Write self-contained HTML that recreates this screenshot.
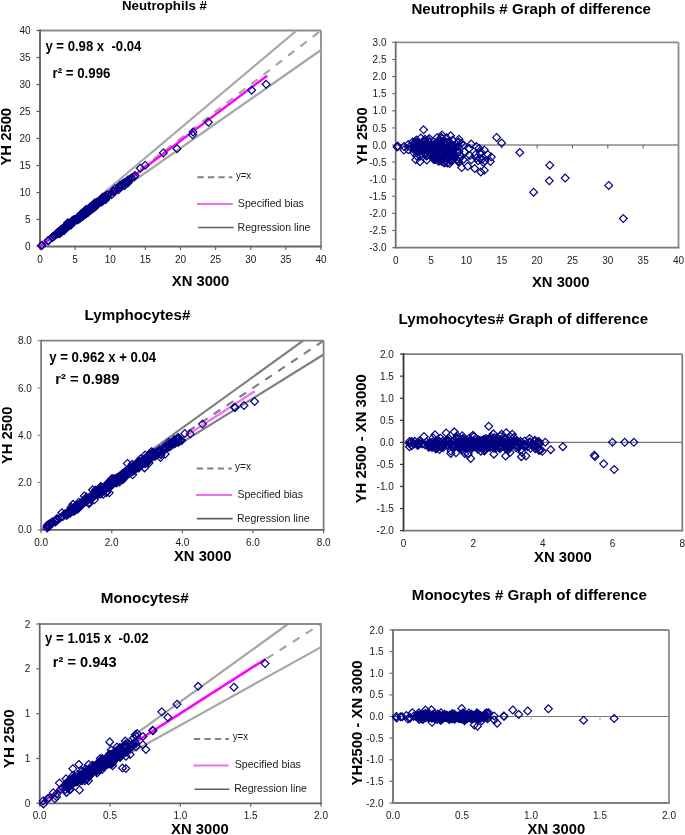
<!DOCTYPE html><html><head><meta charset="utf-8"><style>html,body{margin:0;padding:0;background:#fff;}svg{display:block;will-change:transform;}</style></head><body><svg width="685" height="835" viewBox="0 0 685 835" font-family="Liberation Sans, sans-serif"><rect width="685" height="835" fill="#fff"/><line x1="40.00" y1="30.50" x2="321.00" y2="30.50" stroke="#8c8c8c" stroke-width="1.8"/><line x1="321.00" y1="30.50" x2="321.00" y2="246.50" stroke="#8c8c8c" stroke-width="1.8"/><line x1="40.00" y1="29.60" x2="40.00" y2="247.40" stroke="#595959" stroke-width="1.8"/><line x1="39.10" y1="246.50" x2="321.90" y2="246.50" stroke="#666" stroke-width="1.8"/><line x1="36.50" y1="246.50" x2="40.00" y2="246.50" stroke="#595959" stroke-width="1.2"/><text x="30.50" y="250.10" font-size="10" font-weight="normal" text-anchor="end" fill="#1a1a1a" xml:space="preserve">0</text><line x1="36.50" y1="219.50" x2="40.00" y2="219.50" stroke="#595959" stroke-width="1.2"/><text x="30.50" y="223.10" font-size="10" font-weight="normal" text-anchor="end" fill="#1a1a1a" xml:space="preserve">5</text><line x1="36.50" y1="192.50" x2="40.00" y2="192.50" stroke="#595959" stroke-width="1.2"/><text x="30.50" y="196.10" font-size="10" font-weight="normal" text-anchor="end" fill="#1a1a1a" xml:space="preserve">10</text><line x1="36.50" y1="165.50" x2="40.00" y2="165.50" stroke="#595959" stroke-width="1.2"/><text x="30.50" y="169.10" font-size="10" font-weight="normal" text-anchor="end" fill="#1a1a1a" xml:space="preserve">15</text><line x1="36.50" y1="138.50" x2="40.00" y2="138.50" stroke="#595959" stroke-width="1.2"/><text x="30.50" y="142.10" font-size="10" font-weight="normal" text-anchor="end" fill="#1a1a1a" xml:space="preserve">20</text><line x1="36.50" y1="111.50" x2="40.00" y2="111.50" stroke="#595959" stroke-width="1.2"/><text x="30.50" y="115.10" font-size="10" font-weight="normal" text-anchor="end" fill="#1a1a1a" xml:space="preserve">25</text><line x1="36.50" y1="84.50" x2="40.00" y2="84.50" stroke="#595959" stroke-width="1.2"/><text x="30.50" y="88.10" font-size="10" font-weight="normal" text-anchor="end" fill="#1a1a1a" xml:space="preserve">30</text><line x1="36.50" y1="57.50" x2="40.00" y2="57.50" stroke="#595959" stroke-width="1.2"/><text x="30.50" y="61.10" font-size="10" font-weight="normal" text-anchor="end" fill="#1a1a1a" xml:space="preserve">35</text><line x1="36.50" y1="30.50" x2="40.00" y2="30.50" stroke="#595959" stroke-width="1.2"/><text x="30.50" y="34.10" font-size="10" font-weight="normal" text-anchor="end" fill="#1a1a1a" xml:space="preserve">40</text><line x1="40.00" y1="246.50" x2="40.00" y2="250.00" stroke="#666" stroke-width="1.2"/><text x="40.00" y="263.30" font-size="10" font-weight="normal" text-anchor="middle" fill="#1a1a1a" xml:space="preserve">0</text><line x1="75.12" y1="246.50" x2="75.12" y2="250.00" stroke="#666" stroke-width="1.2"/><text x="75.12" y="263.30" font-size="10" font-weight="normal" text-anchor="middle" fill="#1a1a1a" xml:space="preserve">5</text><line x1="110.25" y1="246.50" x2="110.25" y2="250.00" stroke="#666" stroke-width="1.2"/><text x="110.25" y="263.30" font-size="10" font-weight="normal" text-anchor="middle" fill="#1a1a1a" xml:space="preserve">10</text><line x1="145.38" y1="246.50" x2="145.38" y2="250.00" stroke="#666" stroke-width="1.2"/><text x="145.38" y="263.30" font-size="10" font-weight="normal" text-anchor="middle" fill="#1a1a1a" xml:space="preserve">15</text><line x1="180.50" y1="246.50" x2="180.50" y2="250.00" stroke="#666" stroke-width="1.2"/><text x="180.50" y="263.30" font-size="10" font-weight="normal" text-anchor="middle" fill="#1a1a1a" xml:space="preserve">20</text><line x1="215.62" y1="246.50" x2="215.62" y2="250.00" stroke="#666" stroke-width="1.2"/><text x="215.62" y="263.30" font-size="10" font-weight="normal" text-anchor="middle" fill="#1a1a1a" xml:space="preserve">25</text><line x1="250.75" y1="246.50" x2="250.75" y2="250.00" stroke="#666" stroke-width="1.2"/><text x="250.75" y="263.30" font-size="10" font-weight="normal" text-anchor="middle" fill="#1a1a1a" xml:space="preserve">30</text><line x1="285.88" y1="246.50" x2="285.88" y2="250.00" stroke="#666" stroke-width="1.2"/><text x="285.88" y="263.30" font-size="10" font-weight="normal" text-anchor="middle" fill="#1a1a1a" xml:space="preserve">35</text><line x1="321.00" y1="246.50" x2="321.00" y2="250.00" stroke="#666" stroke-width="1.2"/><text x="321.00" y="263.30" font-size="10" font-weight="normal" text-anchor="middle" fill="#1a1a1a" xml:space="preserve">40</text><text x="531.20" y="13.90" font-size="15" font-weight="bold" text-anchor="middle" fill="#000" textLength="239.60" lengthAdjust="spacingAndGlyphs" xml:space="preserve">Neutrophils # Graph of difference</text><text x="367.30" y="136.00" font-size="15" font-weight="bold" text-anchor="middle" fill="#000" textLength="57.50" lengthAdjust="spacingAndGlyphs" transform="rotate(-90 367.30 136.00)" xml:space="preserve">YH 2500</text><text x="532.00" y="286.50" font-size="15" font-weight="bold" text-anchor="start" fill="#000" textLength="57.50" lengthAdjust="spacingAndGlyphs" xml:space="preserve">XN 3000</text><line x1="395.70" y1="145.00" x2="678.50" y2="145.00" stroke="#a6a6a6" stroke-width="1.8"/><line x1="431.05" y1="145.00" x2="431.05" y2="148.50" stroke="#595959" stroke-width="1"/><line x1="466.40" y1="145.00" x2="466.40" y2="148.50" stroke="#595959" stroke-width="1"/><line x1="501.75" y1="145.00" x2="501.75" y2="148.50" stroke="#595959" stroke-width="1"/><line x1="537.10" y1="145.00" x2="537.10" y2="148.50" stroke="#595959" stroke-width="1"/><line x1="572.45" y1="145.00" x2="572.45" y2="148.50" stroke="#595959" stroke-width="1"/><line x1="607.80" y1="145.00" x2="607.80" y2="148.50" stroke="#595959" stroke-width="1"/><line x1="643.15" y1="145.00" x2="643.15" y2="148.50" stroke="#595959" stroke-width="1"/><line x1="678.50" y1="145.00" x2="678.50" y2="148.50" stroke="#595959" stroke-width="1"/><line x1="395.70" y1="42.40" x2="678.50" y2="42.40" stroke="#8c8c8c" stroke-width="1.8"/><line x1="678.50" y1="42.40" x2="678.50" y2="247.60" stroke="#8c8c8c" stroke-width="1.8"/><line x1="395.70" y1="41.50" x2="395.70" y2="248.50" stroke="#6e6e6e" stroke-width="1.8"/><line x1="394.80" y1="247.60" x2="679.40" y2="247.60" stroke="#7a7a7a" stroke-width="1.8"/><line x1="392.20" y1="247.60" x2="395.70" y2="247.60" stroke="#6e6e6e" stroke-width="1.2"/><text x="386.50" y="251.20" font-size="10" font-weight="normal" text-anchor="end" fill="#1a1a1a" xml:space="preserve">-3.0</text><line x1="392.20" y1="230.50" x2="395.70" y2="230.50" stroke="#6e6e6e" stroke-width="1.2"/><text x="386.50" y="234.10" font-size="10" font-weight="normal" text-anchor="end" fill="#1a1a1a" xml:space="preserve">-2.5</text><line x1="392.20" y1="213.40" x2="395.70" y2="213.40" stroke="#6e6e6e" stroke-width="1.2"/><text x="386.50" y="217.00" font-size="10" font-weight="normal" text-anchor="end" fill="#1a1a1a" xml:space="preserve">-2.0</text><line x1="392.20" y1="196.30" x2="395.70" y2="196.30" stroke="#6e6e6e" stroke-width="1.2"/><text x="386.50" y="199.90" font-size="10" font-weight="normal" text-anchor="end" fill="#1a1a1a" xml:space="preserve">-1.5</text><line x1="392.20" y1="179.20" x2="395.70" y2="179.20" stroke="#6e6e6e" stroke-width="1.2"/><text x="386.50" y="182.80" font-size="10" font-weight="normal" text-anchor="end" fill="#1a1a1a" xml:space="preserve">-1.0</text><line x1="392.20" y1="162.10" x2="395.70" y2="162.10" stroke="#6e6e6e" stroke-width="1.2"/><text x="386.50" y="165.70" font-size="10" font-weight="normal" text-anchor="end" fill="#1a1a1a" xml:space="preserve">-0.5</text><line x1="392.20" y1="145.00" x2="395.70" y2="145.00" stroke="#6e6e6e" stroke-width="1.2"/><text x="386.50" y="148.60" font-size="10" font-weight="normal" text-anchor="end" fill="#1a1a1a" xml:space="preserve">0.0</text><line x1="392.20" y1="127.90" x2="395.70" y2="127.90" stroke="#6e6e6e" stroke-width="1.2"/><text x="386.50" y="131.50" font-size="10" font-weight="normal" text-anchor="end" fill="#1a1a1a" xml:space="preserve">0.5</text><line x1="392.20" y1="110.80" x2="395.70" y2="110.80" stroke="#6e6e6e" stroke-width="1.2"/><text x="386.50" y="114.40" font-size="10" font-weight="normal" text-anchor="end" fill="#1a1a1a" xml:space="preserve">1.0</text><line x1="392.20" y1="93.70" x2="395.70" y2="93.70" stroke="#6e6e6e" stroke-width="1.2"/><text x="386.50" y="97.30" font-size="10" font-weight="normal" text-anchor="end" fill="#1a1a1a" xml:space="preserve">1.5</text><line x1="392.20" y1="76.60" x2="395.70" y2="76.60" stroke="#6e6e6e" stroke-width="1.2"/><text x="386.50" y="80.20" font-size="10" font-weight="normal" text-anchor="end" fill="#1a1a1a" xml:space="preserve">2.0</text><line x1="392.20" y1="59.50" x2="395.70" y2="59.50" stroke="#6e6e6e" stroke-width="1.2"/><text x="386.50" y="63.10" font-size="10" font-weight="normal" text-anchor="end" fill="#1a1a1a" xml:space="preserve">2.5</text><line x1="392.20" y1="42.40" x2="395.70" y2="42.40" stroke="#6e6e6e" stroke-width="1.2"/><text x="386.50" y="46.00" font-size="10" font-weight="normal" text-anchor="end" fill="#1a1a1a" xml:space="preserve">3.0</text><text x="395.70" y="264.20" font-size="10" font-weight="normal" text-anchor="middle" fill="#1a1a1a" xml:space="preserve">0</text><text x="431.05" y="264.20" font-size="10" font-weight="normal" text-anchor="middle" fill="#1a1a1a" xml:space="preserve">5</text><text x="466.40" y="264.20" font-size="10" font-weight="normal" text-anchor="middle" fill="#1a1a1a" xml:space="preserve">10</text><text x="501.75" y="264.20" font-size="10" font-weight="normal" text-anchor="middle" fill="#1a1a1a" xml:space="preserve">15</text><text x="537.10" y="264.20" font-size="10" font-weight="normal" text-anchor="middle" fill="#1a1a1a" xml:space="preserve">20</text><text x="572.45" y="264.20" font-size="10" font-weight="normal" text-anchor="middle" fill="#1a1a1a" xml:space="preserve">25</text><text x="607.80" y="264.20" font-size="10" font-weight="normal" text-anchor="middle" fill="#1a1a1a" xml:space="preserve">30</text><text x="643.15" y="264.20" font-size="10" font-weight="normal" text-anchor="middle" fill="#1a1a1a" xml:space="preserve">35</text><text x="678.50" y="264.20" font-size="10" font-weight="normal" text-anchor="middle" fill="#1a1a1a" xml:space="preserve">40</text><text x="84.60" y="319.90" font-size="15" font-weight="bold" text-anchor="start" fill="#000" textLength="105.80" lengthAdjust="spacingAndGlyphs" xml:space="preserve">Lymphocytes#</text><text x="11.60" y="435.30" font-size="15" font-weight="bold" text-anchor="middle" fill="#000" textLength="57.40" lengthAdjust="spacingAndGlyphs" transform="rotate(-90 11.60 435.30)" xml:space="preserve">YH 2500</text><text x="174.00" y="561.20" font-size="15" font-weight="bold" text-anchor="start" fill="#000" textLength="57.50" lengthAdjust="spacingAndGlyphs" xml:space="preserve">XN 3000</text><text x="49.30" y="362.00" font-size="14" font-weight="bold" text-anchor="start" fill="#000" textLength="106.80" lengthAdjust="spacingAndGlyphs" xml:space="preserve">y = 0.962 x + 0.04</text><text x="55.20" y="383.60" font-size="15" font-weight="bold" text-anchor="start" fill="#000" textLength="64.20" lengthAdjust="spacingAndGlyphs" xml:space="preserve">r² = 0.989</text><line x1="41.10" y1="529.80" x2="303.20" y2="340.70" stroke="#7f7f7f" stroke-width="2.2"/><line x1="41.10" y1="529.80" x2="323.60" y2="354.50" stroke="#7f7f7f" stroke-width="2.2"/><line x1="323.60" y1="340.70" x2="41.10" y2="529.80" stroke="#808080" stroke-width="2.2" stroke-dasharray="6.2 9.3" stroke-dashoffset="14.4" stroke-linecap="round"/><line x1="41.10" y1="529.80" x2="254.74" y2="391.28" stroke="#ff66ff" stroke-width="2.2"/><line x1="196.70" y1="468.50" x2="231.70" y2="468.50" stroke="#808080" stroke-width="2" stroke-dasharray="6.3 4.2"/><text x="235.00" y="470.00" font-size="11" font-weight="normal" text-anchor="start" fill="#1a1a1a" textLength="16.00" lengthAdjust="spacingAndGlyphs" xml:space="preserve">y=x</text><line x1="196.00" y1="495.00" x2="232.00" y2="495.00" stroke="#f26cf0" stroke-width="2"/><text x="237.40" y="498.40" font-size="10.5" font-weight="normal" text-anchor="start" fill="#1a1a1a" textLength="65.60" lengthAdjust="spacingAndGlyphs" xml:space="preserve">Specified bias</text><line x1="196.90" y1="518.60" x2="232.70" y2="518.60" stroke="#5f5f5f" stroke-width="1.6"/><text x="237.00" y="522.00" font-size="10.5" font-weight="normal" text-anchor="start" fill="#1a1a1a" textLength="72.60" lengthAdjust="spacingAndGlyphs" xml:space="preserve">Regression line</text><line x1="41.10" y1="340.70" x2="323.60" y2="340.70" stroke="#808080" stroke-width="1.8"/><line x1="323.60" y1="340.70" x2="323.60" y2="529.80" stroke="#808080" stroke-width="1.8"/><line x1="41.10" y1="339.80" x2="41.10" y2="530.70" stroke="#808080" stroke-width="1.8"/><line x1="40.20" y1="529.80" x2="324.50" y2="529.80" stroke="#666" stroke-width="1.8"/><line x1="37.60" y1="529.80" x2="41.10" y2="529.80" stroke="#808080" stroke-width="1.2"/><text x="31.80" y="533.40" font-size="10" font-weight="normal" text-anchor="end" fill="#1a1a1a" xml:space="preserve">0.0</text><line x1="37.60" y1="482.52" x2="41.10" y2="482.52" stroke="#808080" stroke-width="1.2"/><text x="31.80" y="486.12" font-size="10" font-weight="normal" text-anchor="end" fill="#1a1a1a" xml:space="preserve">2.0</text><line x1="37.60" y1="435.25" x2="41.10" y2="435.25" stroke="#808080" stroke-width="1.2"/><text x="31.80" y="438.85" font-size="10" font-weight="normal" text-anchor="end" fill="#1a1a1a" xml:space="preserve">4.0</text><line x1="37.60" y1="387.97" x2="41.10" y2="387.97" stroke="#808080" stroke-width="1.2"/><text x="31.80" y="391.57" font-size="10" font-weight="normal" text-anchor="end" fill="#1a1a1a" xml:space="preserve">6.0</text><line x1="37.60" y1="340.70" x2="41.10" y2="340.70" stroke="#808080" stroke-width="1.2"/><text x="31.80" y="344.30" font-size="10" font-weight="normal" text-anchor="end" fill="#1a1a1a" xml:space="preserve">8.0</text><line x1="41.10" y1="529.80" x2="41.10" y2="533.30" stroke="#666" stroke-width="1.2"/><text x="41.10" y="545.70" font-size="10" font-weight="normal" text-anchor="middle" fill="#1a1a1a" xml:space="preserve">0.0</text><line x1="111.72" y1="529.80" x2="111.72" y2="533.30" stroke="#666" stroke-width="1.2"/><text x="111.72" y="545.70" font-size="10" font-weight="normal" text-anchor="middle" fill="#1a1a1a" xml:space="preserve">2.0</text><line x1="182.35" y1="529.80" x2="182.35" y2="533.30" stroke="#666" stroke-width="1.2"/><text x="182.35" y="545.70" font-size="10" font-weight="normal" text-anchor="middle" fill="#1a1a1a" xml:space="preserve">4.0</text><line x1="252.97" y1="529.80" x2="252.97" y2="533.30" stroke="#666" stroke-width="1.2"/><text x="252.97" y="545.70" font-size="10" font-weight="normal" text-anchor="middle" fill="#1a1a1a" xml:space="preserve">6.0</text><line x1="323.60" y1="529.80" x2="323.60" y2="533.30" stroke="#666" stroke-width="1.2"/><text x="323.60" y="545.70" font-size="10" font-weight="normal" text-anchor="middle" fill="#1a1a1a" xml:space="preserve">8.0</text><text x="398.60" y="324.30" font-size="15" font-weight="bold" text-anchor="start" fill="#000" textLength="249.50" lengthAdjust="spacingAndGlyphs" xml:space="preserve">Lymohocytes# Graph of difference</text><text x="366.00" y="438.80" font-size="15" font-weight="bold" text-anchor="middle" fill="#000" textLength="129.00" lengthAdjust="spacingAndGlyphs" transform="rotate(-90 366.00 438.80)" xml:space="preserve">YH 2500 - XN 3000</text><text x="534.00" y="561.50" font-size="15" font-weight="bold" text-anchor="start" fill="#000" textLength="57.80" lengthAdjust="spacingAndGlyphs" xml:space="preserve">XN 3000</text><line x1="403.50" y1="442.35" x2="682.30" y2="442.35" stroke="#777" stroke-width="1.1"/><line x1="473.20" y1="442.35" x2="473.20" y2="445.85" stroke="#666" stroke-width="1"/><line x1="542.90" y1="442.35" x2="542.90" y2="445.85" stroke="#666" stroke-width="1"/><line x1="612.60" y1="442.35" x2="612.60" y2="445.85" stroke="#666" stroke-width="1"/><line x1="403.50" y1="354.10" x2="682.30" y2="354.10" stroke="#808080" stroke-width="1.8"/><line x1="682.30" y1="354.10" x2="682.30" y2="530.60" stroke="#808080" stroke-width="1.8"/><line x1="403.50" y1="353.20" x2="403.50" y2="531.50" stroke="#333" stroke-width="1.8"/><line x1="402.60" y1="530.60" x2="683.20" y2="530.60" stroke="#777" stroke-width="1.8"/><line x1="400.00" y1="530.60" x2="403.50" y2="530.60" stroke="#333" stroke-width="1.2"/><text x="393.80" y="534.20" font-size="10" font-weight="normal" text-anchor="end" fill="#1a1a1a" xml:space="preserve">-2.0</text><line x1="400.00" y1="508.54" x2="403.50" y2="508.54" stroke="#333" stroke-width="1.2"/><text x="393.80" y="512.14" font-size="10" font-weight="normal" text-anchor="end" fill="#1a1a1a" xml:space="preserve">-1.5</text><line x1="400.00" y1="486.48" x2="403.50" y2="486.48" stroke="#333" stroke-width="1.2"/><text x="393.80" y="490.08" font-size="10" font-weight="normal" text-anchor="end" fill="#1a1a1a" xml:space="preserve">-1.0</text><line x1="400.00" y1="464.41" x2="403.50" y2="464.41" stroke="#333" stroke-width="1.2"/><text x="393.80" y="468.01" font-size="10" font-weight="normal" text-anchor="end" fill="#1a1a1a" xml:space="preserve">-0.5</text><line x1="400.00" y1="442.35" x2="403.50" y2="442.35" stroke="#333" stroke-width="1.2"/><text x="393.80" y="445.95" font-size="10" font-weight="normal" text-anchor="end" fill="#1a1a1a" xml:space="preserve">0.0</text><line x1="400.00" y1="420.29" x2="403.50" y2="420.29" stroke="#333" stroke-width="1.2"/><text x="393.80" y="423.89" font-size="10" font-weight="normal" text-anchor="end" fill="#1a1a1a" xml:space="preserve">0.5</text><line x1="400.00" y1="398.23" x2="403.50" y2="398.23" stroke="#333" stroke-width="1.2"/><text x="393.80" y="401.83" font-size="10" font-weight="normal" text-anchor="end" fill="#1a1a1a" xml:space="preserve">1.0</text><line x1="400.00" y1="376.16" x2="403.50" y2="376.16" stroke="#333" stroke-width="1.2"/><text x="393.80" y="379.76" font-size="10" font-weight="normal" text-anchor="end" fill="#1a1a1a" xml:space="preserve">1.5</text><line x1="400.00" y1="354.10" x2="403.50" y2="354.10" stroke="#333" stroke-width="1.2"/><text x="393.80" y="357.70" font-size="10" font-weight="normal" text-anchor="end" fill="#1a1a1a" xml:space="preserve">2.0</text><text x="403.50" y="546.60" font-size="10" font-weight="normal" text-anchor="middle" fill="#1a1a1a" xml:space="preserve">0</text><text x="473.20" y="546.60" font-size="10" font-weight="normal" text-anchor="middle" fill="#1a1a1a" xml:space="preserve">2</text><text x="542.90" y="546.60" font-size="10" font-weight="normal" text-anchor="middle" fill="#1a1a1a" xml:space="preserve">4</text><text x="612.60" y="546.60" font-size="10" font-weight="normal" text-anchor="middle" fill="#1a1a1a" xml:space="preserve">6</text><text x="682.30" y="546.60" font-size="10" font-weight="normal" text-anchor="middle" fill="#1a1a1a" xml:space="preserve">8</text><text x="100.80" y="603.00" font-size="15" font-weight="bold" text-anchor="start" fill="#000" textLength="88.00" lengthAdjust="spacingAndGlyphs" xml:space="preserve">Monocytes#</text><text x="14.20" y="738.80" font-size="15" font-weight="bold" text-anchor="middle" fill="#000" textLength="58.70" lengthAdjust="spacingAndGlyphs" transform="rotate(-90 14.20 738.80)" xml:space="preserve">YH 2500</text><text x="171.10" y="833.90" font-size="15" font-weight="bold" text-anchor="start" fill="#000" textLength="57.50" lengthAdjust="spacingAndGlyphs" xml:space="preserve">XN 3000</text><text x="45.10" y="643.20" font-size="14" font-weight="bold" text-anchor="start" fill="#000" textLength="103.50" lengthAdjust="spacingAndGlyphs" xml:space="preserve">y = 1.015 x  -0.02</text><text x="52.80" y="666.50" font-size="15" font-weight="bold" text-anchor="start" fill="#000" textLength="63.80" lengthAdjust="spacingAndGlyphs" xml:space="preserve">r² = 0.943</text><line x1="39.70" y1="803.30" x2="288.00" y2="624.00" stroke="#a6a6a6" stroke-width="2.2"/><line x1="39.70" y1="803.30" x2="321.00" y2="647.10" stroke="#a6a6a6" stroke-width="2.2"/><line x1="321.00" y1="624.00" x2="39.70" y2="803.30" stroke="#a6a6a6" stroke-width="2.2" stroke-dasharray="6.2 9.3" stroke-dashoffset="4.6" stroke-linecap="round"/><line x1="39.70" y1="803.30" x2="264.74" y2="659.50" stroke="#ff00ff" stroke-width="2.5" stroke-linecap="round"/><line x1="193.90" y1="739.00" x2="228.90" y2="739.00" stroke="#808080" stroke-width="2" stroke-dasharray="6.3 4.2"/><text x="232.70" y="740.40" font-size="11" font-weight="normal" text-anchor="start" fill="#1a1a1a" textLength="15.50" lengthAdjust="spacingAndGlyphs" xml:space="preserve">y=x</text><line x1="193.50" y1="765.50" x2="228.60" y2="765.50" stroke="#f26cf0" stroke-width="2"/><text x="234.70" y="768.40" font-size="10.5" font-weight="normal" text-anchor="start" fill="#1a1a1a" textLength="66.20" lengthAdjust="spacingAndGlyphs" xml:space="preserve">Specified bias</text><line x1="194.50" y1="789.20" x2="229.50" y2="789.20" stroke="#5f5f5f" stroke-width="1.6"/><text x="234.20" y="792.00" font-size="10.5" font-weight="normal" text-anchor="start" fill="#1a1a1a" textLength="72.80" lengthAdjust="spacingAndGlyphs" xml:space="preserve">Regression line</text><line x1="39.70" y1="624.00" x2="321.00" y2="624.00" stroke="#8c8c8c" stroke-width="1.8"/><line x1="321.00" y1="624.00" x2="321.00" y2="803.30" stroke="#8c8c8c" stroke-width="1.8"/><line x1="39.70" y1="623.10" x2="39.70" y2="804.20" stroke="#666" stroke-width="1.8"/><line x1="38.80" y1="803.30" x2="321.90" y2="803.30" stroke="#666" stroke-width="1.8"/><line x1="36.20" y1="803.30" x2="39.70" y2="803.30" stroke="#666" stroke-width="1.2"/><text x="30.20" y="806.90" font-size="10" font-weight="normal" text-anchor="end" fill="#1a1a1a" xml:space="preserve">0</text><line x1="36.20" y1="758.47" x2="39.70" y2="758.47" stroke="#666" stroke-width="1.2"/><text x="30.20" y="762.07" font-size="10" font-weight="normal" text-anchor="end" fill="#1a1a1a" xml:space="preserve">1</text><line x1="36.20" y1="713.65" x2="39.70" y2="713.65" stroke="#666" stroke-width="1.2"/><text x="30.20" y="717.25" font-size="10" font-weight="normal" text-anchor="end" fill="#1a1a1a" xml:space="preserve">1</text><line x1="36.20" y1="668.83" x2="39.70" y2="668.83" stroke="#666" stroke-width="1.2"/><text x="30.20" y="672.43" font-size="10" font-weight="normal" text-anchor="end" fill="#1a1a1a" xml:space="preserve">2</text><line x1="36.20" y1="624.00" x2="39.70" y2="624.00" stroke="#666" stroke-width="1.2"/><text x="30.20" y="627.60" font-size="10" font-weight="normal" text-anchor="end" fill="#1a1a1a" xml:space="preserve">2</text><line x1="39.70" y1="803.30" x2="39.70" y2="806.80" stroke="#666" stroke-width="1.2"/><text x="39.70" y="819.30" font-size="10" font-weight="normal" text-anchor="middle" fill="#1a1a1a" xml:space="preserve">0.0</text><line x1="110.03" y1="803.30" x2="110.03" y2="806.80" stroke="#666" stroke-width="1.2"/><text x="110.03" y="819.30" font-size="10" font-weight="normal" text-anchor="middle" fill="#1a1a1a" xml:space="preserve">0.5</text><line x1="180.35" y1="803.30" x2="180.35" y2="806.80" stroke="#666" stroke-width="1.2"/><text x="180.35" y="819.30" font-size="10" font-weight="normal" text-anchor="middle" fill="#1a1a1a" xml:space="preserve">1.0</text><line x1="250.68" y1="803.30" x2="250.68" y2="806.80" stroke="#666" stroke-width="1.2"/><text x="250.68" y="819.30" font-size="10" font-weight="normal" text-anchor="middle" fill="#1a1a1a" xml:space="preserve">1.5</text><line x1="321.00" y1="803.30" x2="321.00" y2="806.80" stroke="#666" stroke-width="1.2"/><text x="321.00" y="819.30" font-size="10" font-weight="normal" text-anchor="middle" fill="#1a1a1a" xml:space="preserve">2.0</text><text x="411.80" y="599.60" font-size="15" font-weight="bold" text-anchor="start" fill="#000" textLength="235.00" lengthAdjust="spacingAndGlyphs" xml:space="preserve">Monocytes # Graph of difference</text><text x="362.20" y="723.00" font-size="15" font-weight="bold" text-anchor="middle" fill="#000" textLength="125.00" lengthAdjust="spacingAndGlyphs" transform="rotate(-90 362.20 723.00)" xml:space="preserve">YH2500 - XN 3000</text><text x="527.60" y="834.20" font-size="15" font-weight="bold" text-anchor="start" fill="#000" textLength="57.50" lengthAdjust="spacingAndGlyphs" xml:space="preserve">XN 3000</text><line x1="393.00" y1="716.50" x2="669.00" y2="716.50" stroke="#777" stroke-width="1.1"/><line x1="462.00" y1="716.50" x2="462.00" y2="720.00" stroke="#aaa" stroke-width="1"/><line x1="531.00" y1="716.50" x2="531.00" y2="720.00" stroke="#aaa" stroke-width="1"/><line x1="600.00" y1="716.50" x2="600.00" y2="720.00" stroke="#aaa" stroke-width="1"/><line x1="393.00" y1="630.00" x2="669.00" y2="630.00" stroke="#8c8c8c" stroke-width="1.8"/><line x1="669.00" y1="630.00" x2="669.00" y2="803.00" stroke="#8c8c8c" stroke-width="1.8"/><line x1="393.00" y1="629.10" x2="393.00" y2="803.90" stroke="#6e6e6e" stroke-width="1.8"/><line x1="392.10" y1="803.00" x2="669.90" y2="803.00" stroke="#808080" stroke-width="1.8"/><line x1="389.50" y1="803.00" x2="393.00" y2="803.00" stroke="#6e6e6e" stroke-width="1.2"/><text x="383.50" y="806.60" font-size="10" font-weight="normal" text-anchor="end" fill="#1a1a1a" xml:space="preserve">-2.0</text><line x1="389.50" y1="781.38" x2="393.00" y2="781.38" stroke="#6e6e6e" stroke-width="1.2"/><text x="383.50" y="784.98" font-size="10" font-weight="normal" text-anchor="end" fill="#1a1a1a" xml:space="preserve">-1.5</text><line x1="389.50" y1="759.75" x2="393.00" y2="759.75" stroke="#6e6e6e" stroke-width="1.2"/><text x="383.50" y="763.35" font-size="10" font-weight="normal" text-anchor="end" fill="#1a1a1a" xml:space="preserve">-1.0</text><line x1="389.50" y1="738.12" x2="393.00" y2="738.12" stroke="#6e6e6e" stroke-width="1.2"/><text x="383.50" y="741.73" font-size="10" font-weight="normal" text-anchor="end" fill="#1a1a1a" xml:space="preserve">-0.5</text><line x1="389.50" y1="716.50" x2="393.00" y2="716.50" stroke="#6e6e6e" stroke-width="1.2"/><text x="383.50" y="720.10" font-size="10" font-weight="normal" text-anchor="end" fill="#1a1a1a" xml:space="preserve">0.0</text><line x1="389.50" y1="694.88" x2="393.00" y2="694.88" stroke="#6e6e6e" stroke-width="1.2"/><text x="383.50" y="698.48" font-size="10" font-weight="normal" text-anchor="end" fill="#1a1a1a" xml:space="preserve">0.5</text><line x1="389.50" y1="673.25" x2="393.00" y2="673.25" stroke="#6e6e6e" stroke-width="1.2"/><text x="383.50" y="676.85" font-size="10" font-weight="normal" text-anchor="end" fill="#1a1a1a" xml:space="preserve">1.0</text><line x1="389.50" y1="651.62" x2="393.00" y2="651.62" stroke="#6e6e6e" stroke-width="1.2"/><text x="383.50" y="655.23" font-size="10" font-weight="normal" text-anchor="end" fill="#1a1a1a" xml:space="preserve">1.5</text><line x1="389.50" y1="630.00" x2="393.00" y2="630.00" stroke="#6e6e6e" stroke-width="1.2"/><text x="383.50" y="633.60" font-size="10" font-weight="normal" text-anchor="end" fill="#1a1a1a" xml:space="preserve">2.0</text><text x="393.00" y="819.00" font-size="10" font-weight="normal" text-anchor="middle" fill="#1a1a1a" xml:space="preserve">0.0</text><text x="462.00" y="819.00" font-size="10" font-weight="normal" text-anchor="middle" fill="#1a1a1a" xml:space="preserve">0.5</text><text x="531.00" y="819.00" font-size="10" font-weight="normal" text-anchor="middle" fill="#1a1a1a" xml:space="preserve">1.0</text><text x="600.00" y="819.00" font-size="10" font-weight="normal" text-anchor="middle" fill="#1a1a1a" xml:space="preserve">1.5</text><text x="669.00" y="819.00" font-size="10" font-weight="normal" text-anchor="middle" fill="#1a1a1a" xml:space="preserve">2.0</text><text x="121.90" y="10.20" font-size="13" font-weight="bold" text-anchor="start" fill="#000" textLength="85.00" lengthAdjust="spacingAndGlyphs" xml:space="preserve">Neutrophils #</text><text x="11.30" y="136.70" font-size="15" font-weight="bold" text-anchor="middle" fill="#000" textLength="57.60" lengthAdjust="spacingAndGlyphs" transform="rotate(-90 11.30 136.70)" xml:space="preserve">YH 2500</text><text x="171.80" y="285.90" font-size="15" font-weight="bold" text-anchor="start" fill="#000" textLength="57.50" lengthAdjust="spacingAndGlyphs" xml:space="preserve">XN 3000</text><text x="45.40" y="50.90" font-size="14" font-weight="bold" text-anchor="start" fill="#000" textLength="96.00" lengthAdjust="spacingAndGlyphs" xml:space="preserve">y = 0.98 x  -0.04</text><text x="52.60" y="77.60" font-size="14.5" font-weight="bold" text-anchor="start" fill="#000" textLength="57.80" lengthAdjust="spacingAndGlyphs" xml:space="preserve">r² = 0.996</text><line x1="40.00" y1="246.50" x2="296.60" y2="30.50" stroke="#a6a6a6" stroke-width="2.2"/><line x1="40.00" y1="246.50" x2="321.00" y2="50.00" stroke="#a6a6a6" stroke-width="2.2"/><line x1="321.00" y1="30.50" x2="40.00" y2="246.50" stroke="#a6a6a6" stroke-width="2.2" stroke-dasharray="6.2 9.3" stroke-dashoffset="12.1" stroke-linecap="round"/><line x1="40.00" y1="246.50" x2="266.40" y2="76.20" stroke="#ff00ff" stroke-width="2.5" stroke-linecap="round"/><line x1="197.40" y1="177.20" x2="232.40" y2="177.20" stroke="#808080" stroke-width="2" stroke-dasharray="6.3 4.2"/><text x="235.90" y="178.50" font-size="11" font-weight="normal" text-anchor="start" fill="#1a1a1a" textLength="15.30" lengthAdjust="spacingAndGlyphs" xml:space="preserve">y=x</text><line x1="197.00" y1="203.90" x2="232.70" y2="203.90" stroke="#f26cf0" stroke-width="2"/><text x="237.80" y="207.40" font-size="10.5" font-weight="normal" text-anchor="start" fill="#1a1a1a" textLength="66.10" lengthAdjust="spacingAndGlyphs" xml:space="preserve">Specified bias</text><line x1="198.20" y1="227.50" x2="233.60" y2="227.50" stroke="#5f5f5f" stroke-width="1.6"/><text x="237.50" y="230.60" font-size="10.5" font-weight="normal" text-anchor="start" fill="#1a1a1a" textLength="73.00" lengthAdjust="spacingAndGlyphs" xml:space="preserve">Regression line</text><path d="M41.39 241.86L45.29 245.76L41.39 249.66L37.49 245.76Z" fill="none" stroke="#000080" stroke-width="1.2"/><path d="M41.99 241.23L45.89 245.13L41.99 249.03L38.09 245.13Z" fill="none" stroke="#000080" stroke-width="1.2"/><path d="M48.15 236.56L52.05 240.46L48.15 244.36L44.25 240.46Z" fill="none" stroke="#000080" stroke-width="1.2"/><path d="M48.15 237.14L52.05 241.04L48.15 244.94L44.25 241.04Z" fill="none" stroke="#000080" stroke-width="1.2"/><path d="M52.52 232.91L56.42 236.81L52.52 240.71L48.62 236.81Z" fill="none" stroke="#000080" stroke-width="1.2"/><path d="M52.52 233.72L56.42 237.62L52.52 241.52L48.62 237.62Z" fill="none" stroke="#000080" stroke-width="1.2"/><path d="M56.89 229.14L60.79 233.04L56.89 236.94L52.99 233.04Z" fill="none" stroke="#000080" stroke-width="1.2"/><path d="M67.72 218.89L71.62 222.79L67.72 226.69L63.82 222.79Z" fill="none" stroke="#000080" stroke-width="1.2"/><path d="M64.15 226.68L68.05 230.58L64.15 234.48L60.25 230.58Z" fill="none" stroke="#000080" stroke-width="1.2"/><path d="M71.00 221.12L74.90 225.02L71.00 228.92L67.10 225.02Z" fill="none" stroke="#000080" stroke-width="1.2"/><path d="M86.01 205.67L89.91 209.57L86.01 213.47L82.11 209.57Z" fill="none" stroke="#000080" stroke-width="1.2"/><path d="M94.65 199.14L98.55 203.04L94.65 206.94L90.75 203.04Z" fill="none" stroke="#000080" stroke-width="1.2"/><path d="M102.90 193.34L106.80 197.24L102.90 201.14L99.00 197.24Z" fill="none" stroke="#000080" stroke-width="1.2"/><path d="M105.58 195.76L109.48 199.66L105.58 203.56L101.68 199.66Z" fill="none" stroke="#000080" stroke-width="1.2"/><path d="M111.54 190.97L115.44 194.87L111.54 198.77L107.64 194.87Z" fill="none" stroke="#000080" stroke-width="1.2"/><path d="M118.50 185.97L122.40 189.87L118.50 193.77L114.60 189.87Z" fill="none" stroke="#000080" stroke-width="1.2"/><path d="M124.56 181.86L128.46 185.76L124.56 189.66L120.66 185.76Z" fill="none" stroke="#000080" stroke-width="1.2"/><path d="M128.04 178.92L131.94 182.82L128.04 186.72L124.14 182.82Z" fill="none" stroke="#000080" stroke-width="1.2"/><path d="M127.14 178.36L131.04 182.26L127.14 186.16L123.24 182.26Z" fill="none" stroke="#000080" stroke-width="1.2"/><path d="M134.10 172.87L138.00 176.77L134.10 180.67L130.20 176.77Z" fill="none" stroke="#000080" stroke-width="1.2"/><path d="M134.99 171.49L138.89 175.39L134.99 179.29L131.09 175.39Z" fill="none" stroke="#000080" stroke-width="1.2"/><path d="M131.51 173.75L135.41 177.65L131.51 181.55L127.61 177.65Z" fill="none" stroke="#000080" stroke-width="1.2"/><path d="M128.04 175.73L131.94 179.63L128.04 183.53L124.14 179.63Z" fill="none" stroke="#000080" stroke-width="1.2"/><path d="M122.77 179.51L126.67 183.41L122.77 187.31L118.87 183.41Z" fill="none" stroke="#000080" stroke-width="1.2"/><path d="M120.19 181.21L124.09 185.11L120.19 189.01L116.29 185.11Z" fill="none" stroke="#000080" stroke-width="1.2"/><path d="M115.02 184.78L118.92 188.68L115.02 192.58L111.12 188.68Z" fill="none" stroke="#000080" stroke-width="1.2"/><path d="M107.17 190.95L111.07 194.85L107.17 198.75L103.27 194.85Z" fill="none" stroke="#000080" stroke-width="1.2"/><path d="M113.73 187.57L117.63 191.47L113.73 195.37L109.83 191.47Z" fill="none" stroke="#000080" stroke-width="1.2"/><path d="M115.02 187.27L118.92 191.17L115.02 195.07L111.12 191.17Z" fill="none" stroke="#000080" stroke-width="1.2"/><path d="M120.19 183.01L124.09 186.91L120.19 190.81L116.29 186.91Z" fill="none" stroke="#000080" stroke-width="1.2"/><path d="M108.06 191.37L111.96 195.27L108.06 199.17L104.16 195.27Z" fill="none" stroke="#000080" stroke-width="1.2"/><path d="M105.38 194.13L109.28 198.03L105.38 201.93L101.48 198.03Z" fill="none" stroke="#000080" stroke-width="1.2"/><path d="M119.29 183.15L123.19 187.05L119.29 190.95L115.39 187.05Z" fill="none" stroke="#000080" stroke-width="1.2"/><path d="M124.56 178.69L128.46 182.59L124.56 186.49L120.66 182.59Z" fill="none" stroke="#000080" stroke-width="1.2"/><path d="M140.26 164.33L144.16 168.23L140.26 172.13L136.36 168.23Z" fill="none" stroke="#000080" stroke-width="1.2"/><path d="M145.23 161.38L149.13 165.28L145.23 169.18L141.33 165.28Z" fill="none" stroke="#000080" stroke-width="1.2"/><path d="M163.31 149.00L167.21 152.90L163.31 156.80L159.41 152.90Z" fill="none" stroke="#000080" stroke-width="1.2"/><path d="M193.12 128.09L197.02 131.99L193.12 135.89L189.22 131.99Z" fill="none" stroke="#000080" stroke-width="1.2"/><path d="M192.62 130.93L196.52 134.83L192.62 138.73L188.72 134.83Z" fill="none" stroke="#000080" stroke-width="1.2"/><path d="M208.42 118.36L212.32 122.26L208.42 126.16L204.52 122.26Z" fill="none" stroke="#000080" stroke-width="1.2"/><path d="M177.02 144.73L180.92 148.63L177.02 152.53L173.12 148.63Z" fill="none" stroke="#000080" stroke-width="1.2"/><path d="M251.64 86.29L255.54 90.19L251.64 94.09L247.74 90.19Z" fill="none" stroke="#000080" stroke-width="1.2"/><path d="M266.15 80.38L270.05 84.28L266.15 88.18L262.25 84.28Z" fill="none" stroke="#000080" stroke-width="1.2"/><path d="M54.11 231.98L58.01 235.88L54.11 239.78L50.21 235.88Z" fill="none" stroke="#000080" stroke-width="1.2"/><path d="M55.60 231.05L59.50 234.95L55.60 238.85L51.70 234.95Z" fill="none" stroke="#000080" stroke-width="1.2"/><path d="M58.08 228.93L61.98 232.83L58.08 236.73L54.18 232.83Z" fill="none" stroke="#000080" stroke-width="1.2"/><path d="M59.08 228.15L62.98 232.05L59.08 235.95L55.18 232.05Z" fill="none" stroke="#000080" stroke-width="1.2"/><path d="M68.24 221.14L72.14 225.04L68.24 228.94L64.34 225.04Z" fill="none" stroke="#000080" stroke-width="1.2"/><path d="M67.67 221.92L71.57 225.82L67.67 229.72L63.77 225.82Z" fill="none" stroke="#000080" stroke-width="1.2"/><path d="M58.33 228.67L62.23 232.57L58.33 236.47L54.43 232.57Z" fill="none" stroke="#000080" stroke-width="1.2"/><path d="M59.39 228.22L63.29 232.12L59.39 236.02L55.49 232.12Z" fill="none" stroke="#000080" stroke-width="1.2"/><path d="M66.02 223.18L69.92 227.08L66.02 230.98L62.12 227.08Z" fill="none" stroke="#000080" stroke-width="1.2"/><path d="M62.02 225.76L65.92 229.66L62.02 233.56L58.12 229.66Z" fill="none" stroke="#000080" stroke-width="1.2"/><path d="M70.06 220.79L73.96 224.69L70.06 228.59L66.16 224.69Z" fill="none" stroke="#000080" stroke-width="1.2"/><path d="M65.47 223.13L69.37 227.03L65.47 230.93L61.57 227.03Z" fill="none" stroke="#000080" stroke-width="1.2"/><path d="M76.99 215.92L80.89 219.82L76.99 223.72L73.09 219.82Z" fill="none" stroke="#000080" stroke-width="1.2"/><path d="M63.34 225.47L67.24 229.37L63.34 233.27L59.44 229.37Z" fill="none" stroke="#000080" stroke-width="1.2"/><path d="M60.45 227.74L64.35 231.64L60.45 235.54L56.55 231.64Z" fill="none" stroke="#000080" stroke-width="1.2"/><path d="M73.81 217.44L77.71 221.34L73.81 225.24L69.91 221.34Z" fill="none" stroke="#000080" stroke-width="1.2"/><path d="M61.18 225.85L65.08 229.75L61.18 233.65L57.28 229.75Z" fill="none" stroke="#000080" stroke-width="1.2"/><path d="M64.99 223.31L68.89 227.21L64.99 231.11L61.09 227.21Z" fill="none" stroke="#000080" stroke-width="1.2"/><path d="M68.47 221.35L72.37 225.25L68.47 229.15L64.57 225.25Z" fill="none" stroke="#000080" stroke-width="1.2"/><path d="M61.68 226.44L65.58 230.34L61.68 234.24L57.78 230.34Z" fill="none" stroke="#000080" stroke-width="1.2"/><path d="M71.11 218.54L75.01 222.44L71.11 226.34L67.21 222.44Z" fill="none" stroke="#000080" stroke-width="1.2"/><path d="M69.22 220.82L73.12 224.72L69.22 228.62L65.32 224.72Z" fill="none" stroke="#000080" stroke-width="1.2"/><path d="M66.59 222.18L70.49 226.08L66.59 229.98L62.69 226.08Z" fill="none" stroke="#000080" stroke-width="1.2"/><path d="M71.48 220.02L75.38 223.92L71.48 227.82L67.58 223.92Z" fill="none" stroke="#000080" stroke-width="1.2"/><path d="M62.44 224.99L66.34 228.89L62.44 232.79L58.54 228.89Z" fill="none" stroke="#000080" stroke-width="1.2"/><path d="M74.98 215.73L78.88 219.63L74.98 223.53L71.08 219.63Z" fill="none" stroke="#000080" stroke-width="1.2"/><path d="M72.08 217.88L75.98 221.78L72.08 225.68L68.18 221.78Z" fill="none" stroke="#000080" stroke-width="1.2"/><path d="M59.93 229.62L63.83 233.52L59.93 237.42L56.03 233.52Z" fill="none" stroke="#000080" stroke-width="1.2"/><path d="M65.90 223.12L69.80 227.02L65.90 230.92L62.00 227.02Z" fill="none" stroke="#000080" stroke-width="1.2"/><path d="M67.30 221.61L71.20 225.51L67.30 229.41L63.40 225.51Z" fill="none" stroke="#000080" stroke-width="1.2"/><path d="M58.37 228.30L62.27 232.20L58.37 236.10L54.47 232.20Z" fill="none" stroke="#000080" stroke-width="1.2"/><path d="M68.97 219.69L72.87 223.59L68.97 227.49L65.07 223.59Z" fill="none" stroke="#000080" stroke-width="1.2"/><path d="M74.99 215.69L78.89 219.59L74.99 223.49L71.09 219.59Z" fill="none" stroke="#000080" stroke-width="1.2"/><path d="M69.40 221.42L73.30 225.32L69.40 229.22L65.50 225.32Z" fill="none" stroke="#000080" stroke-width="1.2"/><path d="M69.11 219.32L73.01 223.22L69.11 227.12L65.21 223.22Z" fill="none" stroke="#000080" stroke-width="1.2"/><path d="M76.36 215.43L80.26 219.33L76.36 223.23L72.46 219.33Z" fill="none" stroke="#000080" stroke-width="1.2"/><path d="M67.01 222.12L70.91 226.02L67.01 229.92L63.11 226.02Z" fill="none" stroke="#000080" stroke-width="1.2"/><path d="M71.53 218.56L75.43 222.46L71.53 226.36L67.63 222.46Z" fill="none" stroke="#000080" stroke-width="1.2"/><path d="M70.45 220.92L74.35 224.82L70.45 228.72L66.55 224.82Z" fill="none" stroke="#000080" stroke-width="1.2"/><path d="M63.24 225.09L67.14 228.99L63.24 232.89L59.34 228.99Z" fill="none" stroke="#000080" stroke-width="1.2"/><path d="M65.25 223.52L69.15 227.42L65.25 231.32L61.35 227.42Z" fill="none" stroke="#000080" stroke-width="1.2"/><path d="M66.76 222.31L70.66 226.21L66.76 230.11L62.86 226.21Z" fill="none" stroke="#000080" stroke-width="1.2"/><path d="M60.93 227.11L64.83 231.01L60.93 234.91L57.03 231.01Z" fill="none" stroke="#000080" stroke-width="1.2"/><path d="M72.85 217.92L76.75 221.82L72.85 225.72L68.95 221.82Z" fill="none" stroke="#000080" stroke-width="1.2"/><path d="M60.16 227.53L64.06 231.43L60.16 235.33L56.26 231.43Z" fill="none" stroke="#000080" stroke-width="1.2"/><path d="M74.90 216.89L78.80 220.79L74.90 224.69L71.00 220.79Z" fill="none" stroke="#000080" stroke-width="1.2"/><path d="M59.19 227.41L63.09 231.31L59.19 235.21L55.29 231.31Z" fill="none" stroke="#000080" stroke-width="1.2"/><path d="M75.14 216.28L79.04 220.18L75.14 224.08L71.24 220.18Z" fill="none" stroke="#000080" stroke-width="1.2"/><path d="M73.87 217.35L77.77 221.25L73.87 225.15L69.97 221.25Z" fill="none" stroke="#000080" stroke-width="1.2"/><path d="M65.84 222.71L69.74 226.61L65.84 230.51L61.94 226.61Z" fill="none" stroke="#000080" stroke-width="1.2"/><path d="M64.72 225.35L68.62 229.25L64.72 233.15L60.82 229.25Z" fill="none" stroke="#000080" stroke-width="1.2"/><path d="M60.59 226.00L64.49 229.90L60.59 233.80L56.69 229.90Z" fill="none" stroke="#000080" stroke-width="1.2"/><path d="M61.09 226.86L64.99 230.76L61.09 234.66L57.19 230.76Z" fill="none" stroke="#000080" stroke-width="1.2"/><path d="M67.22 222.60L71.12 226.50L67.22 230.40L63.32 226.50Z" fill="none" stroke="#000080" stroke-width="1.2"/><path d="M69.29 220.49L73.19 224.39L69.29 228.29L65.39 224.39Z" fill="none" stroke="#000080" stroke-width="1.2"/><path d="M65.91 223.16L69.81 227.06L65.91 230.96L62.01 227.06Z" fill="none" stroke="#000080" stroke-width="1.2"/><path d="M64.93 222.35L68.83 226.25L64.93 230.15L61.03 226.25Z" fill="none" stroke="#000080" stroke-width="1.2"/><path d="M71.31 218.23L75.21 222.13L71.31 226.03L67.41 222.13Z" fill="none" stroke="#000080" stroke-width="1.2"/><path d="M67.83 220.83L71.73 224.73L67.83 228.63L63.93 224.73Z" fill="none" stroke="#000080" stroke-width="1.2"/><path d="M58.66 227.95L62.56 231.85L58.66 235.75L54.76 231.85Z" fill="none" stroke="#000080" stroke-width="1.2"/><path d="M75.46 216.02L79.36 219.92L75.46 223.82L71.56 219.92Z" fill="none" stroke="#000080" stroke-width="1.2"/><path d="M73.44 215.88L77.34 219.78L73.44 223.68L69.54 219.78Z" fill="none" stroke="#000080" stroke-width="1.2"/><path d="M65.38 223.23L69.28 227.13L65.38 231.03L61.48 227.13Z" fill="none" stroke="#000080" stroke-width="1.2"/><path d="M70.19 220.00L74.09 223.90L70.19 227.80L66.29 223.90Z" fill="none" stroke="#000080" stroke-width="1.2"/><path d="M58.82 228.98L62.72 232.88L58.82 236.78L54.92 232.88Z" fill="none" stroke="#000080" stroke-width="1.2"/><path d="M60.81 227.21L64.71 231.11L60.81 235.01L56.91 231.11Z" fill="none" stroke="#000080" stroke-width="1.2"/><path d="M64.35 224.31L68.25 228.21L64.35 232.11L60.45 228.21Z" fill="none" stroke="#000080" stroke-width="1.2"/><path d="M60.59 227.19L64.49 231.09L60.59 234.99L56.69 231.09Z" fill="none" stroke="#000080" stroke-width="1.2"/><path d="M59.60 227.84L63.50 231.74L59.60 235.64L55.70 231.74Z" fill="none" stroke="#000080" stroke-width="1.2"/><path d="M74.96 216.26L78.86 220.16L74.96 224.06L71.06 220.16Z" fill="none" stroke="#000080" stroke-width="1.2"/><path d="M69.79 220.43L73.69 224.33L69.79 228.23L65.89 224.33Z" fill="none" stroke="#000080" stroke-width="1.2"/><path d="M64.49 224.62L68.39 228.52L64.49 232.42L60.59 228.52Z" fill="none" stroke="#000080" stroke-width="1.2"/><path d="M64.82 224.92L68.72 228.82L64.82 232.72L60.92 228.82Z" fill="none" stroke="#000080" stroke-width="1.2"/><path d="M77.32 215.28L81.22 219.18L77.32 223.08L73.42 219.18Z" fill="none" stroke="#000080" stroke-width="1.2"/><path d="M66.85 222.07L70.75 225.97L66.85 229.87L62.95 225.97Z" fill="none" stroke="#000080" stroke-width="1.2"/><path d="M59.62 227.96L63.52 231.86L59.62 235.76L55.72 231.86Z" fill="none" stroke="#000080" stroke-width="1.2"/><path d="M64.40 224.13L68.30 228.03L64.40 231.93L60.50 228.03Z" fill="none" stroke="#000080" stroke-width="1.2"/><path d="M60.80 228.35L64.70 232.25L60.80 236.15L56.90 232.25Z" fill="none" stroke="#000080" stroke-width="1.2"/><path d="M58.05 229.97L61.95 233.87L58.05 237.77L54.15 233.87Z" fill="none" stroke="#000080" stroke-width="1.2"/><path d="M60.50 226.99L64.40 230.89L60.50 234.79L56.60 230.89Z" fill="none" stroke="#000080" stroke-width="1.2"/><path d="M68.38 222.05L72.28 225.95L68.38 229.85L64.48 225.95Z" fill="none" stroke="#000080" stroke-width="1.2"/><path d="M77.03 214.69L80.93 218.59L77.03 222.49L73.13 218.59Z" fill="none" stroke="#000080" stroke-width="1.2"/><path d="M74.74 216.12L78.64 220.02L74.74 223.92L70.84 220.02Z" fill="none" stroke="#000080" stroke-width="1.2"/><path d="M64.87 223.37L68.77 227.27L64.87 231.17L60.97 227.27Z" fill="none" stroke="#000080" stroke-width="1.2"/><path d="M60.91 227.06L64.81 230.96L60.91 234.86L57.01 230.96Z" fill="none" stroke="#000080" stroke-width="1.2"/><path d="M73.07 216.72L76.97 220.62L73.07 224.52L69.17 220.62Z" fill="none" stroke="#000080" stroke-width="1.2"/><path d="M64.14 224.67L68.04 228.57L64.14 232.47L60.24 228.57Z" fill="none" stroke="#000080" stroke-width="1.2"/><path d="M77.16 215.73L81.06 219.63L77.16 223.53L73.26 219.63Z" fill="none" stroke="#000080" stroke-width="1.2"/><path d="M74.53 216.92L78.43 220.82L74.53 224.72L70.63 220.82Z" fill="none" stroke="#000080" stroke-width="1.2"/><path d="M72.29 216.96L76.19 220.86L72.29 224.76L68.39 220.86Z" fill="none" stroke="#000080" stroke-width="1.2"/><path d="M62.09 225.37L65.99 229.27L62.09 233.17L58.19 229.27Z" fill="none" stroke="#000080" stroke-width="1.2"/><path d="M58.16 228.98L62.06 232.88L58.16 236.78L54.26 232.88Z" fill="none" stroke="#000080" stroke-width="1.2"/><path d="M58.14 228.96L62.04 232.86L58.14 236.76L54.24 232.86Z" fill="none" stroke="#000080" stroke-width="1.2"/><path d="M71.35 219.45L75.25 223.35L71.35 227.25L67.45 223.35Z" fill="none" stroke="#000080" stroke-width="1.2"/><path d="M96.47 198.42L100.37 202.32L96.47 206.22L92.57 202.32Z" fill="none" stroke="#000080" stroke-width="1.2"/><path d="M97.10 200.79L101.00 204.69L97.10 208.59L93.20 204.69Z" fill="none" stroke="#000080" stroke-width="1.2"/><path d="M96.44 200.11L100.34 204.01L96.44 207.91L92.54 204.01Z" fill="none" stroke="#000080" stroke-width="1.2"/><path d="M81.97 211.83L85.87 215.73L81.97 219.63L78.07 215.73Z" fill="none" stroke="#000080" stroke-width="1.2"/><path d="M81.37 212.15L85.27 216.05L81.37 219.95L77.47 216.05Z" fill="none" stroke="#000080" stroke-width="1.2"/><path d="M95.35 202.63L99.25 206.53L95.35 210.43L91.45 206.53Z" fill="none" stroke="#000080" stroke-width="1.2"/><path d="M94.16 200.88L98.06 204.78L94.16 208.68L90.26 204.78Z" fill="none" stroke="#000080" stroke-width="1.2"/><path d="M93.35 203.03L97.25 206.93L93.35 210.83L89.45 206.93Z" fill="none" stroke="#000080" stroke-width="1.2"/><path d="M79.14 212.33L83.04 216.23L79.14 220.13L75.24 216.23Z" fill="none" stroke="#000080" stroke-width="1.2"/><path d="M93.01 201.35L96.91 205.25L93.01 209.15L89.11 205.25Z" fill="none" stroke="#000080" stroke-width="1.2"/><path d="M92.37 203.00L96.27 206.90L92.37 210.80L88.47 206.90Z" fill="none" stroke="#000080" stroke-width="1.2"/><path d="M93.14 203.09L97.04 206.99L93.14 210.89L89.24 206.99Z" fill="none" stroke="#000080" stroke-width="1.2"/><path d="M84.07 210.56L87.97 214.46L84.07 218.36L80.17 214.46Z" fill="none" stroke="#000080" stroke-width="1.2"/><path d="M85.33 206.59L89.23 210.49L85.33 214.39L81.43 210.49Z" fill="none" stroke="#000080" stroke-width="1.2"/><path d="M85.44 210.19L89.34 214.09L85.44 217.99L81.54 214.09Z" fill="none" stroke="#000080" stroke-width="1.2"/><path d="M80.84 211.67L84.74 215.57L80.84 219.47L76.94 215.57Z" fill="none" stroke="#000080" stroke-width="1.2"/><path d="M79.98 214.00L83.88 217.90L79.98 221.80L76.08 217.90Z" fill="none" stroke="#000080" stroke-width="1.2"/><path d="M93.49 204.42L97.39 208.32L93.49 212.22L89.59 208.32Z" fill="none" stroke="#000080" stroke-width="1.2"/><path d="M80.36 213.75L84.26 217.65L80.36 221.55L76.46 217.65Z" fill="none" stroke="#000080" stroke-width="1.2"/><path d="M90.52 202.61L94.42 206.51L90.52 210.41L86.62 206.51Z" fill="none" stroke="#000080" stroke-width="1.2"/><path d="M84.42 209.02L88.32 212.92L84.42 216.82L80.52 212.92Z" fill="none" stroke="#000080" stroke-width="1.2"/><path d="M77.74 214.33L81.64 218.23L77.74 222.13L73.84 218.23Z" fill="none" stroke="#000080" stroke-width="1.2"/><path d="M96.75 199.64L100.65 203.54L96.75 207.44L92.85 203.54Z" fill="none" stroke="#000080" stroke-width="1.2"/><path d="M96.01 199.93L99.91 203.83L96.01 207.73L92.11 203.83Z" fill="none" stroke="#000080" stroke-width="1.2"/><path d="M86.08 209.50L89.98 213.40L86.08 217.30L82.18 213.40Z" fill="none" stroke="#000080" stroke-width="1.2"/><path d="M81.65 210.29L85.55 214.19L81.65 218.09L77.75 214.19Z" fill="none" stroke="#000080" stroke-width="1.2"/><path d="M82.46 210.77L86.36 214.67L82.46 218.57L78.56 214.67Z" fill="none" stroke="#000080" stroke-width="1.2"/><path d="M89.11 206.69L93.01 210.59L89.11 214.49L85.21 210.59Z" fill="none" stroke="#000080" stroke-width="1.2"/><path d="M82.61 210.41L86.51 214.31L82.61 218.21L78.71 214.31Z" fill="none" stroke="#000080" stroke-width="1.2"/><path d="M95.54 201.46L99.44 205.36L95.54 209.26L91.64 205.36Z" fill="none" stroke="#000080" stroke-width="1.2"/><path d="M84.49 208.24L88.39 212.14L84.49 216.04L80.59 212.14Z" fill="none" stroke="#000080" stroke-width="1.2"/><path d="M95.43 201.63L99.33 205.53L95.43 209.43L91.53 205.53Z" fill="none" stroke="#000080" stroke-width="1.2"/><path d="M85.82 209.44L89.72 213.34L85.82 217.24L81.92 213.34Z" fill="none" stroke="#000080" stroke-width="1.2"/><path d="M88.03 206.26L91.93 210.16L88.03 214.06L84.13 210.16Z" fill="none" stroke="#000080" stroke-width="1.2"/><path d="M87.86 207.95L91.76 211.85L87.86 215.75L83.96 211.85Z" fill="none" stroke="#000080" stroke-width="1.2"/><path d="M81.10 212.10L85.00 216.00L81.10 219.90L77.20 216.00Z" fill="none" stroke="#000080" stroke-width="1.2"/><path d="M77.54 214.81L81.44 218.71L77.54 222.61L73.64 218.71Z" fill="none" stroke="#000080" stroke-width="1.2"/><path d="M86.87 207.13L90.77 211.03L86.87 214.93L82.97 211.03Z" fill="none" stroke="#000080" stroke-width="1.2"/><path d="M91.87 203.17L95.77 207.07L91.87 210.97L87.97 207.07Z" fill="none" stroke="#000080" stroke-width="1.2"/><path d="M87.76 206.72L91.66 210.62L87.76 214.52L83.86 210.62Z" fill="none" stroke="#000080" stroke-width="1.2"/><path d="M88.50 206.56L92.40 210.46L88.50 214.36L84.60 210.46Z" fill="none" stroke="#000080" stroke-width="1.2"/><path d="M88.59 205.96L92.49 209.86L88.59 213.76L84.69 209.86Z" fill="none" stroke="#000080" stroke-width="1.2"/><path d="M82.40 210.74L86.30 214.64L82.40 218.54L78.50 214.64Z" fill="none" stroke="#000080" stroke-width="1.2"/><path d="M87.55 208.78L91.45 212.68L87.55 216.58L83.65 212.68Z" fill="none" stroke="#000080" stroke-width="1.2"/><path d="M88.62 206.51L92.52 210.41L88.62 214.31L84.72 210.41Z" fill="none" stroke="#000080" stroke-width="1.2"/><path d="M86.27 206.04L90.17 209.94L86.27 213.84L82.37 209.94Z" fill="none" stroke="#000080" stroke-width="1.2"/><path d="M89.63 204.49L93.53 208.39L89.63 212.29L85.73 208.39Z" fill="none" stroke="#000080" stroke-width="1.2"/><path d="M91.23 204.40L95.13 208.30L91.23 212.20L87.33 208.30Z" fill="none" stroke="#000080" stroke-width="1.2"/><path d="M86.45 206.94L90.35 210.84L86.45 214.74L82.55 210.84Z" fill="none" stroke="#000080" stroke-width="1.2"/><path d="M96.17 200.53L100.07 204.43L96.17 208.33L92.27 204.43Z" fill="none" stroke="#000080" stroke-width="1.2"/><path d="M91.36 205.95L95.26 209.85L91.36 213.75L87.46 209.85Z" fill="none" stroke="#000080" stroke-width="1.2"/><path d="M82.62 209.26L86.52 213.16L82.62 217.06L78.72 213.16Z" fill="none" stroke="#000080" stroke-width="1.2"/><path d="M88.58 208.11L92.48 212.01L88.58 215.91L84.68 212.01Z" fill="none" stroke="#000080" stroke-width="1.2"/><path d="M80.19 212.03L84.09 215.93L80.19 219.83L76.29 215.93Z" fill="none" stroke="#000080" stroke-width="1.2"/><path d="M79.88 212.55L83.78 216.45L79.88 220.35L75.98 216.45Z" fill="none" stroke="#000080" stroke-width="1.2"/><path d="M82.24 211.26L86.14 215.16L82.24 219.06L78.34 215.16Z" fill="none" stroke="#000080" stroke-width="1.2"/><path d="M78.91 212.80L82.81 216.70L78.91 220.60L75.01 216.70Z" fill="none" stroke="#000080" stroke-width="1.2"/><path d="M95.29 199.96L99.19 203.86L95.29 207.76L91.39 203.86Z" fill="none" stroke="#000080" stroke-width="1.2"/><path d="M80.53 212.11L84.43 216.01L80.53 219.91L76.63 216.01Z" fill="none" stroke="#000080" stroke-width="1.2"/><path d="M80.30 211.21L84.20 215.11L80.30 219.01L76.40 215.11Z" fill="none" stroke="#000080" stroke-width="1.2"/><path d="M95.00 202.27L98.90 206.17L95.00 210.07L91.10 206.17Z" fill="none" stroke="#000080" stroke-width="1.2"/><path d="M96.39 200.46L100.29 204.36L96.39 208.26L92.49 204.36Z" fill="none" stroke="#000080" stroke-width="1.2"/><path d="M85.37 206.55L89.27 210.45L85.37 214.35L81.47 210.45Z" fill="none" stroke="#000080" stroke-width="1.2"/><path d="M94.00 202.60L97.90 206.50L94.00 210.40L90.10 206.50Z" fill="none" stroke="#000080" stroke-width="1.2"/><path d="M80.67 211.26L84.57 215.16L80.67 219.06L76.77 215.16Z" fill="none" stroke="#000080" stroke-width="1.2"/><path d="M84.20 210.15L88.10 214.05L84.20 217.95L80.30 214.05Z" fill="none" stroke="#000080" stroke-width="1.2"/><path d="M81.35 211.16L85.25 215.06L81.35 218.96L77.45 215.06Z" fill="none" stroke="#000080" stroke-width="1.2"/><path d="M77.85 215.78L81.75 219.68L77.85 223.58L73.95 219.68Z" fill="none" stroke="#000080" stroke-width="1.2"/><path d="M88.47 206.32L92.37 210.22L88.47 214.12L84.57 210.22Z" fill="none" stroke="#000080" stroke-width="1.2"/><path d="M84.05 209.85L87.95 213.75L84.05 217.65L80.15 213.75Z" fill="none" stroke="#000080" stroke-width="1.2"/><path d="M89.86 205.11L93.76 209.01L89.86 212.91L85.96 209.01Z" fill="none" stroke="#000080" stroke-width="1.2"/><path d="M97.04 200.08L100.94 203.98L97.04 207.88L93.14 203.98Z" fill="none" stroke="#000080" stroke-width="1.2"/><path d="M93.13 203.46L97.03 207.36L93.13 211.26L89.23 207.36Z" fill="none" stroke="#000080" stroke-width="1.2"/><path d="M82.74 210.68L86.64 214.58L82.74 218.48L78.84 214.58Z" fill="none" stroke="#000080" stroke-width="1.2"/><path d="M78.25 214.24L82.15 218.14L78.25 222.04L74.35 218.14Z" fill="none" stroke="#000080" stroke-width="1.2"/><path d="M80.03 212.03L83.93 215.93L80.03 219.83L76.13 215.93Z" fill="none" stroke="#000080" stroke-width="1.2"/><path d="M85.85 209.93L89.75 213.83L85.85 217.73L81.95 213.83Z" fill="none" stroke="#000080" stroke-width="1.2"/><path d="M82.60 209.94L86.50 213.84L82.60 217.74L78.70 213.84Z" fill="none" stroke="#000080" stroke-width="1.2"/><path d="M80.43 213.55L84.33 217.45L80.43 221.35L76.53 217.45Z" fill="none" stroke="#000080" stroke-width="1.2"/><path d="M91.38 203.72L95.28 207.62L91.38 211.52L87.48 207.62Z" fill="none" stroke="#000080" stroke-width="1.2"/><path d="M79.24 214.72L83.14 218.62L79.24 222.52L75.34 218.62Z" fill="none" stroke="#000080" stroke-width="1.2"/><path d="M85.91 208.91L89.81 212.81L85.91 216.71L82.01 212.81Z" fill="none" stroke="#000080" stroke-width="1.2"/><path d="M78.90 214.86L82.80 218.76L78.90 222.66L75.00 218.76Z" fill="none" stroke="#000080" stroke-width="1.2"/><path d="M93.39 202.32L97.29 206.22L93.39 210.12L89.49 206.22Z" fill="none" stroke="#000080" stroke-width="1.2"/><path d="M79.12 213.67L83.02 217.57L79.12 221.47L75.22 217.57Z" fill="none" stroke="#000080" stroke-width="1.2"/><path d="M94.61 201.64L98.51 205.54L94.61 209.44L90.71 205.54Z" fill="none" stroke="#000080" stroke-width="1.2"/><path d="M86.48 207.33L90.38 211.23L86.48 215.13L82.58 211.23Z" fill="none" stroke="#000080" stroke-width="1.2"/><path d="M95.88 201.99L99.78 205.89L95.88 209.79L91.98 205.89Z" fill="none" stroke="#000080" stroke-width="1.2"/><path d="M82.78 211.52L86.68 215.42L82.78 219.32L78.88 215.42Z" fill="none" stroke="#000080" stroke-width="1.2"/><path d="M82.20 212.00L86.10 215.90L82.20 219.80L78.30 215.90Z" fill="none" stroke="#000080" stroke-width="1.2"/><path d="M79.64 213.23L83.54 217.13L79.64 221.03L75.74 217.13Z" fill="none" stroke="#000080" stroke-width="1.2"/><path d="M81.47 211.96L85.37 215.86L81.47 219.76L77.57 215.86Z" fill="none" stroke="#000080" stroke-width="1.2"/><path d="M83.66 209.53L87.56 213.43L83.66 217.33L79.76 213.43Z" fill="none" stroke="#000080" stroke-width="1.2"/><path d="M83.22 211.90L87.12 215.80L83.22 219.70L79.32 215.80Z" fill="none" stroke="#000080" stroke-width="1.2"/><path d="M87.40 207.67L91.30 211.57L87.40 215.47L83.50 211.57Z" fill="none" stroke="#000080" stroke-width="1.2"/><path d="M77.82 215.21L81.72 219.11L77.82 223.01L73.92 219.11Z" fill="none" stroke="#000080" stroke-width="1.2"/><path d="M82.44 212.51L86.34 216.41L82.44 220.31L78.54 216.41Z" fill="none" stroke="#000080" stroke-width="1.2"/><path d="M88.41 206.68L92.31 210.58L88.41 214.48L84.51 210.58Z" fill="none" stroke="#000080" stroke-width="1.2"/><path d="M81.23 209.74L85.13 213.64L81.23 217.54L77.33 213.64Z" fill="none" stroke="#000080" stroke-width="1.2"/><path d="M79.57 213.47L83.47 217.37L79.57 221.27L75.67 217.37Z" fill="none" stroke="#000080" stroke-width="1.2"/><path d="M93.73 201.56L97.63 205.46L93.73 209.36L89.83 205.46Z" fill="none" stroke="#000080" stroke-width="1.2"/><path d="M94.05 202.79L97.95 206.69L94.05 210.59L90.15 206.69Z" fill="none" stroke="#000080" stroke-width="1.2"/><path d="M85.27 207.43L89.17 211.33L85.27 215.23L81.37 211.33Z" fill="none" stroke="#000080" stroke-width="1.2"/><path d="M96.98 200.09L100.88 203.99L96.98 207.89L93.08 203.99Z" fill="none" stroke="#000080" stroke-width="1.2"/><path d="M84.27 210.35L88.17 214.25L84.27 218.15L80.37 214.25Z" fill="none" stroke="#000080" stroke-width="1.2"/><path d="M90.10 203.99L94.00 207.89L90.10 211.79L86.20 207.89Z" fill="none" stroke="#000080" stroke-width="1.2"/><path d="M85.50 208.52L89.40 212.42L85.50 216.32L81.60 212.42Z" fill="none" stroke="#000080" stroke-width="1.2"/><path d="M80.04 213.03L83.94 216.93L80.04 220.83L76.14 216.93Z" fill="none" stroke="#000080" stroke-width="1.2"/><path d="M78.87 213.60L82.77 217.50L78.87 221.40L74.97 217.50Z" fill="none" stroke="#000080" stroke-width="1.2"/><path d="M80.70 211.55L84.60 215.45L80.70 219.35L76.80 215.45Z" fill="none" stroke="#000080" stroke-width="1.2"/><path d="M79.14 214.48L83.04 218.38L79.14 222.28L75.24 218.38Z" fill="none" stroke="#000080" stroke-width="1.2"/><path d="M90.79 203.15L94.69 207.05L90.79 210.95L86.89 207.05Z" fill="none" stroke="#000080" stroke-width="1.2"/><path d="M83.06 210.55L86.96 214.45L83.06 218.35L79.16 214.45Z" fill="none" stroke="#000080" stroke-width="1.2"/><path d="M86.59 208.68L90.49 212.58L86.59 216.48L82.69 212.58Z" fill="none" stroke="#000080" stroke-width="1.2"/><path d="M80.59 211.66L84.49 215.56L80.59 219.46L76.69 215.56Z" fill="none" stroke="#000080" stroke-width="1.2"/><path d="M96.57 200.70L100.47 204.60L96.57 208.50L92.67 204.60Z" fill="none" stroke="#000080" stroke-width="1.2"/><path d="M96.79 199.61L100.69 203.51L96.79 207.41L92.89 203.51Z" fill="none" stroke="#000080" stroke-width="1.2"/><path d="M96.65 200.19L100.55 204.09L96.65 207.99L92.75 204.09Z" fill="none" stroke="#000080" stroke-width="1.2"/><path d="M83.61 210.08L87.51 213.98L83.61 217.88L79.71 213.98Z" fill="none" stroke="#000080" stroke-width="1.2"/><path d="M85.04 209.07L88.94 212.97L85.04 216.87L81.14 212.97Z" fill="none" stroke="#000080" stroke-width="1.2"/><path d="M86.89 207.03L90.79 210.93L86.89 214.83L82.99 210.93Z" fill="none" stroke="#000080" stroke-width="1.2"/><path d="M87.49 207.21L91.39 211.11L87.49 215.01L83.59 211.11Z" fill="none" stroke="#000080" stroke-width="1.2"/><path d="M77.56 214.58L81.46 218.48L77.56 222.38L73.66 218.48Z" fill="none" stroke="#000080" stroke-width="1.2"/><path d="M85.40 209.18L89.30 213.08L85.40 216.98L81.50 213.08Z" fill="none" stroke="#000080" stroke-width="1.2"/><path d="M78.29 214.87L82.19 218.77L78.29 222.67L74.39 218.77Z" fill="none" stroke="#000080" stroke-width="1.2"/><path d="M97.36 199.99L101.26 203.89L97.36 207.79L93.46 203.89Z" fill="none" stroke="#000080" stroke-width="1.2"/><path d="M101.92 194.68L105.82 198.58L101.92 202.48L98.02 198.58Z" fill="none" stroke="#000080" stroke-width="1.2"/><path d="M102.85 195.34L106.75 199.24L102.85 203.14L98.95 199.24Z" fill="none" stroke="#000080" stroke-width="1.2"/><path d="M103.60 195.81L107.50 199.71L103.60 203.61L99.70 199.71Z" fill="none" stroke="#000080" stroke-width="1.2"/><path d="M98.56 198.24L102.46 202.14L98.56 206.04L94.66 202.14Z" fill="none" stroke="#000080" stroke-width="1.2"/><path d="M107.07 193.37L110.97 197.27L107.07 201.17L103.17 197.27Z" fill="none" stroke="#000080" stroke-width="1.2"/><path d="M102.66 197.12L106.56 201.02L102.66 204.92L98.76 201.02Z" fill="none" stroke="#000080" stroke-width="1.2"/><path d="M94.92 202.85L98.82 206.75L94.92 210.65L91.02 206.75Z" fill="none" stroke="#000080" stroke-width="1.2"/><path d="M102.46 194.09L106.36 197.99L102.46 201.89L98.56 197.99Z" fill="none" stroke="#000080" stroke-width="1.2"/><path d="M103.83 195.11L107.73 199.01L103.83 202.91L99.93 199.01Z" fill="none" stroke="#000080" stroke-width="1.2"/><path d="M101.12 196.46L105.02 200.36L101.12 204.26L97.22 200.36Z" fill="none" stroke="#000080" stroke-width="1.2"/><path d="M100.87 198.11L104.77 202.01L100.87 205.91L96.97 202.01Z" fill="none" stroke="#000080" stroke-width="1.2"/><path d="M105.03 192.38L108.93 196.28L105.03 200.18L101.13 196.28Z" fill="none" stroke="#000080" stroke-width="1.2"/><path d="M101.90 197.60L105.80 201.50L101.90 205.40L98.00 201.50Z" fill="none" stroke="#000080" stroke-width="1.2"/><path d="M124.04 179.37L127.94 183.27L124.04 187.17L120.14 183.27Z" fill="none" stroke="#000080" stroke-width="1.2"/><path d="M102.33 194.93L106.23 198.83L102.33 202.73L98.43 198.83Z" fill="none" stroke="#000080" stroke-width="1.2"/><path d="M113.13 186.95L117.03 190.85L113.13 194.75L109.23 190.85Z" fill="none" stroke="#000080" stroke-width="1.2"/><path d="M128.71 176.92L132.61 180.82L128.71 184.72L124.81 180.82Z" fill="none" stroke="#000080" stroke-width="1.2"/><path d="M121.89 182.12L125.79 186.02L121.89 189.92L117.99 186.02Z" fill="none" stroke="#000080" stroke-width="1.2"/><path d="M123.63 180.44L127.53 184.34L123.63 188.24L119.73 184.34Z" fill="none" stroke="#000080" stroke-width="1.2"/><path d="M101.42 197.69L105.32 201.59L101.42 205.49L97.52 201.59Z" fill="none" stroke="#000080" stroke-width="1.2"/><path d="M125.84 178.86L129.74 182.76L125.84 186.66L121.94 182.76Z" fill="none" stroke="#000080" stroke-width="1.2"/><path d="M397.10 143.20L401.00 147.10L397.10 151.00L393.20 147.10Z" fill="none" stroke="#000080" stroke-width="1.2"/><path d="M397.70 142.10L401.60 146.00L397.70 149.90L393.80 146.00Z" fill="none" stroke="#000080" stroke-width="1.2"/><path d="M403.90 142.50L407.80 146.40L403.90 150.30L400.00 146.40Z" fill="none" stroke="#000080" stroke-width="1.2"/><path d="M403.90 146.20L407.80 150.10L403.90 154.00L400.00 150.10Z" fill="none" stroke="#000080" stroke-width="1.2"/><path d="M408.30 140.70L412.20 144.60L408.30 148.50L404.40 144.60Z" fill="none" stroke="#000080" stroke-width="1.2"/><path d="M408.30 145.80L412.20 149.70L408.30 153.60L404.40 149.70Z" fill="none" stroke="#000080" stroke-width="1.2"/><path d="M412.70 138.10L416.60 142.00L412.70 145.90L408.80 142.00Z" fill="none" stroke="#000080" stroke-width="1.2"/><path d="M423.60 125.90L427.50 129.80L423.60 133.70L419.70 129.80Z" fill="none" stroke="#000080" stroke-width="1.2"/><path d="M420.00 157.80L423.90 161.70L420.00 165.60L416.10 161.70Z" fill="none" stroke="#000080" stroke-width="1.2"/><path d="M426.90 156.00L430.80 159.90L426.90 163.80L423.00 159.90Z" fill="none" stroke="#000080" stroke-width="1.2"/><path d="M442.00 131.20L445.90 135.10L442.00 139.00L438.10 135.10Z" fill="none" stroke="#000080" stroke-width="1.2"/><path d="M450.70 131.90L454.60 135.80L450.70 139.70L446.80 135.80Z" fill="none" stroke="#000080" stroke-width="1.2"/><path d="M459.00 135.30L462.90 139.20L459.00 143.10L455.10 139.20Z" fill="none" stroke="#000080" stroke-width="1.2"/><path d="M461.70 163.70L465.60 167.60L461.70 171.50L457.80 167.60Z" fill="none" stroke="#000080" stroke-width="1.2"/><path d="M467.70 162.40L471.60 166.30L467.70 170.20L463.80 166.30Z" fill="none" stroke="#000080" stroke-width="1.2"/><path d="M474.70 164.60L478.60 168.50L474.70 172.40L470.80 168.50Z" fill="none" stroke="#000080" stroke-width="1.2"/><path d="M480.80 168.10L484.70 172.00L480.80 175.90L476.90 172.00Z" fill="none" stroke="#000080" stroke-width="1.2"/><path d="M484.30 166.40L488.20 170.30L484.30 174.20L480.40 170.30Z" fill="none" stroke="#000080" stroke-width="1.2"/><path d="M483.40 158.50L487.30 162.40L483.40 166.30L479.50 162.40Z" fill="none" stroke="#000080" stroke-width="1.2"/><path d="M490.40 157.60L494.30 161.50L490.40 165.40L486.50 161.50Z" fill="none" stroke="#000080" stroke-width="1.2"/><path d="M491.30 153.20L495.20 157.10L491.30 161.00L487.40 157.10Z" fill="none" stroke="#000080" stroke-width="1.2"/><path d="M487.80 150.60L491.70 154.50L487.80 158.40L483.90 154.50Z" fill="none" stroke="#000080" stroke-width="1.2"/><path d="M484.30 146.20L488.20 150.10L484.30 154.00L480.40 150.10Z" fill="none" stroke="#000080" stroke-width="1.2"/><path d="M479.00 144.50L482.90 148.40L479.00 152.30L475.10 148.40Z" fill="none" stroke="#000080" stroke-width="1.2"/><path d="M476.40 142.70L480.30 146.60L476.40 150.50L472.50 146.60Z" fill="none" stroke="#000080" stroke-width="1.2"/><path d="M471.20 140.10L475.10 144.00L471.20 147.90L467.30 144.00Z" fill="none" stroke="#000080" stroke-width="1.2"/><path d="M463.30 141.00L467.20 144.90L463.30 148.80L459.40 144.90Z" fill="none" stroke="#000080" stroke-width="1.2"/><path d="M469.90 151.50L473.80 155.40L469.90 159.30L466.00 155.40Z" fill="none" stroke="#000080" stroke-width="1.2"/><path d="M471.20 155.90L475.10 159.80L471.20 163.70L467.30 159.80Z" fill="none" stroke="#000080" stroke-width="1.2"/><path d="M476.40 154.10L480.30 158.00L476.40 161.90L472.50 158.00Z" fill="none" stroke="#000080" stroke-width="1.2"/><path d="M464.20 148.00L468.10 151.90L464.20 155.80L460.30 151.90Z" fill="none" stroke="#000080" stroke-width="1.2"/><path d="M461.50 152.40L465.40 156.30L461.50 160.20L457.60 156.30Z" fill="none" stroke="#000080" stroke-width="1.2"/><path d="M475.50 150.60L479.40 154.50L475.50 158.40L471.60 154.50Z" fill="none" stroke="#000080" stroke-width="1.2"/><path d="M480.80 148.00L484.70 151.90L480.80 155.80L476.90 151.90Z" fill="none" stroke="#000080" stroke-width="1.2"/><path d="M496.60 133.50L500.50 137.40L496.60 141.30L492.70 137.40Z" fill="none" stroke="#000080" stroke-width="1.2"/><path d="M501.60 139.00L505.50 142.90L501.60 146.80L497.70 142.90Z" fill="none" stroke="#000080" stroke-width="1.2"/><path d="M519.80 148.60L523.70 152.50L519.80 156.40L515.90 152.50Z" fill="none" stroke="#000080" stroke-width="1.2"/><path d="M549.80 161.30L553.70 165.20L549.80 169.10L545.90 165.20Z" fill="none" stroke="#000080" stroke-width="1.2"/><path d="M549.30 176.90L553.20 180.80L549.30 184.70L545.40 180.80Z" fill="none" stroke="#000080" stroke-width="1.2"/><path d="M565.20 174.20L569.10 178.10L565.20 182.00L561.30 178.10Z" fill="none" stroke="#000080" stroke-width="1.2"/><path d="M533.60 188.30L537.50 192.20L533.60 196.10L529.70 192.20Z" fill="none" stroke="#000080" stroke-width="1.2"/><path d="M608.70 181.50L612.60 185.40L608.70 189.30L604.80 185.40Z" fill="none" stroke="#000080" stroke-width="1.2"/><path d="M623.30 214.70L627.20 218.60L623.30 222.50L619.40 218.60Z" fill="none" stroke="#000080" stroke-width="1.2"/><path d="M409.90 142.54L413.80 146.44L409.90 150.34L406.00 146.44Z" fill="none" stroke="#000080" stroke-width="1.2"/><path d="M411.40 143.92L415.30 147.82L411.40 151.72L407.50 147.82Z" fill="none" stroke="#000080" stroke-width="1.2"/><path d="M413.90 142.59L417.80 146.49L413.90 150.39L410.00 146.49Z" fill="none" stroke="#000080" stroke-width="1.2"/><path d="M414.90 142.43L418.80 146.33L414.90 150.23L411.00 146.33Z" fill="none" stroke="#000080" stroke-width="1.2"/><path d="M424.12 142.67L428.02 146.57L424.12 150.47L420.22 146.57Z" fill="none" stroke="#000080" stroke-width="1.2"/><path d="M423.55 144.86L427.45 148.76L423.55 152.66L419.65 148.76Z" fill="none" stroke="#000080" stroke-width="1.2"/><path d="M414.15 142.13L418.05 146.03L414.15 149.93L410.25 146.03Z" fill="none" stroke="#000080" stroke-width="1.2"/><path d="M415.21 144.39L419.11 148.29L415.21 152.19L411.31 148.29Z" fill="none" stroke="#000080" stroke-width="1.2"/><path d="M421.89 144.77L425.79 148.67L421.89 152.57L417.99 148.67Z" fill="none" stroke="#000080" stroke-width="1.2"/><path d="M417.86 141.65L421.76 145.55L417.86 149.45L413.96 145.55Z" fill="none" stroke="#000080" stroke-width="1.2"/><path d="M425.95 149.29L429.85 153.19L425.95 157.09L422.05 153.19Z" fill="none" stroke="#000080" stroke-width="1.2"/><path d="M421.33 141.79L425.23 145.69L421.33 149.59L417.43 145.69Z" fill="none" stroke="#000080" stroke-width="1.2"/><path d="M432.93 152.22L436.83 156.12L432.93 160.02L429.03 156.12Z" fill="none" stroke="#000080" stroke-width="1.2"/><path d="M419.19 146.27L423.09 150.17L419.19 154.07L415.29 150.17Z" fill="none" stroke="#000080" stroke-width="1.2"/><path d="M416.29 146.55L420.19 150.45L416.29 154.35L412.39 150.45Z" fill="none" stroke="#000080" stroke-width="1.2"/><path d="M429.72 146.31L433.62 150.21L429.72 154.11L425.82 150.21Z" fill="none" stroke="#000080" stroke-width="1.2"/><path d="M417.01 138.10L420.91 142.00L417.01 145.90L413.11 142.00Z" fill="none" stroke="#000080" stroke-width="1.2"/><path d="M420.85 140.55L424.75 144.45L420.85 148.35L416.95 144.45Z" fill="none" stroke="#000080" stroke-width="1.2"/><path d="M424.35 145.16L428.25 149.06L424.35 152.96L420.45 149.06Z" fill="none" stroke="#000080" stroke-width="1.2"/><path d="M417.52 144.31L421.42 148.21L417.52 152.11L413.62 148.21Z" fill="none" stroke="#000080" stroke-width="1.2"/><path d="M427.01 140.19L430.91 144.09L427.01 147.99L423.11 144.09Z" fill="none" stroke="#000080" stroke-width="1.2"/><path d="M425.11 145.42L429.01 149.32L425.11 153.22L421.21 149.32Z" fill="none" stroke="#000080" stroke-width="1.2"/><path d="M422.46 141.24L426.36 145.14L422.46 149.04L418.56 145.14Z" fill="none" stroke="#000080" stroke-width="1.2"/><path d="M427.38 151.32L431.28 155.22L427.38 159.12L423.48 155.22Z" fill="none" stroke="#000080" stroke-width="1.2"/><path d="M418.28 138.80L422.18 142.70L418.28 146.60L414.38 142.70Z" fill="none" stroke="#000080" stroke-width="1.2"/><path d="M430.90 141.22L434.80 145.12L430.90 149.02L427.00 145.12Z" fill="none" stroke="#000080" stroke-width="1.2"/><path d="M427.99 140.72L431.89 144.62L427.99 148.52L424.09 144.62Z" fill="none" stroke="#000080" stroke-width="1.2"/><path d="M415.76 155.94L419.66 159.84L415.76 163.74L411.86 159.84Z" fill="none" stroke="#000080" stroke-width="1.2"/><path d="M421.76 143.82L425.66 147.72L421.76 151.62L417.86 147.72Z" fill="none" stroke="#000080" stroke-width="1.2"/><path d="M423.18 141.12L427.08 145.02L423.18 148.92L419.28 145.02Z" fill="none" stroke="#000080" stroke-width="1.2"/><path d="M414.18 139.94L418.08 143.84L414.18 147.74L410.28 143.84Z" fill="none" stroke="#000080" stroke-width="1.2"/><path d="M424.86 137.03L428.76 140.93L424.86 144.83L420.96 140.93Z" fill="none" stroke="#000080" stroke-width="1.2"/><path d="M430.91 140.99L434.81 144.89L430.91 148.79L427.01 144.89Z" fill="none" stroke="#000080" stroke-width="1.2"/><path d="M425.29 150.09L429.19 153.99L425.29 157.89L421.39 153.99Z" fill="none" stroke="#000080" stroke-width="1.2"/><path d="M425.00 135.41L428.90 139.31L425.00 143.21L421.10 139.31Z" fill="none" stroke="#000080" stroke-width="1.2"/><path d="M432.29 146.04L436.19 149.94L432.29 153.84L428.39 149.94Z" fill="none" stroke="#000080" stroke-width="1.2"/><path d="M422.88 142.88L426.78 146.78L422.88 150.68L418.98 146.78Z" fill="none" stroke="#000080" stroke-width="1.2"/><path d="M427.43 142.33L431.33 146.23L427.43 150.13L423.53 146.23Z" fill="none" stroke="#000080" stroke-width="1.2"/><path d="M426.34 152.05L430.24 155.95L426.34 159.85L422.44 155.95Z" fill="none" stroke="#000080" stroke-width="1.2"/><path d="M419.09 143.34L422.99 147.24L419.09 151.14L415.19 147.24Z" fill="none" stroke="#000080" stroke-width="1.2"/><path d="M421.12 143.23L425.02 147.13L421.12 151.03L417.22 147.13Z" fill="none" stroke="#000080" stroke-width="1.2"/><path d="M422.63 142.86L426.53 146.76L422.63 150.66L418.73 146.76Z" fill="none" stroke="#000080" stroke-width="1.2"/><path d="M416.76 144.86L420.66 148.76L416.76 152.66L412.86 148.76Z" fill="none" stroke="#000080" stroke-width="1.2"/><path d="M428.76 144.75L432.66 148.65L428.76 152.55L424.86 148.65Z" fill="none" stroke="#000080" stroke-width="1.2"/><path d="M415.99 143.77L419.89 147.67L415.99 151.57L412.09 147.67Z" fill="none" stroke="#000080" stroke-width="1.2"/><path d="M430.83 148.18L434.73 152.08L430.83 155.98L426.93 152.08Z" fill="none" stroke="#000080" stroke-width="1.2"/><path d="M415.01 138.30L418.91 142.20L415.01 146.10L411.11 142.20Z" fill="none" stroke="#000080" stroke-width="1.2"/><path d="M431.07 145.48L434.97 149.38L431.07 153.28L427.17 149.38Z" fill="none" stroke="#000080" stroke-width="1.2"/><path d="M429.79 146.09L433.69 149.99L429.79 153.89L425.89 149.99Z" fill="none" stroke="#000080" stroke-width="1.2"/><path d="M421.71 140.96L425.61 144.86L421.71 148.76L417.81 144.86Z" fill="none" stroke="#000080" stroke-width="1.2"/><path d="M420.58 152.15L424.48 156.05L420.58 159.95L416.68 156.05Z" fill="none" stroke="#000080" stroke-width="1.2"/><path d="M416.42 136.17L420.32 140.07L416.42 143.97L412.52 140.07Z" fill="none" stroke="#000080" stroke-width="1.2"/><path d="M416.92 144.07L420.82 147.97L416.92 151.87L413.02 147.97Z" fill="none" stroke="#000080" stroke-width="1.2"/><path d="M423.10 146.96L427.00 150.86L423.10 154.76L419.20 150.86Z" fill="none" stroke="#000080" stroke-width="1.2"/><path d="M425.18 143.67L429.08 147.57L425.18 151.47L421.28 147.57Z" fill="none" stroke="#000080" stroke-width="1.2"/><path d="M421.78 144.11L425.68 148.01L421.78 151.91L417.88 148.01Z" fill="none" stroke="#000080" stroke-width="1.2"/><path d="M420.79 134.20L424.69 138.10L420.79 142.00L416.89 138.10Z" fill="none" stroke="#000080" stroke-width="1.2"/><path d="M427.21 139.19L431.11 143.09L427.21 146.99L423.31 143.09Z" fill="none" stroke="#000080" stroke-width="1.2"/><path d="M423.71 138.70L427.61 142.60L423.71 146.50L419.81 142.60Z" fill="none" stroke="#000080" stroke-width="1.2"/><path d="M414.48 139.15L418.38 143.05L414.48 146.95L410.58 143.05Z" fill="none" stroke="#000080" stroke-width="1.2"/><path d="M431.39 145.42L435.29 149.32L431.39 153.22L427.49 149.32Z" fill="none" stroke="#000080" stroke-width="1.2"/><path d="M429.36 134.69L433.26 138.59L429.36 142.49L425.46 138.59Z" fill="none" stroke="#000080" stroke-width="1.2"/><path d="M421.25 142.01L425.15 145.91L421.25 149.81L417.35 145.91Z" fill="none" stroke="#000080" stroke-width="1.2"/><path d="M426.09 144.95L429.99 148.85L426.09 152.75L422.19 148.85Z" fill="none" stroke="#000080" stroke-width="1.2"/><path d="M414.64 146.51L418.54 150.41L414.64 154.31L410.74 150.41Z" fill="none" stroke="#000080" stroke-width="1.2"/><path d="M416.65 144.96L420.55 148.86L416.65 152.76L412.75 148.86Z" fill="none" stroke="#000080" stroke-width="1.2"/><path d="M420.20 143.79L424.10 147.69L420.20 151.59L416.30 147.69Z" fill="none" stroke="#000080" stroke-width="1.2"/><path d="M416.43 143.73L420.33 147.63L416.43 151.53L412.53 147.63Z" fill="none" stroke="#000080" stroke-width="1.2"/><path d="M415.43 143.03L419.33 146.93L415.43 150.83L411.53 146.93Z" fill="none" stroke="#000080" stroke-width="1.2"/><path d="M430.89 144.47L434.79 148.37L430.89 152.27L426.99 148.37Z" fill="none" stroke="#000080" stroke-width="1.2"/><path d="M425.68 145.74L429.58 149.64L425.68 153.54L421.78 149.64Z" fill="none" stroke="#000080" stroke-width="1.2"/><path d="M420.35 146.46L424.25 150.36L420.35 154.26L416.45 150.36Z" fill="none" stroke="#000080" stroke-width="1.2"/><path d="M420.68 149.97L424.58 153.87L420.68 157.77L416.78 153.87Z" fill="none" stroke="#000080" stroke-width="1.2"/><path d="M433.26 149.80L437.16 153.70L433.26 157.60L429.36 153.70Z" fill="none" stroke="#000080" stroke-width="1.2"/><path d="M422.72 141.80L426.62 145.70L422.72 149.60L418.82 145.70Z" fill="none" stroke="#000080" stroke-width="1.2"/><path d="M415.44 143.89L419.34 147.79L415.44 151.69L411.54 147.79Z" fill="none" stroke="#000080" stroke-width="1.2"/><path d="M420.25 142.92L424.15 146.82L420.25 150.72L416.35 146.82Z" fill="none" stroke="#000080" stroke-width="1.2"/><path d="M416.63 152.12L420.53 156.02L416.63 159.92L412.73 156.02Z" fill="none" stroke="#000080" stroke-width="1.2"/><path d="M413.86 148.96L417.76 152.86L413.86 156.76L409.96 152.86Z" fill="none" stroke="#000080" stroke-width="1.2"/><path d="M416.33 142.03L420.23 145.93L416.33 149.83L412.43 145.93Z" fill="none" stroke="#000080" stroke-width="1.2"/><path d="M424.26 149.14L428.16 153.04L424.26 156.94L420.36 153.04Z" fill="none" stroke="#000080" stroke-width="1.2"/><path d="M432.97 144.63L436.87 148.53L432.97 152.43L429.07 148.53Z" fill="none" stroke="#000080" stroke-width="1.2"/><path d="M430.67 142.54L434.57 146.44L430.67 150.34L426.77 146.44Z" fill="none" stroke="#000080" stroke-width="1.2"/><path d="M420.73 140.40L424.63 144.30L420.73 148.20L416.83 144.30Z" fill="none" stroke="#000080" stroke-width="1.2"/><path d="M416.74 144.46L420.64 148.36L416.74 152.26L412.84 148.36Z" fill="none" stroke="#000080" stroke-width="1.2"/><path d="M428.98 138.20L432.88 142.10L428.98 146.00L425.08 142.10Z" fill="none" stroke="#000080" stroke-width="1.2"/><path d="M419.99 145.09L423.89 148.99L419.99 152.89L416.09 148.99Z" fill="none" stroke="#000080" stroke-width="1.2"/><path d="M433.10 151.80L437.00 155.70L433.10 159.60L429.20 155.70Z" fill="none" stroke="#000080" stroke-width="1.2"/><path d="M430.45 146.57L434.35 150.47L430.45 154.37L426.55 150.47Z" fill="none" stroke="#000080" stroke-width="1.2"/><path d="M428.20 135.90L432.10 139.80L428.20 143.70L424.30 139.80Z" fill="none" stroke="#000080" stroke-width="1.2"/><path d="M417.93 139.51L421.83 143.41L417.93 147.31L414.03 143.41Z" fill="none" stroke="#000080" stroke-width="1.2"/><path d="M413.98 143.23L417.88 147.13L413.98 151.03L410.08 147.13Z" fill="none" stroke="#000080" stroke-width="1.2"/><path d="M413.96 143.06L417.86 146.96L413.96 150.86L410.06 146.96Z" fill="none" stroke="#000080" stroke-width="1.2"/><path d="M427.25 147.13L431.15 151.03L427.25 154.93L423.35 151.03Z" fill="none" stroke="#000080" stroke-width="1.2"/><path d="M452.53 136.23L456.43 140.13L452.53 144.03L448.63 140.13Z" fill="none" stroke="#000080" stroke-width="1.2"/><path d="M453.16 154.26L457.06 158.16L453.16 162.06L449.26 158.16Z" fill="none" stroke="#000080" stroke-width="1.2"/><path d="M452.50 146.77L456.40 150.67L452.50 154.57L448.60 150.67Z" fill="none" stroke="#000080" stroke-width="1.2"/><path d="M437.94 150.56L441.84 154.46L437.94 158.36L434.04 154.46Z" fill="none" stroke="#000080" stroke-width="1.2"/><path d="M437.33 149.66L441.23 153.56L437.33 157.46L433.43 153.56Z" fill="none" stroke="#000080" stroke-width="1.2"/><path d="M451.41 157.45L455.31 161.35L451.41 165.25L447.51 161.35Z" fill="none" stroke="#000080" stroke-width="1.2"/><path d="M450.21 140.56L454.11 144.46L450.21 148.36L446.31 144.46Z" fill="none" stroke="#000080" stroke-width="1.2"/><path d="M449.39 150.22L453.29 154.12L449.39 158.02L445.49 154.12Z" fill="none" stroke="#000080" stroke-width="1.2"/><path d="M435.10 139.94L439.00 143.84L435.10 147.74L431.20 143.84Z" fill="none" stroke="#000080" stroke-width="1.2"/><path d="M449.05 137.91L452.95 141.81L449.05 145.71L445.15 141.81Z" fill="none" stroke="#000080" stroke-width="1.2"/><path d="M448.40 145.22L452.30 149.12L448.40 153.02L444.50 149.12Z" fill="none" stroke="#000080" stroke-width="1.2"/><path d="M449.18 149.59L453.08 153.49L449.18 157.39L445.28 153.49Z" fill="none" stroke="#000080" stroke-width="1.2"/><path d="M440.05 152.73L443.95 156.63L440.05 160.53L436.15 156.63Z" fill="none" stroke="#000080" stroke-width="1.2"/><path d="M441.32 133.70L445.22 137.60L441.32 141.50L437.42 137.60Z" fill="none" stroke="#000080" stroke-width="1.2"/><path d="M441.43 157.01L445.33 160.91L441.43 164.81L437.53 160.91Z" fill="none" stroke="#000080" stroke-width="1.2"/><path d="M436.80 144.05L440.70 147.95L436.80 151.85L432.90 147.95Z" fill="none" stroke="#000080" stroke-width="1.2"/><path d="M435.94 154.65L439.84 158.55L435.94 162.45L432.04 158.55Z" fill="none" stroke="#000080" stroke-width="1.2"/><path d="M449.53 159.70L453.43 163.60L449.53 167.50L445.63 163.60Z" fill="none" stroke="#000080" stroke-width="1.2"/><path d="M436.32 154.91L440.22 158.81L436.32 162.71L432.42 158.81Z" fill="none" stroke="#000080" stroke-width="1.2"/><path d="M446.55 133.76L450.45 137.66L446.55 141.56L442.65 137.66Z" fill="none" stroke="#000080" stroke-width="1.2"/><path d="M440.41 144.72L444.31 148.62L440.41 152.52L436.51 148.62Z" fill="none" stroke="#000080" stroke-width="1.2"/><path d="M433.68 145.79L437.58 149.69L433.68 153.59L429.78 149.69Z" fill="none" stroke="#000080" stroke-width="1.2"/><path d="M452.82 145.29L456.72 149.19L452.82 153.09L448.92 149.19Z" fill="none" stroke="#000080" stroke-width="1.2"/><path d="M452.07 143.57L455.97 147.47L452.07 151.37L448.17 147.47Z" fill="none" stroke="#000080" stroke-width="1.2"/><path d="M442.08 155.77L445.98 159.67L442.08 163.57L438.18 159.67Z" fill="none" stroke="#000080" stroke-width="1.2"/><path d="M437.62 139.24L441.52 143.14L437.62 147.04L433.72 143.14Z" fill="none" stroke="#000080" stroke-width="1.2"/><path d="M438.44 146.27L442.34 150.17L438.44 154.07L434.54 150.17Z" fill="none" stroke="#000080" stroke-width="1.2"/><path d="M445.13 152.75L449.03 156.65L445.13 160.55L441.23 156.65Z" fill="none" stroke="#000080" stroke-width="1.2"/><path d="M438.59 144.70L442.49 148.60L438.59 152.50L434.69 148.60Z" fill="none" stroke="#000080" stroke-width="1.2"/><path d="M451.60 150.98L455.50 154.88L451.60 158.78L447.70 154.88Z" fill="none" stroke="#000080" stroke-width="1.2"/><path d="M440.48 140.09L444.38 143.99L440.48 147.89L436.58 143.99Z" fill="none" stroke="#000080" stroke-width="1.2"/><path d="M451.49 151.48L455.39 155.38L451.49 159.28L447.59 155.38Z" fill="none" stroke="#000080" stroke-width="1.2"/><path d="M441.81 154.12L445.71 158.02L441.81 161.92L437.91 158.02Z" fill="none" stroke="#000080" stroke-width="1.2"/><path d="M444.04 144.80L447.94 148.70L444.04 152.60L440.14 148.70Z" fill="none" stroke="#000080" stroke-width="1.2"/><path d="M443.87 154.69L447.77 158.59L443.87 162.49L439.97 158.59Z" fill="none" stroke="#000080" stroke-width="1.2"/><path d="M437.06 148.01L440.96 151.91L437.06 155.81L433.16 151.91Z" fill="none" stroke="#000080" stroke-width="1.2"/><path d="M433.48 147.83L437.38 151.73L433.48 155.63L429.58 151.73Z" fill="none" stroke="#000080" stroke-width="1.2"/><path d="M442.87 144.60L446.77 148.50L442.87 152.40L438.97 148.50Z" fill="none" stroke="#000080" stroke-width="1.2"/><path d="M447.90 143.88L451.80 147.78L447.90 151.68L444.00 147.78Z" fill="none" stroke="#000080" stroke-width="1.2"/><path d="M443.77 146.40L447.67 150.30L443.77 154.20L439.87 150.30Z" fill="none" stroke="#000080" stroke-width="1.2"/><path d="M444.51 148.97L448.41 152.87L444.51 156.77L440.61 152.87Z" fill="none" stroke="#000080" stroke-width="1.2"/><path d="M444.61 145.60L448.51 149.50L444.61 153.40L440.71 149.50Z" fill="none" stroke="#000080" stroke-width="1.2"/><path d="M438.37 145.71L442.27 149.61L438.37 153.51L434.47 149.61Z" fill="none" stroke="#000080" stroke-width="1.2"/><path d="M443.55 158.40L447.45 162.30L443.55 166.20L439.65 162.30Z" fill="none" stroke="#000080" stroke-width="1.2"/><path d="M444.63 149.22L448.53 153.12L444.63 157.02L440.73 153.12Z" fill="none" stroke="#000080" stroke-width="1.2"/><path d="M442.26 134.81L446.16 138.71L442.26 142.61L438.36 138.71Z" fill="none" stroke="#000080" stroke-width="1.2"/><path d="M445.65 141.35L449.55 145.25L445.65 149.15L441.75 145.25Z" fill="none" stroke="#000080" stroke-width="1.2"/><path d="M447.25 148.53L451.15 152.43L447.25 156.33L443.35 152.43Z" fill="none" stroke="#000080" stroke-width="1.2"/><path d="M442.45 141.36L446.35 145.26L442.45 149.16L438.55 145.26Z" fill="none" stroke="#000080" stroke-width="1.2"/><path d="M452.23 148.10L456.13 152.00L452.23 155.90L448.33 152.00Z" fill="none" stroke="#000080" stroke-width="1.2"/><path d="M447.38 159.02L451.28 162.92L447.38 166.82L443.48 162.92Z" fill="none" stroke="#000080" stroke-width="1.2"/><path d="M438.59 137.45L442.49 141.35L438.59 145.25L434.69 141.35Z" fill="none" stroke="#000080" stroke-width="1.2"/><path d="M444.59 159.14L448.49 163.04L444.59 166.94L440.69 163.04Z" fill="none" stroke="#000080" stroke-width="1.2"/><path d="M436.14 143.10L440.04 147.00L436.14 150.90L432.24 147.00Z" fill="none" stroke="#000080" stroke-width="1.2"/><path d="M435.83 144.89L439.73 148.79L435.83 152.69L431.93 148.79Z" fill="none" stroke="#000080" stroke-width="1.2"/><path d="M438.21 148.25L442.11 152.15L438.21 156.05L434.31 152.15Z" fill="none" stroke="#000080" stroke-width="1.2"/><path d="M434.86 141.83L438.76 145.73L434.86 149.63L430.96 145.73Z" fill="none" stroke="#000080" stroke-width="1.2"/><path d="M451.34 140.20L455.24 144.10L451.34 148.00L447.44 144.10Z" fill="none" stroke="#000080" stroke-width="1.2"/><path d="M436.49 145.30L440.39 149.20L436.49 153.10L432.59 149.20Z" fill="none" stroke="#000080" stroke-width="1.2"/><path d="M436.26 138.51L440.16 142.41L436.26 146.31L432.36 142.41Z" fill="none" stroke="#000080" stroke-width="1.2"/><path d="M451.06 153.49L454.96 157.39L451.06 161.29L447.16 157.39Z" fill="none" stroke="#000080" stroke-width="1.2"/><path d="M452.45 148.70L456.35 152.60L452.45 156.50L448.55 152.60Z" fill="none" stroke="#000080" stroke-width="1.2"/><path d="M441.37 133.70L445.27 137.60L441.37 141.50L437.47 137.60Z" fill="none" stroke="#000080" stroke-width="1.2"/><path d="M450.05 150.65L453.95 154.55L450.05 158.45L446.15 154.55Z" fill="none" stroke="#000080" stroke-width="1.2"/><path d="M436.63 140.62L440.53 144.52L436.63 148.42L432.73 144.52Z" fill="none" stroke="#000080" stroke-width="1.2"/><path d="M440.18 150.73L444.08 154.63L440.18 158.53L436.28 154.63Z" fill="none" stroke="#000080" stroke-width="1.2"/><path d="M437.31 143.28L441.21 147.18L437.31 151.08L433.41 147.18Z" fill="none" stroke="#000080" stroke-width="1.2"/><path d="M433.79 155.48L437.69 159.38L433.79 163.28L429.89 159.38Z" fill="none" stroke="#000080" stroke-width="1.2"/><path d="M444.48 147.30L448.38 151.20L444.48 155.10L440.58 151.20Z" fill="none" stroke="#000080" stroke-width="1.2"/><path d="M440.03 148.11L443.93 152.01L440.03 155.91L436.13 152.01Z" fill="none" stroke="#000080" stroke-width="1.2"/><path d="M445.88 146.39L449.78 150.29L445.88 154.19L441.98 150.29Z" fill="none" stroke="#000080" stroke-width="1.2"/><path d="M453.10 149.49L457.00 153.39L453.10 157.29L449.20 153.39Z" fill="none" stroke="#000080" stroke-width="1.2"/><path d="M449.17 151.84L453.07 155.74L449.17 159.64L445.27 155.74Z" fill="none" stroke="#000080" stroke-width="1.2"/><path d="M438.71 147.00L442.61 150.90L438.71 154.80L434.81 150.90Z" fill="none" stroke="#000080" stroke-width="1.2"/><path d="M434.19 147.68L438.09 151.58L434.19 155.48L430.29 151.58Z" fill="none" stroke="#000080" stroke-width="1.2"/><path d="M435.99 142.40L439.89 146.30L435.99 150.20L432.09 146.30Z" fill="none" stroke="#000080" stroke-width="1.2"/><path d="M441.85 157.39L445.75 161.29L441.85 165.19L437.95 161.29Z" fill="none" stroke="#000080" stroke-width="1.2"/><path d="M438.57 141.62L442.47 145.52L438.57 149.42L434.67 145.52Z" fill="none" stroke="#000080" stroke-width="1.2"/><path d="M436.39 153.97L440.29 157.87L436.39 161.77L432.49 157.87Z" fill="none" stroke="#000080" stroke-width="1.2"/><path d="M447.41 145.01L451.31 148.91L447.41 152.81L443.51 148.91Z" fill="none" stroke="#000080" stroke-width="1.2"/><path d="M435.19 155.54L439.09 159.44L435.19 163.34L431.29 159.44Z" fill="none" stroke="#000080" stroke-width="1.2"/><path d="M441.91 151.22L445.81 155.12L441.91 159.02L438.01 155.12Z" fill="none" stroke="#000080" stroke-width="1.2"/><path d="M434.85 154.80L438.75 158.70L434.85 162.60L430.95 158.70Z" fill="none" stroke="#000080" stroke-width="1.2"/><path d="M449.43 145.89L453.33 149.79L449.43 153.69L445.53 149.79Z" fill="none" stroke="#000080" stroke-width="1.2"/><path d="M435.07 148.33L438.97 152.23L435.07 156.13L431.17 152.23Z" fill="none" stroke="#000080" stroke-width="1.2"/><path d="M450.66 147.54L454.56 151.44L450.66 155.34L446.76 151.44Z" fill="none" stroke="#000080" stroke-width="1.2"/><path d="M442.48 144.02L446.38 147.92L442.48 151.82L438.58 147.92Z" fill="none" stroke="#000080" stroke-width="1.2"/><path d="M451.93 155.93L455.83 159.83L451.93 163.73L448.03 159.83Z" fill="none" stroke="#000080" stroke-width="1.2"/><path d="M438.76 152.55L442.66 156.45L438.76 160.35L434.86 156.45Z" fill="none" stroke="#000080" stroke-width="1.2"/><path d="M438.17 152.74L442.07 156.64L438.17 160.54L434.27 156.64Z" fill="none" stroke="#000080" stroke-width="1.2"/><path d="M435.59 148.05L439.49 151.95L435.59 155.85L431.69 151.95Z" fill="none" stroke="#000080" stroke-width="1.2"/><path d="M437.44 148.94L441.34 152.84L437.44 156.74L433.54 152.84Z" fill="none" stroke="#000080" stroke-width="1.2"/><path d="M439.64 144.20L443.54 148.10L439.64 152.00L435.74 148.10Z" fill="none" stroke="#000080" stroke-width="1.2"/><path d="M439.20 157.10L443.10 161.00L439.20 164.90L435.30 161.00Z" fill="none" stroke="#000080" stroke-width="1.2"/><path d="M443.40 150.62L447.30 154.52L443.40 158.42L439.50 154.52Z" fill="none" stroke="#000080" stroke-width="1.2"/><path d="M433.76 151.74L437.66 155.64L433.76 159.54L429.86 155.64Z" fill="none" stroke="#000080" stroke-width="1.2"/><path d="M438.41 157.16L442.31 161.06L438.41 164.96L434.51 161.06Z" fill="none" stroke="#000080" stroke-width="1.2"/><path d="M444.42 149.29L448.32 153.19L444.42 157.09L440.52 153.19Z" fill="none" stroke="#000080" stroke-width="1.2"/><path d="M437.19 133.70L441.09 137.60L437.19 141.50L433.29 137.60Z" fill="none" stroke="#000080" stroke-width="1.2"/><path d="M435.53 149.23L439.43 153.13L435.53 157.03L431.63 153.13Z" fill="none" stroke="#000080" stroke-width="1.2"/><path d="M449.78 142.77L453.68 146.67L449.78 150.57L445.88 146.67Z" fill="none" stroke="#000080" stroke-width="1.2"/><path d="M450.09 152.10L453.99 156.00L450.09 159.90L446.19 156.00Z" fill="none" stroke="#000080" stroke-width="1.2"/><path d="M441.26 138.73L445.16 142.63L441.26 146.53L437.36 142.63Z" fill="none" stroke="#000080" stroke-width="1.2"/><path d="M453.05 149.26L456.95 153.16L453.05 157.06L449.15 153.16Z" fill="none" stroke="#000080" stroke-width="1.2"/><path d="M440.25 152.37L444.15 156.27L440.25 160.17L436.35 156.27Z" fill="none" stroke="#000080" stroke-width="1.2"/><path d="M446.12 140.44L450.02 144.34L446.12 148.24L442.22 144.34Z" fill="none" stroke="#000080" stroke-width="1.2"/><path d="M441.49 146.76L445.39 150.66L441.49 154.56L437.59 150.66Z" fill="none" stroke="#000080" stroke-width="1.2"/><path d="M436.00 148.73L439.90 152.63L436.00 156.53L432.10 152.63Z" fill="none" stroke="#000080" stroke-width="1.2"/><path d="M434.81 146.65L438.71 150.55L434.81 154.45L430.91 150.55Z" fill="none" stroke="#000080" stroke-width="1.2"/><path d="M436.66 142.59L440.56 146.49L436.66 150.39L432.76 146.49Z" fill="none" stroke="#000080" stroke-width="1.2"/><path d="M435.09 153.54L438.99 157.44L435.09 161.34L431.19 157.44Z" fill="none" stroke="#000080" stroke-width="1.2"/><path d="M446.81 138.52L450.71 142.42L446.81 146.32L442.91 142.42Z" fill="none" stroke="#000080" stroke-width="1.2"/><path d="M439.04 147.79L442.94 151.69L439.04 155.59L435.14 151.69Z" fill="none" stroke="#000080" stroke-width="1.2"/><path d="M442.59 153.07L446.49 156.97L442.59 160.87L438.69 156.97Z" fill="none" stroke="#000080" stroke-width="1.2"/><path d="M436.55 142.75L440.45 146.65L436.55 150.55L432.65 146.65Z" fill="none" stroke="#000080" stroke-width="1.2"/><path d="M452.64 151.15L456.54 155.05L452.64 158.95L448.74 155.05Z" fill="none" stroke="#000080" stroke-width="1.2"/><path d="M452.85 145.32L456.75 149.22L452.85 153.12L448.95 149.22Z" fill="none" stroke="#000080" stroke-width="1.2"/><path d="M452.71 148.29L456.61 152.19L452.71 156.09L448.81 152.19Z" fill="none" stroke="#000080" stroke-width="1.2"/><path d="M439.59 147.46L443.49 151.36L439.59 155.26L435.69 151.36Z" fill="none" stroke="#000080" stroke-width="1.2"/><path d="M441.03 148.06L444.93 151.96L441.03 155.86L437.13 151.96Z" fill="none" stroke="#000080" stroke-width="1.2"/><path d="M442.89 144.11L446.79 148.01L442.89 151.91L438.99 148.01Z" fill="none" stroke="#000080" stroke-width="1.2"/><path d="M443.49 148.14L447.39 152.04L443.49 155.94L439.59 152.04Z" fill="none" stroke="#000080" stroke-width="1.2"/><path d="M433.50 146.48L437.40 150.38L433.50 154.28L429.60 150.38Z" fill="none" stroke="#000080" stroke-width="1.2"/><path d="M441.39 150.49L445.29 154.39L441.39 158.29L437.49 154.39Z" fill="none" stroke="#000080" stroke-width="1.2"/><path d="M434.23 151.88L438.13 155.78L434.23 159.68L430.33 155.78Z" fill="none" stroke="#000080" stroke-width="1.2"/><path d="M453.43 150.48L457.33 154.38L453.43 158.28L449.53 154.38Z" fill="none" stroke="#000080" stroke-width="1.2"/><path d="M458.01 139.05L461.91 142.95L458.01 146.85L454.11 142.95Z" fill="none" stroke="#000080" stroke-width="1.2"/><path d="M458.95 147.72L462.85 151.62L458.95 155.52L455.05 151.62Z" fill="none" stroke="#000080" stroke-width="1.2"/><path d="M459.71 154.38L463.61 158.28L459.71 162.18L455.81 158.28Z" fill="none" stroke="#000080" stroke-width="1.2"/><path d="M454.64 145.25L458.54 149.15L454.64 153.05L450.74 149.15Z" fill="none" stroke="#000080" stroke-width="1.2"/><path d="M463.20 155.86L467.10 159.76L463.20 163.66L459.30 159.76Z" fill="none" stroke="#000080" stroke-width="1.2"/><path d="M458.76 158.12L462.66 162.02L458.76 165.92L454.86 162.02Z" fill="none" stroke="#000080" stroke-width="1.2"/><path d="M450.97 156.70L454.87 160.60L450.97 164.50L447.07 160.60Z" fill="none" stroke="#000080" stroke-width="1.2"/><path d="M458.56 137.91L462.46 141.81L458.56 145.71L454.66 141.81Z" fill="none" stroke="#000080" stroke-width="1.2"/><path d="M459.94 151.06L463.84 154.96L459.94 158.86L456.04 154.96Z" fill="none" stroke="#000080" stroke-width="1.2"/><path d="M457.21 146.41L461.11 150.31L457.21 154.21L453.31 150.31Z" fill="none" stroke="#000080" stroke-width="1.2"/><path d="M456.96 155.68L460.86 159.58L456.96 163.48L453.06 159.58Z" fill="none" stroke="#000080" stroke-width="1.2"/><path d="M461.14 139.59L465.04 143.49L461.14 147.39L457.24 143.49Z" fill="none" stroke="#000080" stroke-width="1.2"/><path d="M457.99 157.40L461.89 161.30L457.99 165.20L454.09 161.30Z" fill="none" stroke="#000080" stroke-width="1.2"/><path d="M480.28 149.76L484.18 153.66L480.28 157.56L476.38 153.66Z" fill="none" stroke="#000080" stroke-width="1.2"/><path d="M458.43 142.61L462.33 146.51L458.43 150.41L454.53 146.51Z" fill="none" stroke="#000080" stroke-width="1.2"/><path d="M469.30 144.71L473.20 148.61L469.30 152.51L465.40 148.61Z" fill="none" stroke="#000080" stroke-width="1.2"/><path d="M484.98 157.00L488.88 160.90L484.98 164.80L481.08 160.90Z" fill="none" stroke="#000080" stroke-width="1.2"/><path d="M478.12 156.75L482.02 160.65L478.12 164.55L474.22 160.65Z" fill="none" stroke="#000080" stroke-width="1.2"/><path d="M479.86 154.55L483.76 158.45L479.86 162.35L475.96 158.45Z" fill="none" stroke="#000080" stroke-width="1.2"/><path d="M457.51 155.68L461.41 159.58L457.51 163.48L453.61 159.58Z" fill="none" stroke="#000080" stroke-width="1.2"/><path d="M482.09 155.31L485.99 159.21L482.09 163.11L478.19 159.21Z" fill="none" stroke="#000080" stroke-width="1.2"/><path d="M184.78 429.67L188.68 433.57L184.78 437.47L180.88 433.57Z" fill="none" stroke="#000080" stroke-width="1.2"/><path d="M190.25 429.96L194.15 433.86L190.25 437.76L186.35 433.86Z" fill="none" stroke="#000080" stroke-width="1.2"/><path d="M202.51 420.15L206.41 424.05L202.51 427.95L198.61 424.05Z" fill="none" stroke="#000080" stroke-width="1.2"/><path d="M181.74 436.57L185.64 440.47L181.74 444.37L177.84 440.47Z" fill="none" stroke="#000080" stroke-width="1.2"/><path d="M234.43 403.44L238.33 407.34L234.43 411.24L230.53 407.34Z" fill="none" stroke="#000080" stroke-width="1.2"/><path d="M235.14 403.61L239.04 407.51L235.14 411.41L231.24 407.51Z" fill="none" stroke="#000080" stroke-width="1.2"/><path d="M243.96 401.61L247.86 405.51L243.96 409.41L240.06 405.51Z" fill="none" stroke="#000080" stroke-width="1.2"/><path d="M254.60 397.59L258.50 401.49L254.60 405.39L250.70 401.49Z" fill="none" stroke="#000080" stroke-width="1.2"/><path d="M84.27 491.98L88.17 495.88L84.27 499.78L80.37 495.88Z" fill="none" stroke="#000080" stroke-width="1.2"/><path d="M92.57 485.83L96.47 489.73L92.57 493.63L88.67 489.73Z" fill="none" stroke="#000080" stroke-width="1.2"/><path d="M73.02 500.47L76.92 504.37L73.02 508.27L69.12 504.37Z" fill="none" stroke="#000080" stroke-width="1.2"/><path d="M61.87 508.89L65.77 512.79L61.87 516.69L57.97 512.79Z" fill="none" stroke="#000080" stroke-width="1.2"/><path d="M111.52 475.02L115.42 478.92L111.52 482.82L107.62 478.92Z" fill="none" stroke="#000080" stroke-width="1.2"/><path d="M109.19 488.93L113.09 492.83L109.19 496.73L105.29 492.83Z" fill="none" stroke="#000080" stroke-width="1.2"/><path d="M89.03 499.75L92.93 503.65L89.03 507.55L85.13 503.65Z" fill="none" stroke="#000080" stroke-width="1.2"/><path d="M103.21 490.26L107.11 494.16L103.21 498.06L99.31 494.16Z" fill="none" stroke="#000080" stroke-width="1.2"/><path d="M94.30 495.91L98.20 499.81L94.30 503.71L90.40 499.81Z" fill="none" stroke="#000080" stroke-width="1.2"/><path d="M66.53 511.50L70.43 515.40L66.53 519.30L62.63 515.40Z" fill="none" stroke="#000080" stroke-width="1.2"/><path d="M127.43 459.50L131.33 463.40L127.43 467.30L123.53 463.40Z" fill="none" stroke="#000080" stroke-width="1.2"/><path d="M145.16 451.05L149.06 454.95L145.16 458.85L141.26 454.95Z" fill="none" stroke="#000080" stroke-width="1.2"/><path d="M132.19 460.38L136.09 464.28L132.19 468.18L128.29 464.28Z" fill="none" stroke="#000080" stroke-width="1.2"/><path d="M144.55 463.98L148.45 467.88L144.55 471.78L140.65 467.88Z" fill="none" stroke="#000080" stroke-width="1.2"/><path d="M160.56 453.58L164.46 457.48L160.56 461.38L156.66 457.48Z" fill="none" stroke="#000080" stroke-width="1.2"/><path d="M165.23 450.14L169.13 454.04L165.23 457.94L161.33 454.04Z" fill="none" stroke="#000080" stroke-width="1.2"/><path d="M55.47 517.99L59.37 521.89L55.47 525.79L51.57 521.89Z" fill="none" stroke="#000080" stroke-width="1.2"/><path d="M56.73 515.69L60.63 519.59L56.73 523.49L52.83 519.59Z" fill="none" stroke="#000080" stroke-width="1.2"/><path d="M49.36 519.95L53.26 523.85L49.36 527.75L45.46 523.85Z" fill="none" stroke="#000080" stroke-width="1.2"/><path d="M47.30 521.25L51.20 525.15L47.30 529.05L43.40 525.15Z" fill="none" stroke="#000080" stroke-width="1.2"/><path d="M47.22 522.45L51.12 526.35L47.22 530.25L43.32 526.35Z" fill="none" stroke="#000080" stroke-width="1.2"/><path d="M67.55 508.42L71.45 512.32L67.55 516.22L63.65 512.32Z" fill="none" stroke="#000080" stroke-width="1.2"/><path d="M60.06 514.05L63.96 517.95L60.06 521.85L56.16 517.95Z" fill="none" stroke="#000080" stroke-width="1.2"/><path d="M57.20 516.01L61.10 519.91L57.20 523.81L53.30 519.91Z" fill="none" stroke="#000080" stroke-width="1.2"/><path d="M49.49 522.09L53.39 525.99L49.49 529.89L45.59 525.99Z" fill="none" stroke="#000080" stroke-width="1.2"/><path d="M55.20 517.41L59.10 521.31L55.20 525.21L51.30 521.31Z" fill="none" stroke="#000080" stroke-width="1.2"/><path d="M56.99 514.59L60.89 518.49L56.99 522.39L53.09 518.49Z" fill="none" stroke="#000080" stroke-width="1.2"/><path d="M55.58 516.96L59.48 520.86L55.58 524.76L51.68 520.86Z" fill="none" stroke="#000080" stroke-width="1.2"/><path d="M67.90 510.33L71.80 514.23L67.90 518.13L64.00 514.23Z" fill="none" stroke="#000080" stroke-width="1.2"/><path d="M52.34 517.85L56.24 521.75L52.34 525.65L48.44 521.75Z" fill="none" stroke="#000080" stroke-width="1.2"/><path d="M51.74 519.62L55.64 523.52L51.74 527.42L47.84 523.52Z" fill="none" stroke="#000080" stroke-width="1.2"/><path d="M64.45 510.05L68.35 513.95L64.45 517.85L60.55 513.95Z" fill="none" stroke="#000080" stroke-width="1.2"/><path d="M67.00 509.98L70.90 513.88L67.00 517.78L63.10 513.88Z" fill="none" stroke="#000080" stroke-width="1.2"/><path d="M65.91 510.05L69.81 513.95L65.91 517.85L62.01 513.95Z" fill="none" stroke="#000080" stroke-width="1.2"/><path d="M67.50 510.19L71.40 514.09L67.50 517.99L63.60 514.09Z" fill="none" stroke="#000080" stroke-width="1.2"/><path d="M62.90 512.66L66.80 516.56L62.90 520.46L59.00 516.56Z" fill="none" stroke="#000080" stroke-width="1.2"/><path d="M47.14 524.19L51.04 528.09L47.14 531.99L43.24 528.09Z" fill="none" stroke="#000080" stroke-width="1.2"/><path d="M47.84 521.77L51.74 525.67L47.84 529.57L43.94 525.67Z" fill="none" stroke="#000080" stroke-width="1.2"/><path d="M71.02 506.87L74.92 510.77L71.02 514.67L67.12 510.77Z" fill="none" stroke="#000080" stroke-width="1.2"/><path d="M84.95 496.46L88.85 500.36L84.95 504.26L81.05 500.36Z" fill="none" stroke="#000080" stroke-width="1.2"/><path d="M73.75 506.15L77.65 510.05L73.75 513.95L69.85 510.05Z" fill="none" stroke="#000080" stroke-width="1.2"/><path d="M71.49 507.77L75.39 511.67L71.49 515.57L67.59 511.67Z" fill="none" stroke="#000080" stroke-width="1.2"/><path d="M74.42 506.81L78.32 510.71L74.42 514.61L70.52 510.71Z" fill="none" stroke="#000080" stroke-width="1.2"/><path d="M77.20 501.57L81.10 505.47L77.20 509.37L73.30 505.47Z" fill="none" stroke="#000080" stroke-width="1.2"/><path d="M74.36 505.60L78.26 509.50L74.36 513.40L70.46 509.50Z" fill="none" stroke="#000080" stroke-width="1.2"/><path d="M71.00 503.47L74.90 507.37L71.00 511.27L67.10 507.37Z" fill="none" stroke="#000080" stroke-width="1.2"/><path d="M74.43 504.51L78.33 508.41L74.43 512.31L70.53 508.41Z" fill="none" stroke="#000080" stroke-width="1.2"/><path d="M76.96 501.42L80.86 505.32L76.96 509.22L73.06 505.32Z" fill="none" stroke="#000080" stroke-width="1.2"/><path d="M70.69 506.92L74.59 510.82L70.69 514.72L66.79 510.82Z" fill="none" stroke="#000080" stroke-width="1.2"/><path d="M79.25 503.00L83.15 506.90L79.25 510.80L75.35 506.90Z" fill="none" stroke="#000080" stroke-width="1.2"/><path d="M97.11 486.67L101.01 490.57L97.11 494.47L93.21 490.57Z" fill="none" stroke="#000080" stroke-width="1.2"/><path d="M73.51 503.69L77.41 507.59L73.51 511.49L69.61 507.59Z" fill="none" stroke="#000080" stroke-width="1.2"/><path d="M95.57 490.19L99.47 494.09L95.57 497.99L91.67 494.09Z" fill="none" stroke="#000080" stroke-width="1.2"/><path d="M90.43 495.43L94.33 499.33L90.43 503.23L86.53 499.33Z" fill="none" stroke="#000080" stroke-width="1.2"/><path d="M73.93 507.47L77.83 511.37L73.93 515.27L70.03 511.37Z" fill="none" stroke="#000080" stroke-width="1.2"/><path d="M80.76 498.82L84.66 502.72L80.76 506.62L76.86 502.72Z" fill="none" stroke="#000080" stroke-width="1.2"/><path d="M69.13 508.20L73.03 512.10L69.13 516.00L65.23 512.10Z" fill="none" stroke="#000080" stroke-width="1.2"/><path d="M75.76 505.61L79.66 509.51L75.76 513.41L71.86 509.51Z" fill="none" stroke="#000080" stroke-width="1.2"/><path d="M86.08 497.54L89.98 501.44L86.08 505.34L82.18 501.44Z" fill="none" stroke="#000080" stroke-width="1.2"/><path d="M70.04 509.26L73.94 513.16L70.04 517.06L66.14 513.16Z" fill="none" stroke="#000080" stroke-width="1.2"/><path d="M84.96 495.59L88.86 499.49L84.96 503.39L81.06 499.49Z" fill="none" stroke="#000080" stroke-width="1.2"/><path d="M95.84 489.27L99.74 493.17L95.84 497.07L91.94 493.17Z" fill="none" stroke="#000080" stroke-width="1.2"/><path d="M68.46 507.87L72.36 511.77L68.46 515.67L64.56 511.77Z" fill="none" stroke="#000080" stroke-width="1.2"/><path d="M73.31 505.25L77.21 509.15L73.31 513.05L69.41 509.15Z" fill="none" stroke="#000080" stroke-width="1.2"/><path d="M85.34 495.14L89.24 499.04L85.34 502.94L81.44 499.04Z" fill="none" stroke="#000080" stroke-width="1.2"/><path d="M97.76 490.95L101.66 494.85L97.76 498.75L93.86 494.85Z" fill="none" stroke="#000080" stroke-width="1.2"/><path d="M88.96 494.85L92.86 498.75L88.96 502.65L85.06 498.75Z" fill="none" stroke="#000080" stroke-width="1.2"/><path d="M68.50 508.88L72.40 512.78L68.50 516.68L64.60 512.78Z" fill="none" stroke="#000080" stroke-width="1.2"/><path d="M89.26 498.33L93.16 502.23L89.26 506.13L85.36 502.23Z" fill="none" stroke="#000080" stroke-width="1.2"/><path d="M82.61 499.13L86.51 503.03L82.61 506.93L78.71 503.03Z" fill="none" stroke="#000080" stroke-width="1.2"/><path d="M77.65 505.30L81.55 509.20L77.65 513.10L73.75 509.20Z" fill="none" stroke="#000080" stroke-width="1.2"/><path d="M90.36 495.27L94.26 499.17L90.36 503.07L86.46 499.17Z" fill="none" stroke="#000080" stroke-width="1.2"/><path d="M90.36 494.51L94.26 498.41L90.36 502.31L86.46 498.41Z" fill="none" stroke="#000080" stroke-width="1.2"/><path d="M78.65 498.54L82.55 502.44L78.65 506.34L74.75 502.44Z" fill="none" stroke="#000080" stroke-width="1.2"/><path d="M95.34 486.08L99.24 489.98L95.34 493.88L91.44 489.98Z" fill="none" stroke="#000080" stroke-width="1.2"/><path d="M94.20 492.33L98.10 496.23L94.20 500.13L90.30 496.23Z" fill="none" stroke="#000080" stroke-width="1.2"/><path d="M86.95 494.30L90.85 498.20L86.95 502.10L83.05 498.20Z" fill="none" stroke="#000080" stroke-width="1.2"/><path d="M70.39 506.10L74.29 510.00L70.39 513.90L66.49 510.00Z" fill="none" stroke="#000080" stroke-width="1.2"/><path d="M98.15 488.09L102.05 491.99L98.15 495.89L94.25 491.99Z" fill="none" stroke="#000080" stroke-width="1.2"/><path d="M90.30 492.35L94.20 496.25L90.30 500.15L86.40 496.25Z" fill="none" stroke="#000080" stroke-width="1.2"/><path d="M81.34 501.71L85.24 505.61L81.34 509.51L77.44 505.61Z" fill="none" stroke="#000080" stroke-width="1.2"/><path d="M68.86 509.23L72.76 513.13L68.86 517.03L64.96 513.13Z" fill="none" stroke="#000080" stroke-width="1.2"/><path d="M82.57 498.37L86.47 502.27L82.57 506.17L78.67 502.27Z" fill="none" stroke="#000080" stroke-width="1.2"/><path d="M86.63 493.08L90.53 496.98L86.63 500.88L82.73 496.98Z" fill="none" stroke="#000080" stroke-width="1.2"/><path d="M75.73 502.81L79.63 506.71L75.73 510.61L71.83 506.71Z" fill="none" stroke="#000080" stroke-width="1.2"/><path d="M74.11 506.54L78.01 510.44L74.11 514.34L70.21 510.44Z" fill="none" stroke="#000080" stroke-width="1.2"/><path d="M95.48 487.51L99.38 491.41L95.48 495.31L91.58 491.41Z" fill="none" stroke="#000080" stroke-width="1.2"/><path d="M77.89 503.07L81.79 506.97L77.89 510.87L73.99 506.97Z" fill="none" stroke="#000080" stroke-width="1.2"/><path d="M73.99 505.70L77.89 509.60L73.99 513.50L70.09 509.60Z" fill="none" stroke="#000080" stroke-width="1.2"/><path d="M94.71 487.87L98.61 491.77L94.71 495.67L90.81 491.77Z" fill="none" stroke="#000080" stroke-width="1.2"/><path d="M85.68 497.88L89.58 501.78L85.68 505.68L81.78 501.78Z" fill="none" stroke="#000080" stroke-width="1.2"/><path d="M93.40 492.87L97.30 496.77L93.40 500.67L89.50 496.77Z" fill="none" stroke="#000080" stroke-width="1.2"/><path d="M89.57 493.92L93.47 497.82L89.57 501.72L85.67 497.82Z" fill="none" stroke="#000080" stroke-width="1.2"/><path d="M81.65 500.34L85.55 504.24L81.65 508.14L77.75 504.24Z" fill="none" stroke="#000080" stroke-width="1.2"/><path d="M74.46 503.18L78.36 507.08L74.46 510.98L70.56 507.08Z" fill="none" stroke="#000080" stroke-width="1.2"/><path d="M77.54 501.10L81.44 505.00L77.54 508.90L73.64 505.00Z" fill="none" stroke="#000080" stroke-width="1.2"/><path d="M97.80 489.01L101.70 492.91L97.80 496.81L93.90 492.91Z" fill="none" stroke="#000080" stroke-width="1.2"/><path d="M94.48 491.07L98.38 494.97L94.48 498.87L90.58 494.97Z" fill="none" stroke="#000080" stroke-width="1.2"/><path d="M124.92 469.72L128.82 473.62L124.92 477.52L121.02 473.62Z" fill="none" stroke="#000080" stroke-width="1.2"/><path d="M99.07 489.97L102.97 493.87L99.07 497.77L95.17 493.87Z" fill="none" stroke="#000080" stroke-width="1.2"/><path d="M115.40 477.37L119.30 481.27L115.40 485.17L111.50 481.27Z" fill="none" stroke="#000080" stroke-width="1.2"/><path d="M103.63 483.96L107.53 487.86L103.63 491.76L99.73 487.86Z" fill="none" stroke="#000080" stroke-width="1.2"/><path d="M121.94 471.25L125.84 475.15L121.94 479.05L118.04 475.15Z" fill="none" stroke="#000080" stroke-width="1.2"/><path d="M128.62 465.34L132.52 469.24L128.62 473.14L124.72 469.24Z" fill="none" stroke="#000080" stroke-width="1.2"/><path d="M124.01 470.35L127.91 474.25L124.01 478.15L120.11 474.25Z" fill="none" stroke="#000080" stroke-width="1.2"/><path d="M98.75 488.18L102.65 492.08L98.75 495.98L94.85 492.08Z" fill="none" stroke="#000080" stroke-width="1.2"/><path d="M125.12 470.24L129.02 474.14L125.12 478.04L121.22 474.14Z" fill="none" stroke="#000080" stroke-width="1.2"/><path d="M124.49 472.00L128.39 475.90L124.49 479.80L120.59 475.90Z" fill="none" stroke="#000080" stroke-width="1.2"/><path d="M121.39 471.12L125.29 475.02L121.39 478.92L117.49 475.02Z" fill="none" stroke="#000080" stroke-width="1.2"/><path d="M132.33 466.99L136.23 470.89L132.33 474.79L128.43 470.89Z" fill="none" stroke="#000080" stroke-width="1.2"/><path d="M133.31 465.89L137.21 469.79L133.31 473.69L129.41 469.79Z" fill="none" stroke="#000080" stroke-width="1.2"/><path d="M121.80 474.68L125.70 478.58L121.80 482.48L117.90 478.58Z" fill="none" stroke="#000080" stroke-width="1.2"/><path d="M112.48 480.53L116.38 484.43L112.48 488.33L108.58 484.43Z" fill="none" stroke="#000080" stroke-width="1.2"/><path d="M133.75 463.05L137.65 466.95L133.75 470.85L129.85 466.95Z" fill="none" stroke="#000080" stroke-width="1.2"/><path d="M122.77 471.57L126.67 475.47L122.77 479.37L118.87 475.47Z" fill="none" stroke="#000080" stroke-width="1.2"/><path d="M122.40 469.89L126.30 473.79L122.40 477.69L118.50 473.79Z" fill="none" stroke="#000080" stroke-width="1.2"/><path d="M106.35 488.54L110.25 492.44L106.35 496.34L102.45 492.44Z" fill="none" stroke="#000080" stroke-width="1.2"/><path d="M118.48 474.42L122.38 478.32L118.48 482.22L114.58 478.32Z" fill="none" stroke="#000080" stroke-width="1.2"/><path d="M110.36 481.75L114.26 485.65L110.36 489.55L106.46 485.65Z" fill="none" stroke="#000080" stroke-width="1.2"/><path d="M101.45 485.31L105.35 489.21L101.45 493.11L97.55 489.21Z" fill="none" stroke="#000080" stroke-width="1.2"/><path d="M118.98 474.21L122.88 478.11L118.98 482.01L115.08 478.11Z" fill="none" stroke="#000080" stroke-width="1.2"/><path d="M128.69 468.05L132.59 471.95L128.69 475.85L124.79 471.95Z" fill="none" stroke="#000080" stroke-width="1.2"/><path d="M128.34 467.10L132.24 471.00L128.34 474.90L124.44 471.00Z" fill="none" stroke="#000080" stroke-width="1.2"/><path d="M103.62 486.75L107.52 490.65L103.62 494.55L99.72 490.65Z" fill="none" stroke="#000080" stroke-width="1.2"/><path d="M117.71 476.42L121.61 480.32L117.71 484.22L113.81 480.32Z" fill="none" stroke="#000080" stroke-width="1.2"/><path d="M133.81 462.94L137.71 466.84L133.81 470.74L129.91 466.84Z" fill="none" stroke="#000080" stroke-width="1.2"/><path d="M133.93 464.79L137.83 468.69L133.93 472.59L130.03 468.69Z" fill="none" stroke="#000080" stroke-width="1.2"/><path d="M109.23 482.59L113.13 486.49L109.23 490.39L105.33 486.49Z" fill="none" stroke="#000080" stroke-width="1.2"/><path d="M122.30 473.21L126.20 477.11L122.30 481.01L118.40 477.11Z" fill="none" stroke="#000080" stroke-width="1.2"/><path d="M110.04 479.14L113.94 483.04L110.04 486.94L106.14 483.04Z" fill="none" stroke="#000080" stroke-width="1.2"/><path d="M130.04 468.41L133.94 472.31L130.04 476.21L126.14 472.31Z" fill="none" stroke="#000080" stroke-width="1.2"/><path d="M134.66 466.44L138.56 470.34L134.66 474.24L130.76 470.34Z" fill="none" stroke="#000080" stroke-width="1.2"/><path d="M119.83 472.47L123.73 476.37L119.83 480.27L115.93 476.37Z" fill="none" stroke="#000080" stroke-width="1.2"/><path d="M121.04 472.80L124.94 476.70L121.04 480.60L117.14 476.70Z" fill="none" stroke="#000080" stroke-width="1.2"/><path d="M134.69 462.13L138.59 466.03L134.69 469.93L130.79 466.03Z" fill="none" stroke="#000080" stroke-width="1.2"/><path d="M119.45 475.55L123.35 479.45L119.45 483.35L115.55 479.45Z" fill="none" stroke="#000080" stroke-width="1.2"/><path d="M124.26 469.70L128.16 473.60L124.26 477.50L120.36 473.60Z" fill="none" stroke="#000080" stroke-width="1.2"/><path d="M134.22 463.67L138.12 467.57L134.22 471.47L130.32 467.57Z" fill="none" stroke="#000080" stroke-width="1.2"/><path d="M108.44 482.53L112.34 486.43L108.44 490.33L104.54 486.43Z" fill="none" stroke="#000080" stroke-width="1.2"/><path d="M128.93 469.82L132.83 473.72L128.93 477.62L125.03 473.72Z" fill="none" stroke="#000080" stroke-width="1.2"/><path d="M116.22 477.01L120.12 480.91L116.22 484.81L112.32 480.91Z" fill="none" stroke="#000080" stroke-width="1.2"/><path d="M133.04 466.77L136.94 470.67L133.04 474.57L129.14 470.67Z" fill="none" stroke="#000080" stroke-width="1.2"/><path d="M127.57 469.09L131.47 472.99L127.57 476.89L123.67 472.99Z" fill="none" stroke="#000080" stroke-width="1.2"/><path d="M124.11 471.95L128.01 475.85L124.11 479.75L120.21 475.85Z" fill="none" stroke="#000080" stroke-width="1.2"/><path d="M111.67 481.05L115.57 484.95L111.67 488.85L107.77 484.95Z" fill="none" stroke="#000080" stroke-width="1.2"/><path d="M102.95 486.52L106.85 490.42L102.95 494.32L99.05 490.42Z" fill="none" stroke="#000080" stroke-width="1.2"/><path d="M107.74 480.69L111.64 484.59L107.74 488.49L103.84 484.59Z" fill="none" stroke="#000080" stroke-width="1.2"/><path d="M112.44 478.64L116.34 482.54L112.44 486.44L108.54 482.54Z" fill="none" stroke="#000080" stroke-width="1.2"/><path d="M118.20 475.56L122.10 479.46L118.20 483.36L114.30 479.46Z" fill="none" stroke="#000080" stroke-width="1.2"/><path d="M122.29 474.04L126.19 477.94L122.29 481.84L118.39 477.94Z" fill="none" stroke="#000080" stroke-width="1.2"/><path d="M130.26 467.54L134.16 471.44L130.26 475.34L126.36 471.44Z" fill="none" stroke="#000080" stroke-width="1.2"/><path d="M126.12 469.00L130.02 472.90L126.12 476.80L122.22 472.90Z" fill="none" stroke="#000080" stroke-width="1.2"/><path d="M132.19 464.52L136.09 468.42L132.19 472.32L128.29 468.42Z" fill="none" stroke="#000080" stroke-width="1.2"/><path d="M106.53 488.18L110.43 492.08L106.53 495.98L102.63 492.08Z" fill="none" stroke="#000080" stroke-width="1.2"/><path d="M131.62 466.19L135.52 470.09L131.62 473.99L127.72 470.09Z" fill="none" stroke="#000080" stroke-width="1.2"/><path d="M108.08 483.88L111.98 487.78L108.08 491.68L104.18 487.78Z" fill="none" stroke="#000080" stroke-width="1.2"/><path d="M129.55 467.61L133.45 471.51L129.55 475.41L125.65 471.51Z" fill="none" stroke="#000080" stroke-width="1.2"/><path d="M113.45 477.57L117.35 481.47L113.45 485.37L109.55 481.47Z" fill="none" stroke="#000080" stroke-width="1.2"/><path d="M99.02 486.72L102.92 490.62L99.02 494.52L95.12 490.62Z" fill="none" stroke="#000080" stroke-width="1.2"/><path d="M134.66 461.45L138.56 465.35L134.66 469.25L130.76 465.35Z" fill="none" stroke="#000080" stroke-width="1.2"/><path d="M117.31 473.68L121.21 477.58L117.31 481.48L113.41 477.58Z" fill="none" stroke="#000080" stroke-width="1.2"/><path d="M105.44 483.55L109.34 487.45L105.44 491.35L101.54 487.45Z" fill="none" stroke="#000080" stroke-width="1.2"/><path d="M102.33 484.20L106.23 488.10L102.33 492.00L98.43 488.10Z" fill="none" stroke="#000080" stroke-width="1.2"/><path d="M119.67 473.56L123.57 477.46L119.67 481.36L115.77 477.46Z" fill="none" stroke="#000080" stroke-width="1.2"/><path d="M105.27 485.79L109.17 489.69L105.27 493.59L101.37 489.69Z" fill="none" stroke="#000080" stroke-width="1.2"/><path d="M133.10 461.77L137.00 465.67L133.10 469.57L129.20 465.67Z" fill="none" stroke="#000080" stroke-width="1.2"/><path d="M100.67 482.53L104.57 486.43L100.67 490.33L96.77 486.43Z" fill="none" stroke="#000080" stroke-width="1.2"/><path d="M110.60 480.64L114.50 484.54L110.60 488.44L106.70 484.54Z" fill="none" stroke="#000080" stroke-width="1.2"/><path d="M117.67 475.23L121.57 479.13L117.67 483.03L113.77 479.13Z" fill="none" stroke="#000080" stroke-width="1.2"/><path d="M124.63 470.61L128.53 474.51L124.63 478.41L120.73 474.51Z" fill="none" stroke="#000080" stroke-width="1.2"/><path d="M105.15 483.69L109.05 487.59L105.15 491.49L101.25 487.59Z" fill="none" stroke="#000080" stroke-width="1.2"/><path d="M105.67 482.12L109.57 486.02L105.67 489.92L101.77 486.02Z" fill="none" stroke="#000080" stroke-width="1.2"/><path d="M117.57 477.27L121.47 481.17L117.57 485.07L113.67 481.17Z" fill="none" stroke="#000080" stroke-width="1.2"/><path d="M124.77 467.77L128.67 471.67L124.77 475.57L120.87 471.67Z" fill="none" stroke="#000080" stroke-width="1.2"/><path d="M121.95 471.30L125.85 475.20L121.95 479.10L118.05 475.20Z" fill="none" stroke="#000080" stroke-width="1.2"/><path d="M135.19 462.77L139.09 466.67L135.19 470.57L131.29 466.67Z" fill="none" stroke="#000080" stroke-width="1.2"/><path d="M108.03 481.69L111.93 485.59L108.03 489.49L104.13 485.59Z" fill="none" stroke="#000080" stroke-width="1.2"/><path d="M128.89 465.66L132.79 469.56L128.89 473.46L124.99 469.56Z" fill="none" stroke="#000080" stroke-width="1.2"/><path d="M131.96 464.34L135.86 468.24L131.96 472.14L128.06 468.24Z" fill="none" stroke="#000080" stroke-width="1.2"/><path d="M127.04 467.06L130.94 470.96L127.04 474.86L123.14 470.96Z" fill="none" stroke="#000080" stroke-width="1.2"/><path d="M125.44 469.40L129.34 473.30L125.44 477.20L121.54 473.30Z" fill="none" stroke="#000080" stroke-width="1.2"/><path d="M98.75 489.27L102.65 493.17L98.75 497.07L94.85 493.17Z" fill="none" stroke="#000080" stroke-width="1.2"/><path d="M122.30 472.64L126.20 476.54L122.30 480.44L118.40 476.54Z" fill="none" stroke="#000080" stroke-width="1.2"/><path d="M123.32 474.68L127.22 478.58L123.32 482.48L119.42 478.58Z" fill="none" stroke="#000080" stroke-width="1.2"/><path d="M123.08 470.52L126.98 474.42L123.08 478.32L119.18 474.42Z" fill="none" stroke="#000080" stroke-width="1.2"/><path d="M135.84 462.97L139.74 466.87L135.84 470.77L131.94 466.87Z" fill="none" stroke="#000080" stroke-width="1.2"/><path d="M124.64 471.00L128.54 474.90L124.64 478.80L120.74 474.90Z" fill="none" stroke="#000080" stroke-width="1.2"/><path d="M121.42 472.85L125.32 476.75L121.42 480.65L117.52 476.75Z" fill="none" stroke="#000080" stroke-width="1.2"/><path d="M107.97 482.69L111.87 486.59L107.97 490.49L104.07 486.59Z" fill="none" stroke="#000080" stroke-width="1.2"/><path d="M112.43 479.16L116.33 483.06L112.43 486.96L108.53 483.06Z" fill="none" stroke="#000080" stroke-width="1.2"/><path d="M107.76 479.12L111.66 483.02L107.76 486.92L103.86 483.02Z" fill="none" stroke="#000080" stroke-width="1.2"/><path d="M134.61 463.58L138.51 467.48L134.61 471.38L130.71 467.48Z" fill="none" stroke="#000080" stroke-width="1.2"/><path d="M135.66 463.54L139.56 467.44L135.66 471.34L131.76 467.44Z" fill="none" stroke="#000080" stroke-width="1.2"/><path d="M120.75 472.86L124.65 476.76L120.75 480.66L116.85 476.76Z" fill="none" stroke="#000080" stroke-width="1.2"/><path d="M100.04 488.75L103.94 492.65L100.04 496.55L96.14 492.65Z" fill="none" stroke="#000080" stroke-width="1.2"/><path d="M104.69 485.31L108.59 489.21L104.69 493.11L100.79 489.21Z" fill="none" stroke="#000080" stroke-width="1.2"/><path d="M121.26 474.25L125.16 478.15L121.26 482.05L117.36 478.15Z" fill="none" stroke="#000080" stroke-width="1.2"/><path d="M118.10 474.66L122.00 478.56L118.10 482.46L114.20 478.56Z" fill="none" stroke="#000080" stroke-width="1.2"/><path d="M112.06 478.23L115.96 482.13L112.06 486.03L108.16 482.13Z" fill="none" stroke="#000080" stroke-width="1.2"/><path d="M108.98 479.85L112.88 483.75L108.98 487.65L105.08 483.75Z" fill="none" stroke="#000080" stroke-width="1.2"/><path d="M109.45 480.91L113.35 484.81L109.45 488.71L105.55 484.81Z" fill="none" stroke="#000080" stroke-width="1.2"/><path d="M104.22 484.78L108.12 488.68L104.22 492.58L100.32 488.68Z" fill="none" stroke="#000080" stroke-width="1.2"/><path d="M112.97 478.53L116.87 482.43L112.97 486.33L109.07 482.43Z" fill="none" stroke="#000080" stroke-width="1.2"/><path d="M135.42 462.69L139.32 466.59L135.42 470.49L131.52 466.59Z" fill="none" stroke="#000080" stroke-width="1.2"/><path d="M101.11 483.84L105.01 487.74L101.11 491.64L97.21 487.74Z" fill="none" stroke="#000080" stroke-width="1.2"/><path d="M134.83 464.53L138.73 468.43L134.83 472.33L130.93 468.43Z" fill="none" stroke="#000080" stroke-width="1.2"/><path d="M117.97 474.70L121.87 478.60L117.97 482.50L114.07 478.60Z" fill="none" stroke="#000080" stroke-width="1.2"/><path d="M135.05 462.34L138.95 466.24L135.05 470.14L131.15 466.24Z" fill="none" stroke="#000080" stroke-width="1.2"/><path d="M120.98 472.17L124.88 476.07L120.98 479.97L117.08 476.07Z" fill="none" stroke="#000080" stroke-width="1.2"/><path d="M105.99 482.22L109.89 486.12L105.99 490.02L102.09 486.12Z" fill="none" stroke="#000080" stroke-width="1.2"/><path d="M118.15 473.29L122.05 477.19L118.15 481.09L114.25 477.19Z" fill="none" stroke="#000080" stroke-width="1.2"/><path d="M115.43 477.56L119.33 481.46L115.43 485.36L111.53 481.46Z" fill="none" stroke="#000080" stroke-width="1.2"/><path d="M120.18 473.99L124.08 477.89L120.18 481.79L116.28 477.89Z" fill="none" stroke="#000080" stroke-width="1.2"/><path d="M135.75 460.18L139.65 464.08L135.75 467.98L131.85 464.08Z" fill="none" stroke="#000080" stroke-width="1.2"/><path d="M125.88 471.95L129.78 475.85L125.88 479.75L121.98 475.85Z" fill="none" stroke="#000080" stroke-width="1.2"/><path d="M127.75 470.42L131.65 474.32L127.75 478.22L123.85 474.32Z" fill="none" stroke="#000080" stroke-width="1.2"/><path d="M111.82 478.66L115.72 482.56L111.82 486.46L107.92 482.56Z" fill="none" stroke="#000080" stroke-width="1.2"/><path d="M120.53 471.96L124.43 475.86L120.53 479.76L116.63 475.86Z" fill="none" stroke="#000080" stroke-width="1.2"/><path d="M126.59 469.44L130.49 473.34L126.59 477.24L122.69 473.34Z" fill="none" stroke="#000080" stroke-width="1.2"/><path d="M132.68 470.91L136.58 474.81L132.68 478.71L128.78 474.81Z" fill="none" stroke="#000080" stroke-width="1.2"/><path d="M99.83 487.16L103.73 491.06L99.83 494.96L95.93 491.06Z" fill="none" stroke="#000080" stroke-width="1.2"/><path d="M121.72 474.02L125.62 477.92L121.72 481.82L117.82 477.92Z" fill="none" stroke="#000080" stroke-width="1.2"/><path d="M118.66 476.38L122.56 480.28L118.66 484.18L114.76 480.28Z" fill="none" stroke="#000080" stroke-width="1.2"/><path d="M118.99 475.50L122.89 479.40L118.99 483.30L115.09 479.40Z" fill="none" stroke="#000080" stroke-width="1.2"/><path d="M112.34 479.25L116.24 483.15L112.34 487.05L108.44 483.15Z" fill="none" stroke="#000080" stroke-width="1.2"/><path d="M126.27 470.78L130.17 474.68L126.27 478.58L122.37 474.68Z" fill="none" stroke="#000080" stroke-width="1.2"/><path d="M101.14 487.11L105.04 491.01L101.14 494.91L97.24 491.01Z" fill="none" stroke="#000080" stroke-width="1.2"/><path d="M127.17 467.36L131.07 471.26L127.17 475.16L123.27 471.26Z" fill="none" stroke="#000080" stroke-width="1.2"/><path d="M114.26 478.13L118.16 482.03L114.26 485.93L110.36 482.03Z" fill="none" stroke="#000080" stroke-width="1.2"/><path d="M122.86 469.63L126.76 473.53L122.86 477.43L118.96 473.53Z" fill="none" stroke="#000080" stroke-width="1.2"/><path d="M110.55 480.09L114.45 483.99L110.55 487.89L106.65 483.99Z" fill="none" stroke="#000080" stroke-width="1.2"/><path d="M114.38 474.70L118.28 478.60L114.38 482.50L110.48 478.60Z" fill="none" stroke="#000080" stroke-width="1.2"/><path d="M101.99 486.83L105.89 490.73L101.99 494.63L98.09 490.73Z" fill="none" stroke="#000080" stroke-width="1.2"/><path d="M119.50 474.42L123.40 478.32L119.50 482.22L115.60 478.32Z" fill="none" stroke="#000080" stroke-width="1.2"/><path d="M124.04 471.21L127.94 475.11L124.04 479.01L120.14 475.11Z" fill="none" stroke="#000080" stroke-width="1.2"/><path d="M106.35 482.47L110.25 486.37L106.35 490.27L102.45 486.37Z" fill="none" stroke="#000080" stroke-width="1.2"/><path d="M101.41 485.97L105.31 489.87L101.41 493.77L97.51 489.87Z" fill="none" stroke="#000080" stroke-width="1.2"/><path d="M108.96 479.28L112.86 483.18L108.96 487.08L105.06 483.18Z" fill="none" stroke="#000080" stroke-width="1.2"/><path d="M111.76 478.92L115.66 482.82L111.76 486.72L107.86 482.82Z" fill="none" stroke="#000080" stroke-width="1.2"/><path d="M124.94 471.00L128.84 474.90L124.94 478.80L121.04 474.90Z" fill="none" stroke="#000080" stroke-width="1.2"/><path d="M132.79 467.63L136.69 471.53L132.79 475.43L128.89 471.53Z" fill="none" stroke="#000080" stroke-width="1.2"/><path d="M128.46 467.46L132.36 471.36L128.46 475.26L124.56 471.36Z" fill="none" stroke="#000080" stroke-width="1.2"/><path d="M110.26 482.85L114.16 486.75L110.26 490.65L106.36 486.75Z" fill="none" stroke="#000080" stroke-width="1.2"/><path d="M107.66 481.01L111.56 484.91L107.66 488.81L103.76 484.91Z" fill="none" stroke="#000080" stroke-width="1.2"/><path d="M112.06 478.15L115.96 482.05L112.06 485.95L108.16 482.05Z" fill="none" stroke="#000080" stroke-width="1.2"/><path d="M105.66 484.21L109.56 488.11L105.66 492.01L101.76 488.11Z" fill="none" stroke="#000080" stroke-width="1.2"/><path d="M128.23 469.18L132.13 473.08L128.23 476.98L124.33 473.08Z" fill="none" stroke="#000080" stroke-width="1.2"/><path d="M104.97 482.48L108.87 486.38L104.97 490.28L101.07 486.38Z" fill="none" stroke="#000080" stroke-width="1.2"/><path d="M131.38 467.75L135.28 471.65L131.38 475.55L127.48 471.65Z" fill="none" stroke="#000080" stroke-width="1.2"/><path d="M118.75 474.89L122.65 478.79L118.75 482.69L114.85 478.79Z" fill="none" stroke="#000080" stroke-width="1.2"/><path d="M134.58 464.23L138.48 468.13L134.58 472.03L130.68 468.13Z" fill="none" stroke="#000080" stroke-width="1.2"/><path d="M118.85 474.16L122.75 478.06L118.85 481.96L114.95 478.06Z" fill="none" stroke="#000080" stroke-width="1.2"/><path d="M101.50 485.99L105.40 489.89L101.50 493.79L97.60 489.89Z" fill="none" stroke="#000080" stroke-width="1.2"/><path d="M101.53 483.46L105.43 487.36L101.53 491.26L97.63 487.36Z" fill="none" stroke="#000080" stroke-width="1.2"/><path d="M103.74 484.14L107.64 488.04L103.74 491.94L99.84 488.04Z" fill="none" stroke="#000080" stroke-width="1.2"/><path d="M106.61 482.02L110.51 485.92L106.61 489.82L102.71 485.92Z" fill="none" stroke="#000080" stroke-width="1.2"/><path d="M117.90 474.32L121.80 478.22L117.90 482.12L114.00 478.22Z" fill="none" stroke="#000080" stroke-width="1.2"/><path d="M134.65 464.75L138.55 468.65L134.65 472.55L130.75 468.65Z" fill="none" stroke="#000080" stroke-width="1.2"/><path d="M116.86 475.57L120.76 479.47L116.86 483.37L112.96 479.47Z" fill="none" stroke="#000080" stroke-width="1.2"/><path d="M132.65 463.38L136.55 467.28L132.65 471.18L128.75 467.28Z" fill="none" stroke="#000080" stroke-width="1.2"/><path d="M129.33 469.00L133.23 472.90L129.33 476.80L125.43 472.90Z" fill="none" stroke="#000080" stroke-width="1.2"/><path d="M129.61 463.70L133.51 467.60L129.61 471.50L125.71 467.60Z" fill="none" stroke="#000080" stroke-width="1.2"/><path d="M134.26 462.29L138.16 466.19L134.26 470.09L130.36 466.19Z" fill="none" stroke="#000080" stroke-width="1.2"/><path d="M128.43 467.89L132.33 471.79L128.43 475.69L124.53 471.79Z" fill="none" stroke="#000080" stroke-width="1.2"/><path d="M114.11 477.56L118.01 481.46L114.11 485.36L110.21 481.46Z" fill="none" stroke="#000080" stroke-width="1.2"/><path d="M112.43 474.97L116.33 478.87L112.43 482.77L108.53 478.87Z" fill="none" stroke="#000080" stroke-width="1.2"/><path d="M106.01 482.31L109.91 486.21L106.01 490.11L102.11 486.21Z" fill="none" stroke="#000080" stroke-width="1.2"/><path d="M100.57 490.12L104.47 494.02L100.57 497.92L96.67 494.02Z" fill="none" stroke="#000080" stroke-width="1.2"/><path d="M102.65 485.58L106.55 489.48L102.65 493.38L98.75 489.48Z" fill="none" stroke="#000080" stroke-width="1.2"/><path d="M100.69 485.97L104.59 489.87L100.69 493.77L96.79 489.87Z" fill="none" stroke="#000080" stroke-width="1.2"/><path d="M120.25 474.87L124.15 478.77L120.25 482.67L116.35 478.77Z" fill="none" stroke="#000080" stroke-width="1.2"/><path d="M105.27 483.84L109.17 487.74L105.27 491.64L101.37 487.74Z" fill="none" stroke="#000080" stroke-width="1.2"/><path d="M107.18 481.66L111.08 485.56L107.18 489.46L103.28 485.56Z" fill="none" stroke="#000080" stroke-width="1.2"/><path d="M105.29 483.17L109.19 487.07L105.29 490.97L101.39 487.07Z" fill="none" stroke="#000080" stroke-width="1.2"/><path d="M104.82 483.39L108.72 487.29L104.82 491.19L100.92 487.29Z" fill="none" stroke="#000080" stroke-width="1.2"/><path d="M128.98 469.32L132.88 473.22L128.98 477.12L125.08 473.22Z" fill="none" stroke="#000080" stroke-width="1.2"/><path d="M108.11 483.81L112.01 487.71L108.11 491.61L104.21 487.71Z" fill="none" stroke="#000080" stroke-width="1.2"/><path d="M118.87 473.39L122.77 477.29L118.87 481.19L114.97 477.29Z" fill="none" stroke="#000080" stroke-width="1.2"/><path d="M116.44 479.18L120.34 483.08L116.44 486.98L112.54 483.08Z" fill="none" stroke="#000080" stroke-width="1.2"/><path d="M128.40 469.17L132.30 473.07L128.40 476.97L124.50 473.07Z" fill="none" stroke="#000080" stroke-width="1.2"/><path d="M118.13 474.49L122.03 478.39L118.13 482.29L114.23 478.39Z" fill="none" stroke="#000080" stroke-width="1.2"/><path d="M123.00 475.68L126.90 479.58L123.00 483.48L119.10 479.58Z" fill="none" stroke="#000080" stroke-width="1.2"/><path d="M98.76 486.47L102.66 490.37L98.76 494.27L94.86 490.37Z" fill="none" stroke="#000080" stroke-width="1.2"/><path d="M125.09 472.08L128.99 475.98L125.09 479.88L121.19 475.98Z" fill="none" stroke="#000080" stroke-width="1.2"/><path d="M104.25 483.95L108.15 487.85L104.25 491.75L100.35 487.85Z" fill="none" stroke="#000080" stroke-width="1.2"/><path d="M130.94 467.41L134.84 471.31L130.94 475.21L127.04 471.31Z" fill="none" stroke="#000080" stroke-width="1.2"/><path d="M122.23 472.01L126.13 475.91L122.23 479.81L118.33 475.91Z" fill="none" stroke="#000080" stroke-width="1.2"/><path d="M104.00 486.12L107.90 490.02L104.00 493.92L100.10 490.02Z" fill="none" stroke="#000080" stroke-width="1.2"/><path d="M98.40 489.65L102.30 493.55L98.40 497.45L94.50 493.55Z" fill="none" stroke="#000080" stroke-width="1.2"/><path d="M101.44 484.30L105.34 488.20L101.44 492.10L97.54 488.20Z" fill="none" stroke="#000080" stroke-width="1.2"/><path d="M125.21 468.91L129.11 472.81L125.21 476.71L121.31 472.81Z" fill="none" stroke="#000080" stroke-width="1.2"/><path d="M134.17 464.53L138.07 468.43L134.17 472.33L130.27 468.43Z" fill="none" stroke="#000080" stroke-width="1.2"/><path d="M130.49 467.14L134.39 471.04L130.49 474.94L126.59 471.04Z" fill="none" stroke="#000080" stroke-width="1.2"/><path d="M132.72 464.03L136.62 467.93L132.72 471.83L128.82 467.93Z" fill="none" stroke="#000080" stroke-width="1.2"/><path d="M129.33 466.08L133.23 469.98L129.33 473.88L125.43 469.98Z" fill="none" stroke="#000080" stroke-width="1.2"/><path d="M104.26 483.95L108.16 487.85L104.26 491.75L100.36 487.85Z" fill="none" stroke="#000080" stroke-width="1.2"/><path d="M110.02 481.49L113.92 485.39L110.02 489.29L106.12 485.39Z" fill="none" stroke="#000080" stroke-width="1.2"/><path d="M115.87 477.11L119.77 481.01L115.87 484.91L111.97 481.01Z" fill="none" stroke="#000080" stroke-width="1.2"/><path d="M111.84 480.31L115.74 484.21L111.84 488.11L107.94 484.21Z" fill="none" stroke="#000080" stroke-width="1.2"/><path d="M115.66 478.32L119.56 482.22L115.66 486.12L111.76 482.22Z" fill="none" stroke="#000080" stroke-width="1.2"/><path d="M129.46 468.75L133.36 472.65L129.46 476.55L125.56 472.65Z" fill="none" stroke="#000080" stroke-width="1.2"/><path d="M124.97 470.61L128.87 474.51L124.97 478.41L121.07 474.51Z" fill="none" stroke="#000080" stroke-width="1.2"/><path d="M119.50 478.13L123.40 482.03L119.50 485.93L115.60 482.03Z" fill="none" stroke="#000080" stroke-width="1.2"/><path d="M128.32 468.52L132.22 472.42L128.32 476.32L124.42 472.42Z" fill="none" stroke="#000080" stroke-width="1.2"/><path d="M121.45 471.73L125.35 475.63L121.45 479.53L117.55 475.63Z" fill="none" stroke="#000080" stroke-width="1.2"/><path d="M109.53 481.97L113.43 485.87L109.53 489.77L105.63 485.87Z" fill="none" stroke="#000080" stroke-width="1.2"/><path d="M113.05 478.45L116.95 482.35L113.05 486.25L109.15 482.35Z" fill="none" stroke="#000080" stroke-width="1.2"/><path d="M125.77 470.83L129.67 474.73L125.77 478.63L121.87 474.73Z" fill="none" stroke="#000080" stroke-width="1.2"/><path d="M157.87 448.25L161.77 452.15L157.87 456.05L153.97 452.15Z" fill="none" stroke="#000080" stroke-width="1.2"/><path d="M155.11 448.91L159.01 452.81L155.11 456.71L151.21 452.81Z" fill="none" stroke="#000080" stroke-width="1.2"/><path d="M139.12 459.93L143.02 463.83L139.12 467.73L135.22 463.83Z" fill="none" stroke="#000080" stroke-width="1.2"/><path d="M140.03 458.16L143.93 462.06L140.03 465.96L136.13 462.06Z" fill="none" stroke="#000080" stroke-width="1.2"/><path d="M155.35 451.15L159.25 455.05L155.35 458.95L151.45 455.05Z" fill="none" stroke="#000080" stroke-width="1.2"/><path d="M139.50 461.40L143.40 465.30L139.50 469.20L135.60 465.30Z" fill="none" stroke="#000080" stroke-width="1.2"/><path d="M145.32 458.37L149.22 462.27L145.32 466.17L141.42 462.27Z" fill="none" stroke="#000080" stroke-width="1.2"/><path d="M147.76 454.44L151.66 458.34L147.76 462.24L143.86 458.34Z" fill="none" stroke="#000080" stroke-width="1.2"/><path d="M153.71 450.18L157.61 454.08L153.71 457.98L149.81 454.08Z" fill="none" stroke="#000080" stroke-width="1.2"/><path d="M145.45 457.75L149.35 461.65L145.45 465.55L141.55 461.65Z" fill="none" stroke="#000080" stroke-width="1.2"/><path d="M145.18 459.79L149.08 463.69L145.18 467.59L141.28 463.69Z" fill="none" stroke="#000080" stroke-width="1.2"/><path d="M151.23 452.61L155.13 456.51L151.23 460.41L147.33 456.51Z" fill="none" stroke="#000080" stroke-width="1.2"/><path d="M136.27 461.67L140.17 465.57L136.27 469.47L132.37 465.57Z" fill="none" stroke="#000080" stroke-width="1.2"/><path d="M138.32 463.52L142.22 467.42L138.32 471.32L134.42 467.42Z" fill="none" stroke="#000080" stroke-width="1.2"/><path d="M147.71 456.29L151.61 460.19L147.71 464.09L143.81 460.19Z" fill="none" stroke="#000080" stroke-width="1.2"/><path d="M139.53 458.80L143.43 462.70L139.53 466.60L135.63 462.70Z" fill="none" stroke="#000080" stroke-width="1.2"/><path d="M156.89 448.01L160.79 451.91L156.89 455.81L152.99 451.91Z" fill="none" stroke="#000080" stroke-width="1.2"/><path d="M139.14 462.53L143.04 466.43L139.14 470.33L135.24 466.43Z" fill="none" stroke="#000080" stroke-width="1.2"/><path d="M158.84 447.18L162.74 451.08L158.84 454.98L154.94 451.08Z" fill="none" stroke="#000080" stroke-width="1.2"/><path d="M140.44 455.02L144.34 458.92L140.44 462.82L136.54 458.92Z" fill="none" stroke="#000080" stroke-width="1.2"/><path d="M150.46 454.49L154.36 458.39L150.46 462.29L146.56 458.39Z" fill="none" stroke="#000080" stroke-width="1.2"/><path d="M149.28 454.84L153.18 458.74L149.28 462.64L145.38 458.74Z" fill="none" stroke="#000080" stroke-width="1.2"/><path d="M143.51 455.79L147.41 459.69L143.51 463.59L139.61 459.69Z" fill="none" stroke="#000080" stroke-width="1.2"/><path d="M138.73 464.04L142.63 467.94L138.73 471.84L134.83 467.94Z" fill="none" stroke="#000080" stroke-width="1.2"/><path d="M139.00 457.15L142.90 461.05L139.00 464.95L135.10 461.05Z" fill="none" stroke="#000080" stroke-width="1.2"/><path d="M148.90 453.93L152.80 457.83L148.90 461.73L145.00 457.83Z" fill="none" stroke="#000080" stroke-width="1.2"/><path d="M157.03 450.84L160.93 454.74L157.03 458.64L153.13 454.74Z" fill="none" stroke="#000080" stroke-width="1.2"/><path d="M138.70 459.33L142.60 463.23L138.70 467.13L134.80 463.23Z" fill="none" stroke="#000080" stroke-width="1.2"/><path d="M142.57 458.97L146.47 462.87L142.57 466.77L138.67 462.87Z" fill="none" stroke="#000080" stroke-width="1.2"/><path d="M155.20 452.36L159.10 456.26L155.20 460.16L151.30 456.26Z" fill="none" stroke="#000080" stroke-width="1.2"/><path d="M148.61 455.67L152.51 459.57L148.61 463.47L144.71 459.57Z" fill="none" stroke="#000080" stroke-width="1.2"/><path d="M158.84 448.24L162.74 452.14L158.84 456.04L154.94 452.14Z" fill="none" stroke="#000080" stroke-width="1.2"/><path d="M151.18 451.71L155.08 455.61L151.18 459.51L147.28 455.61Z" fill="none" stroke="#000080" stroke-width="1.2"/><path d="M144.74 454.97L148.64 458.87L144.74 462.77L140.84 458.87Z" fill="none" stroke="#000080" stroke-width="1.2"/><path d="M154.57 451.25L158.47 455.15L154.57 459.05L150.67 455.15Z" fill="none" stroke="#000080" stroke-width="1.2"/><path d="M139.17 462.71L143.07 466.61L139.17 470.51L135.27 466.61Z" fill="none" stroke="#000080" stroke-width="1.2"/><path d="M149.11 453.10L153.01 457.00L149.11 460.90L145.21 457.00Z" fill="none" stroke="#000080" stroke-width="1.2"/><path d="M149.08 454.21L152.98 458.11L149.08 462.01L145.18 458.11Z" fill="none" stroke="#000080" stroke-width="1.2"/><path d="M150.80 452.79L154.70 456.69L150.80 460.59L146.90 456.69Z" fill="none" stroke="#000080" stroke-width="1.2"/><path d="M158.20 447.48L162.10 451.38L158.20 455.28L154.30 451.38Z" fill="none" stroke="#000080" stroke-width="1.2"/><path d="M146.79 454.15L150.69 458.05L146.79 461.95L142.89 458.05Z" fill="none" stroke="#000080" stroke-width="1.2"/><path d="M153.51 449.68L157.41 453.58L153.51 457.48L149.61 453.58Z" fill="none" stroke="#000080" stroke-width="1.2"/><path d="M147.16 458.97L151.06 462.87L147.16 466.77L143.26 462.87Z" fill="none" stroke="#000080" stroke-width="1.2"/><path d="M145.37 454.17L149.27 458.07L145.37 461.97L141.47 458.07Z" fill="none" stroke="#000080" stroke-width="1.2"/><path d="M149.03 450.54L152.93 454.44L149.03 458.34L145.13 454.44Z" fill="none" stroke="#000080" stroke-width="1.2"/><path d="M145.91 455.85L149.81 459.75L145.91 463.65L142.01 459.75Z" fill="none" stroke="#000080" stroke-width="1.2"/><path d="M143.31 457.70L147.21 461.60L143.31 465.50L139.41 461.60Z" fill="none" stroke="#000080" stroke-width="1.2"/><path d="M152.90 448.41L156.80 452.31L152.90 456.21L149.00 452.31Z" fill="none" stroke="#000080" stroke-width="1.2"/><path d="M153.36 450.99L157.26 454.89L153.36 458.79L149.46 454.89Z" fill="none" stroke="#000080" stroke-width="1.2"/><path d="M138.74 460.95L142.64 464.85L138.74 468.75L134.84 464.85Z" fill="none" stroke="#000080" stroke-width="1.2"/><path d="M147.55 457.73L151.45 461.63L147.55 465.53L143.65 461.63Z" fill="none" stroke="#000080" stroke-width="1.2"/><path d="M148.10 455.81L152.00 459.71L148.10 463.61L144.20 459.71Z" fill="none" stroke="#000080" stroke-width="1.2"/><path d="M142.98 458.51L146.88 462.41L142.98 466.31L139.08 462.41Z" fill="none" stroke="#000080" stroke-width="1.2"/><path d="M157.08 450.22L160.98 454.12L157.08 458.02L153.18 454.12Z" fill="none" stroke="#000080" stroke-width="1.2"/><path d="M151.36 447.74L155.26 451.64L151.36 455.54L147.46 451.64Z" fill="none" stroke="#000080" stroke-width="1.2"/><path d="M141.01 461.15L144.91 465.05L141.01 468.95L137.11 465.05Z" fill="none" stroke="#000080" stroke-width="1.2"/><path d="M149.05 459.02L152.95 462.92L149.05 466.82L145.15 462.92Z" fill="none" stroke="#000080" stroke-width="1.2"/><path d="M138.73 462.95L142.63 466.85L138.73 470.75L134.83 466.85Z" fill="none" stroke="#000080" stroke-width="1.2"/><path d="M158.00 448.45L161.90 452.35L158.00 456.25L154.10 452.35Z" fill="none" stroke="#000080" stroke-width="1.2"/><path d="M143.41 459.52L147.31 463.42L143.41 467.32L139.51 463.42Z" fill="none" stroke="#000080" stroke-width="1.2"/><path d="M178.19 433.68L182.09 437.58L178.19 441.48L174.29 437.58Z" fill="none" stroke="#000080" stroke-width="1.2"/><path d="M171.60 440.20L175.50 444.10L171.60 448.00L167.70 444.10Z" fill="none" stroke="#000080" stroke-width="1.2"/><path d="M159.81 445.85L163.71 449.75L159.81 453.65L155.91 449.75Z" fill="none" stroke="#000080" stroke-width="1.2"/><path d="M179.02 437.85L182.92 441.75L179.02 445.65L175.12 441.75Z" fill="none" stroke="#000080" stroke-width="1.2"/><path d="M169.20 439.88L173.10 443.78L169.20 447.68L165.30 443.78Z" fill="none" stroke="#000080" stroke-width="1.2"/><path d="M178.23 438.34L182.13 442.24L178.23 446.14L174.33 442.24Z" fill="none" stroke="#000080" stroke-width="1.2"/><path d="M176.98 434.73L180.88 438.63L176.98 442.53L173.08 438.63Z" fill="none" stroke="#000080" stroke-width="1.2"/><path d="M177.87 435.44L181.77 439.34L177.87 443.24L173.97 439.34Z" fill="none" stroke="#000080" stroke-width="1.2"/><path d="M163.44 445.94L167.34 449.84L163.44 453.74L159.54 449.84Z" fill="none" stroke="#000080" stroke-width="1.2"/><path d="M160.21 450.00L164.11 453.90L160.21 457.80L156.31 453.90Z" fill="none" stroke="#000080" stroke-width="1.2"/><path d="M174.59 439.92L178.49 443.82L174.59 447.72L170.69 443.82Z" fill="none" stroke="#000080" stroke-width="1.2"/><path d="M174.32 435.57L178.22 439.47L174.32 443.37L170.42 439.47Z" fill="none" stroke="#000080" stroke-width="1.2"/><path d="M173.96 436.49L177.86 440.39L173.96 444.29L170.06 440.39Z" fill="none" stroke="#000080" stroke-width="1.2"/><path d="M163.90 444.67L167.80 448.57L163.90 452.47L160.00 448.57Z" fill="none" stroke="#000080" stroke-width="1.2"/><path d="M174.27 438.00L178.17 441.90L174.27 445.80L170.37 441.90Z" fill="none" stroke="#000080" stroke-width="1.2"/><path d="M173.29 439.23L177.19 443.13L173.29 447.03L169.39 443.13Z" fill="none" stroke="#000080" stroke-width="1.2"/><path d="M167.07 443.93L170.97 447.83L167.07 451.73L163.17 447.83Z" fill="none" stroke="#000080" stroke-width="1.2"/><path d="M164.02 442.95L167.92 446.85L164.02 450.75L160.12 446.85Z" fill="none" stroke="#000080" stroke-width="1.2"/><path d="M178.87 434.05L182.77 437.95L178.87 441.85L174.97 437.95Z" fill="none" stroke="#000080" stroke-width="1.2"/><path d="M161.06 450.87L164.96 454.77L161.06 458.67L157.16 454.77Z" fill="none" stroke="#000080" stroke-width="1.2"/><path d="M168.52 440.88L172.42 444.78L168.52 448.68L164.62 444.78Z" fill="none" stroke="#000080" stroke-width="1.2"/><path d="M171.91 439.00L175.81 442.90L171.91 446.80L168.01 442.90Z" fill="none" stroke="#000080" stroke-width="1.2"/><path d="M164.48 445.18L168.38 449.08L164.48 452.98L160.58 449.08Z" fill="none" stroke="#000080" stroke-width="1.2"/><path d="M175.23 437.55L179.13 441.45L175.23 445.35L171.33 441.45Z" fill="none" stroke="#000080" stroke-width="1.2"/><path d="M165.09 444.99L168.99 448.89L165.09 452.79L161.19 448.89Z" fill="none" stroke="#000080" stroke-width="1.2"/><path d="M180.16 436.71L184.06 440.61L180.16 444.51L176.26 440.61Z" fill="none" stroke="#000080" stroke-width="1.2"/><path d="M168.97 438.29L172.87 442.19L168.97 446.09L165.07 442.19Z" fill="none" stroke="#000080" stroke-width="1.2"/><path d="M169.78 442.96L173.68 446.86L169.78 450.76L165.88 446.86Z" fill="none" stroke="#000080" stroke-width="1.2"/><path d="M545.30 438.35L549.20 442.25L545.30 446.15L541.40 442.25Z" fill="none" stroke="#000080" stroke-width="1.2"/><path d="M550.70 445.74L554.60 449.64L550.70 453.54L546.80 449.64Z" fill="none" stroke="#000080" stroke-width="1.2"/><path d="M562.80 442.74L566.70 446.64L562.80 450.54L558.90 446.64Z" fill="none" stroke="#000080" stroke-width="1.2"/><path d="M542.30 447.43L546.20 451.33L542.30 455.23L538.40 451.33Z" fill="none" stroke="#000080" stroke-width="1.2"/><path d="M594.30 451.43L598.20 455.33L594.30 459.23L590.40 455.33Z" fill="none" stroke="#000080" stroke-width="1.2"/><path d="M595.00 452.63L598.90 456.53L595.00 460.43L591.10 456.53Z" fill="none" stroke="#000080" stroke-width="1.2"/><path d="M603.70 459.91L607.60 463.81L603.70 467.71L599.80 463.81Z" fill="none" stroke="#000080" stroke-width="1.2"/><path d="M614.20 465.70L618.10 469.60L614.20 473.50L610.30 469.60Z" fill="none" stroke="#000080" stroke-width="1.2"/><path d="M446.10 429.07L450.00 432.97L446.10 436.87L442.20 432.97Z" fill="none" stroke="#000080" stroke-width="1.2"/><path d="M454.30 427.97L458.20 431.87L454.30 435.77L450.40 431.87Z" fill="none" stroke="#000080" stroke-width="1.2"/><path d="M435.00 430.86L438.90 434.76L435.00 438.66L431.10 434.76Z" fill="none" stroke="#000080" stroke-width="1.2"/><path d="M424.00 432.66L427.90 436.56L424.00 440.46L420.10 436.56Z" fill="none" stroke="#000080" stroke-width="1.2"/><path d="M473.00 431.46L476.90 435.36L473.00 439.26L469.10 435.36Z" fill="none" stroke="#000080" stroke-width="1.2"/><path d="M470.70 454.52L474.60 458.42L470.70 462.32L466.80 458.42Z" fill="none" stroke="#000080" stroke-width="1.2"/><path d="M450.80 449.53L454.70 453.43L450.80 457.33L446.90 453.43Z" fill="none" stroke="#000080" stroke-width="1.2"/><path d="M464.80 449.53L468.70 453.43L464.80 457.33L460.90 453.43Z" fill="none" stroke="#000080" stroke-width="1.2"/><path d="M456.00 448.93L459.90 452.83L456.00 456.73L452.10 452.83Z" fill="none" stroke="#000080" stroke-width="1.2"/><path d="M428.60 443.34L432.50 447.24L428.60 451.14L424.70 447.24Z" fill="none" stroke="#000080" stroke-width="1.2"/><path d="M488.70 422.38L492.60 426.28L488.70 430.18L484.80 426.28Z" fill="none" stroke="#000080" stroke-width="1.2"/><path d="M506.20 428.77L510.10 432.67L506.20 436.57L502.30 432.67Z" fill="none" stroke="#000080" stroke-width="1.2"/><path d="M493.40 429.96L497.30 433.86L493.40 437.76L489.50 433.86Z" fill="none" stroke="#000080" stroke-width="1.2"/><path d="M505.60 452.13L509.50 456.03L505.60 459.93L501.70 456.03Z" fill="none" stroke="#000080" stroke-width="1.2"/><path d="M521.40 452.73L525.30 456.63L521.40 460.53L517.50 456.63Z" fill="none" stroke="#000080" stroke-width="1.2"/><path d="M526.00 452.13L529.90 456.03L526.00 459.93L522.10 456.03Z" fill="none" stroke="#000080" stroke-width="1.2"/><path d="M417.68 441.64L421.58 445.54L417.68 449.44L413.78 445.54Z" fill="none" stroke="#000080" stroke-width="1.2"/><path d="M418.93 438.93L422.83 442.83L418.93 446.73L415.03 442.83Z" fill="none" stroke="#000080" stroke-width="1.2"/><path d="M411.65 437.66L415.55 441.56L411.65 445.46L407.75 441.56Z" fill="none" stroke="#000080" stroke-width="1.2"/><path d="M409.62 437.52L413.52 441.42L409.62 445.32L405.72 441.42Z" fill="none" stroke="#000080" stroke-width="1.2"/><path d="M409.54 439.66L413.44 443.56L409.54 447.46L405.64 443.56Z" fill="none" stroke="#000080" stroke-width="1.2"/><path d="M429.60 438.86L433.50 442.76L429.60 446.66L425.70 442.76Z" fill="none" stroke="#000080" stroke-width="1.2"/><path d="M422.21 440.02L426.11 443.92L422.21 447.82L418.31 443.92Z" fill="none" stroke="#000080" stroke-width="1.2"/><path d="M419.39 440.11L423.29 444.01L419.39 447.91L415.49 444.01Z" fill="none" stroke="#000080" stroke-width="1.2"/><path d="M411.78 441.82L415.68 445.72L411.78 449.62L407.88 445.72Z" fill="none" stroke="#000080" stroke-width="1.2"/><path d="M417.41 440.22L421.31 444.12L417.41 448.02L413.51 444.12Z" fill="none" stroke="#000080" stroke-width="1.2"/><path d="M419.18 437.20L423.08 441.10L419.18 445.00L415.28 441.10Z" fill="none" stroke="#000080" stroke-width="1.2"/><path d="M417.79 439.85L421.69 443.75L417.79 447.65L413.89 443.75Z" fill="none" stroke="#000080" stroke-width="1.2"/><path d="M429.95 442.87L433.85 446.77L429.95 450.67L426.05 446.77Z" fill="none" stroke="#000080" stroke-width="1.2"/><path d="M414.59 437.47L418.49 441.37L414.59 445.27L410.69 441.37Z" fill="none" stroke="#000080" stroke-width="1.2"/><path d="M414.00 440.03L417.90 443.93L414.00 447.83L410.10 443.93Z" fill="none" stroke="#000080" stroke-width="1.2"/><path d="M426.55 438.04L430.45 441.94L426.55 445.84L422.65 441.94Z" fill="none" stroke="#000080" stroke-width="1.2"/><path d="M429.06 441.08L432.96 444.98L429.06 448.88L425.16 444.98Z" fill="none" stroke="#000080" stroke-width="1.2"/><path d="M427.98 439.85L431.88 443.75L427.98 447.65L424.08 443.75Z" fill="none" stroke="#000080" stroke-width="1.2"/><path d="M429.56 442.12L433.46 446.02L429.56 449.92L425.66 446.02Z" fill="none" stroke="#000080" stroke-width="1.2"/><path d="M425.02 440.97L428.92 444.87L425.02 448.77L421.12 444.87Z" fill="none" stroke="#000080" stroke-width="1.2"/><path d="M409.46 442.80L413.36 446.70L409.46 450.60L405.56 446.70Z" fill="none" stroke="#000080" stroke-width="1.2"/><path d="M410.15 439.17L414.05 443.07L410.15 446.97L406.25 443.07Z" fill="none" stroke="#000080" stroke-width="1.2"/><path d="M433.03 440.32L436.93 444.22L433.03 448.12L429.13 444.22Z" fill="none" stroke="#000080" stroke-width="1.2"/><path d="M446.78 438.29L450.68 442.19L446.78 446.09L442.88 442.19Z" fill="none" stroke="#000080" stroke-width="1.2"/><path d="M435.72 442.38L439.62 446.28L435.72 450.18L431.82 446.28Z" fill="none" stroke="#000080" stroke-width="1.2"/><path d="M433.50 442.58L437.40 446.48L433.50 450.38L429.60 446.48Z" fill="none" stroke="#000080" stroke-width="1.2"/><path d="M436.39 444.45L440.29 448.35L436.39 452.25L432.49 448.35Z" fill="none" stroke="#000080" stroke-width="1.2"/><path d="M439.12 438.15L443.02 442.05L439.12 445.95L435.22 442.05Z" fill="none" stroke="#000080" stroke-width="1.2"/><path d="M436.32 442.12L440.22 446.02L436.32 449.92L432.42 446.02Z" fill="none" stroke="#000080" stroke-width="1.2"/><path d="M433.01 433.95L436.91 437.85L433.01 441.75L429.11 437.85Z" fill="none" stroke="#000080" stroke-width="1.2"/><path d="M436.40 440.18L440.30 444.08L436.40 447.98L432.50 444.08Z" fill="none" stroke="#000080" stroke-width="1.2"/><path d="M438.89 437.55L442.79 441.45L438.89 445.35L434.99 441.45Z" fill="none" stroke="#000080" stroke-width="1.2"/><path d="M432.70 440.00L436.60 443.90L432.70 447.80L428.80 443.90Z" fill="none" stroke="#000080" stroke-width="1.2"/><path d="M441.15 443.36L445.05 447.26L441.15 451.16L437.25 447.26Z" fill="none" stroke="#000080" stroke-width="1.2"/><path d="M458.77 435.20L462.67 439.10L458.77 443.00L454.87 439.10Z" fill="none" stroke="#000080" stroke-width="1.2"/><path d="M435.48 437.50L439.38 441.40L435.48 445.30L431.58 441.40Z" fill="none" stroke="#000080" stroke-width="1.2"/><path d="M457.25 439.85L461.15 443.75L457.25 447.65L453.35 443.75Z" fill="none" stroke="#000080" stroke-width="1.2"/><path d="M452.18 443.22L456.08 447.12L452.18 451.02L448.28 447.12Z" fill="none" stroke="#000080" stroke-width="1.2"/><path d="M435.90 445.06L439.80 448.96L435.90 452.86L432.00 448.96Z" fill="none" stroke="#000080" stroke-width="1.2"/><path d="M442.64 437.47L446.54 441.37L442.64 445.27L438.74 441.37Z" fill="none" stroke="#000080" stroke-width="1.2"/><path d="M431.16 440.44L435.06 444.34L431.16 448.24L427.26 444.34Z" fill="none" stroke="#000080" stroke-width="1.2"/><path d="M437.71 443.89L441.61 447.79L437.71 451.69L433.81 447.79Z" fill="none" stroke="#000080" stroke-width="1.2"/><path d="M447.89 441.72L451.79 445.62L447.89 449.52L443.99 445.62Z" fill="none" stroke="#000080" stroke-width="1.2"/><path d="M432.06 443.54L435.96 447.44L432.06 451.34L428.16 447.44Z" fill="none" stroke="#000080" stroke-width="1.2"/><path d="M446.78 436.68L450.68 440.58L446.78 444.48L442.88 440.58Z" fill="none" stroke="#000080" stroke-width="1.2"/><path d="M457.52 438.46L461.42 442.36L457.52 446.26L453.62 442.36Z" fill="none" stroke="#000080" stroke-width="1.2"/><path d="M430.50 438.98L434.40 442.88L430.50 446.78L426.60 442.88Z" fill="none" stroke="#000080" stroke-width="1.2"/><path d="M435.29 440.15L439.19 444.05L435.29 447.95L431.39 444.05Z" fill="none" stroke="#000080" stroke-width="1.2"/><path d="M447.17 436.31L451.07 440.21L447.17 444.11L443.27 440.21Z" fill="none" stroke="#000080" stroke-width="1.2"/><path d="M459.41 444.01L463.31 447.91L459.41 451.81L455.51 447.91Z" fill="none" stroke="#000080" stroke-width="1.2"/><path d="M450.74 440.29L454.64 444.19L450.74 448.09L446.84 444.19Z" fill="none" stroke="#000080" stroke-width="1.2"/><path d="M430.54 440.92L434.44 444.82L430.54 448.72L426.64 444.82Z" fill="none" stroke="#000080" stroke-width="1.2"/><path d="M451.03 447.16L454.93 451.06L451.03 454.96L447.13 451.06Z" fill="none" stroke="#000080" stroke-width="1.2"/><path d="M444.47 440.34L448.37 444.24L444.47 448.14L440.57 444.24Z" fill="none" stroke="#000080" stroke-width="1.2"/><path d="M439.57 445.66L443.47 449.56L439.57 453.46L435.67 449.56Z" fill="none" stroke="#000080" stroke-width="1.2"/><path d="M452.11 442.82L456.01 446.72L452.11 450.62L448.21 446.72Z" fill="none" stroke="#000080" stroke-width="1.2"/><path d="M452.11 441.40L456.01 445.30L452.11 449.20L448.21 445.30Z" fill="none" stroke="#000080" stroke-width="1.2"/><path d="M440.56 434.30L444.46 438.20L440.56 442.10L436.66 438.20Z" fill="none" stroke="#000080" stroke-width="1.2"/><path d="M457.03 431.88L460.93 435.78L457.03 439.68L453.13 435.78Z" fill="none" stroke="#000080" stroke-width="1.2"/><path d="M455.90 442.13L459.80 446.03L455.90 449.93L452.00 446.03Z" fill="none" stroke="#000080" stroke-width="1.2"/><path d="M448.75 436.76L452.65 440.66L448.75 444.56L444.85 440.66Z" fill="none" stroke="#000080" stroke-width="1.2"/><path d="M432.41 438.08L436.31 441.98L432.41 445.88L428.51 441.98Z" fill="none" stroke="#000080" stroke-width="1.2"/><path d="M459.80 439.14L463.70 443.04L459.80 446.94L455.90 443.04Z" fill="none" stroke="#000080" stroke-width="1.2"/><path d="M452.05 437.30L455.95 441.20L452.05 445.10L448.15 441.20Z" fill="none" stroke="#000080" stroke-width="1.2"/><path d="M443.22 443.59L447.12 447.49L443.22 451.39L439.32 447.49Z" fill="none" stroke="#000080" stroke-width="1.2"/><path d="M430.89 442.02L434.79 445.92L430.89 449.82L426.99 445.92Z" fill="none" stroke="#000080" stroke-width="1.2"/><path d="M444.43 438.88L448.33 442.78L444.43 446.68L440.53 442.78Z" fill="none" stroke="#000080" stroke-width="1.2"/><path d="M448.44 434.08L452.34 437.98L448.44 441.88L444.54 437.98Z" fill="none" stroke="#000080" stroke-width="1.2"/><path d="M437.67 438.62L441.57 442.52L437.67 446.42L433.77 442.52Z" fill="none" stroke="#000080" stroke-width="1.2"/><path d="M436.08 443.56L439.98 447.46L436.08 451.36L432.18 447.46Z" fill="none" stroke="#000080" stroke-width="1.2"/><path d="M457.17 434.73L461.07 438.63L457.17 442.53L453.27 438.63Z" fill="none" stroke="#000080" stroke-width="1.2"/><path d="M439.81 441.80L443.71 445.70L439.81 449.60L435.91 445.70Z" fill="none" stroke="#000080" stroke-width="1.2"/><path d="M435.96 441.83L439.86 445.73L435.96 449.63L432.06 445.73Z" fill="none" stroke="#000080" stroke-width="1.2"/><path d="M456.41 434.45L460.31 438.35L456.41 442.25L452.51 438.35Z" fill="none" stroke="#000080" stroke-width="1.2"/><path d="M447.49 441.84L451.39 445.74L447.49 449.64L443.59 445.74Z" fill="none" stroke="#000080" stroke-width="1.2"/><path d="M455.11 442.14L459.01 446.04L455.11 449.94L451.21 446.04Z" fill="none" stroke="#000080" stroke-width="1.2"/><path d="M451.34 439.32L455.24 443.22L451.34 447.12L447.44 443.22Z" fill="none" stroke="#000080" stroke-width="1.2"/><path d="M443.52 441.41L447.42 445.31L443.52 449.21L439.62 445.31Z" fill="none" stroke="#000080" stroke-width="1.2"/><path d="M436.42 437.72L440.32 441.62L436.42 445.52L432.52 441.62Z" fill="none" stroke="#000080" stroke-width="1.2"/><path d="M439.46 437.70L443.36 441.60L439.46 445.50L435.56 441.60Z" fill="none" stroke="#000080" stroke-width="1.2"/><path d="M459.46 440.43L463.36 444.33L459.46 448.23L455.56 444.33Z" fill="none" stroke="#000080" stroke-width="1.2"/><path d="M456.18 440.14L460.08 444.04L456.18 447.94L452.28 444.04Z" fill="none" stroke="#000080" stroke-width="1.2"/><path d="M486.22 438.31L490.12 442.21L486.22 446.11L482.32 442.21Z" fill="none" stroke="#000080" stroke-width="1.2"/><path d="M460.71 443.80L464.61 447.70L460.71 451.60L456.81 447.70Z" fill="none" stroke="#000080" stroke-width="1.2"/><path d="M476.83 440.69L480.73 444.59L476.83 448.49L472.93 444.59Z" fill="none" stroke="#000080" stroke-width="1.2"/><path d="M465.21 438.30L469.11 442.20L465.21 446.10L461.31 442.20Z" fill="none" stroke="#000080" stroke-width="1.2"/><path d="M483.28 437.45L487.18 441.35L483.28 445.25L479.38 441.35Z" fill="none" stroke="#000080" stroke-width="1.2"/><path d="M489.87 434.75L493.77 438.65L489.87 442.55L485.97 438.65Z" fill="none" stroke="#000080" stroke-width="1.2"/><path d="M485.33 438.36L489.23 442.26L485.33 446.16L481.43 442.26Z" fill="none" stroke="#000080" stroke-width="1.2"/><path d="M460.40 440.08L464.30 443.98L460.40 447.88L456.50 443.98Z" fill="none" stroke="#000080" stroke-width="1.2"/><path d="M486.42 439.54L490.32 443.44L486.42 447.34L482.52 443.44Z" fill="none" stroke="#000080" stroke-width="1.2"/><path d="M485.80 442.03L489.70 445.93L485.80 449.83L481.90 445.93Z" fill="none" stroke="#000080" stroke-width="1.2"/><path d="M482.73 436.52L486.63 440.42L482.73 444.32L478.83 440.42Z" fill="none" stroke="#000080" stroke-width="1.2"/><path d="M493.53 442.48L497.43 446.38L493.53 450.28L489.63 446.38Z" fill="none" stroke="#000080" stroke-width="1.2"/><path d="M494.51 441.65L498.41 445.55L494.51 449.45L490.61 445.55Z" fill="none" stroke="#000080" stroke-width="1.2"/><path d="M483.15 443.69L487.05 447.59L483.15 451.49L479.25 447.59Z" fill="none" stroke="#000080" stroke-width="1.2"/><path d="M473.94 442.95L477.84 446.85L473.94 450.75L470.04 446.85Z" fill="none" stroke="#000080" stroke-width="1.2"/><path d="M494.94 436.91L498.84 440.81L494.94 444.71L491.04 440.81Z" fill="none" stroke="#000080" stroke-width="1.2"/><path d="M484.10 439.07L488.00 442.97L484.10 446.87L480.20 442.97Z" fill="none" stroke="#000080" stroke-width="1.2"/><path d="M483.74 435.49L487.64 439.39L483.74 443.29L479.84 439.39Z" fill="none" stroke="#000080" stroke-width="1.2"/><path d="M467.89 450.23L471.79 454.13L467.89 458.03L463.99 454.13Z" fill="none" stroke="#000080" stroke-width="1.2"/><path d="M479.87 439.04L483.77 442.94L479.87 446.84L475.97 442.94Z" fill="none" stroke="#000080" stroke-width="1.2"/><path d="M471.85 442.58L475.75 446.48L471.85 450.38L467.95 446.48Z" fill="none" stroke="#000080" stroke-width="1.2"/><path d="M463.06 438.10L466.96 442.00L463.06 445.90L459.16 442.00Z" fill="none" stroke="#000080" stroke-width="1.2"/><path d="M480.36 439.27L484.26 443.17L480.36 447.07L476.46 443.17Z" fill="none" stroke="#000080" stroke-width="1.2"/><path d="M489.94 439.89L493.84 443.79L489.94 447.69L486.04 443.79Z" fill="none" stroke="#000080" stroke-width="1.2"/><path d="M489.59 437.70L493.49 441.60L489.59 445.50L485.69 441.60Z" fill="none" stroke="#000080" stroke-width="1.2"/><path d="M465.20 443.48L469.10 447.38L465.20 451.28L461.30 447.38Z" fill="none" stroke="#000080" stroke-width="1.2"/><path d="M479.11 441.81L483.01 445.71L479.11 449.61L475.21 445.71Z" fill="none" stroke="#000080" stroke-width="1.2"/><path d="M494.99 436.75L498.89 440.65L494.99 444.55L491.09 440.65Z" fill="none" stroke="#000080" stroke-width="1.2"/><path d="M495.12 440.37L499.02 444.27L495.12 448.17L491.22 444.27Z" fill="none" stroke="#000080" stroke-width="1.2"/><path d="M470.74 442.73L474.64 446.63L470.74 450.53L466.84 446.63Z" fill="none" stroke="#000080" stroke-width="1.2"/><path d="M483.64 441.55L487.54 445.45L483.64 449.35L479.74 445.45Z" fill="none" stroke="#000080" stroke-width="1.2"/><path d="M471.53 437.29L475.43 441.19L471.53 445.09L467.63 441.19Z" fill="none" stroke="#000080" stroke-width="1.2"/><path d="M491.27 442.27L495.17 446.17L491.27 450.07L487.37 446.17Z" fill="none" stroke="#000080" stroke-width="1.2"/><path d="M495.83 444.36L499.73 448.26L495.83 452.16L491.93 448.26Z" fill="none" stroke="#000080" stroke-width="1.2"/><path d="M481.20 437.09L485.10 440.99L481.20 444.89L477.30 440.99Z" fill="none" stroke="#000080" stroke-width="1.2"/><path d="M482.39 439.21L486.29 443.11L482.39 447.01L478.49 443.11Z" fill="none" stroke="#000080" stroke-width="1.2"/><path d="M495.87 436.35L499.77 440.25L495.87 444.15L491.97 440.25Z" fill="none" stroke="#000080" stroke-width="1.2"/><path d="M480.83 442.37L484.73 446.27L480.83 450.17L476.93 446.27Z" fill="none" stroke="#000080" stroke-width="1.2"/><path d="M485.57 437.44L489.47 441.34L485.57 445.24L481.67 441.34Z" fill="none" stroke="#000080" stroke-width="1.2"/><path d="M495.40 438.65L499.30 442.55L495.40 446.45L491.50 442.55Z" fill="none" stroke="#000080" stroke-width="1.2"/><path d="M469.96 441.63L473.86 445.53L469.96 449.43L466.06 445.53Z" fill="none" stroke="#000080" stroke-width="1.2"/><path d="M490.18 443.51L494.08 447.41L490.18 451.31L486.28 447.41Z" fill="none" stroke="#000080" stroke-width="1.2"/><path d="M477.63 441.04L481.53 444.94L477.63 448.84L473.73 444.94Z" fill="none" stroke="#000080" stroke-width="1.2"/><path d="M494.24 442.95L498.14 446.85L494.24 450.75L490.34 446.85Z" fill="none" stroke="#000080" stroke-width="1.2"/><path d="M488.83 440.44L492.73 444.34L488.83 448.24L484.93 444.34Z" fill="none" stroke="#000080" stroke-width="1.2"/><path d="M485.42 441.46L489.32 445.36L485.42 449.26L481.52 445.36Z" fill="none" stroke="#000080" stroke-width="1.2"/><path d="M473.15 442.92L477.05 446.82L473.15 450.72L469.25 446.82Z" fill="none" stroke="#000080" stroke-width="1.2"/><path d="M464.54 442.22L468.44 446.12L464.54 450.02L460.64 446.12Z" fill="none" stroke="#000080" stroke-width="1.2"/><path d="M469.27 437.33L473.17 441.23L469.27 445.13L465.37 441.23Z" fill="none" stroke="#000080" stroke-width="1.2"/><path d="M473.90 439.36L477.80 443.26L473.90 447.16L470.00 443.26Z" fill="none" stroke="#000080" stroke-width="1.2"/><path d="M479.59 440.81L483.49 444.71L479.59 448.61L475.69 444.71Z" fill="none" stroke="#000080" stroke-width="1.2"/><path d="M483.62 443.09L487.52 446.99L483.62 450.89L479.72 446.99Z" fill="none" stroke="#000080" stroke-width="1.2"/><path d="M491.50 440.93L495.40 444.83L491.50 448.73L487.60 444.83Z" fill="none" stroke="#000080" stroke-width="1.2"/><path d="M487.41 438.48L491.31 442.38L487.41 446.28L483.51 442.38Z" fill="none" stroke="#000080" stroke-width="1.2"/><path d="M493.40 437.69L497.30 441.59L493.40 445.49L489.50 441.59Z" fill="none" stroke="#000080" stroke-width="1.2"/><path d="M468.07 449.80L471.97 453.70L468.07 457.60L464.17 453.70Z" fill="none" stroke="#000080" stroke-width="1.2"/><path d="M492.84 440.11L496.74 444.01L492.84 447.91L488.94 444.01Z" fill="none" stroke="#000080" stroke-width="1.2"/><path d="M469.60 443.70L473.50 447.60L469.60 451.50L465.70 447.60Z" fill="none" stroke="#000080" stroke-width="1.2"/><path d="M490.79 440.16L494.69 444.06L490.79 447.96L486.89 444.06Z" fill="none" stroke="#000080" stroke-width="1.2"/><path d="M474.90 438.64L478.80 442.54L474.90 446.44L471.00 442.54Z" fill="none" stroke="#000080" stroke-width="1.2"/><path d="M460.66 437.67L464.56 441.57L460.66 445.47L456.76 441.57Z" fill="none" stroke="#000080" stroke-width="1.2"/><path d="M495.83 435.04L499.73 438.94L495.83 442.84L491.93 438.94Z" fill="none" stroke="#000080" stroke-width="1.2"/><path d="M478.71 436.20L482.61 440.10L478.71 444.00L474.81 440.10Z" fill="none" stroke="#000080" stroke-width="1.2"/><path d="M466.99 439.78L470.89 443.68L466.99 447.58L463.09 443.68Z" fill="none" stroke="#000080" stroke-width="1.2"/><path d="M463.93 437.12L467.83 441.02L463.93 444.92L460.03 441.02Z" fill="none" stroke="#000080" stroke-width="1.2"/><path d="M481.04 438.93L484.94 442.83L481.04 446.73L477.14 442.83Z" fill="none" stroke="#000080" stroke-width="1.2"/><path d="M466.83 443.76L470.73 447.66L466.83 451.56L462.93 447.66Z" fill="none" stroke="#000080" stroke-width="1.2"/><path d="M494.30 433.69L498.20 437.59L494.30 441.49L490.40 437.59Z" fill="none" stroke="#000080" stroke-width="1.2"/><path d="M462.29 431.93L466.19 435.83L462.29 439.73L458.39 435.83Z" fill="none" stroke="#000080" stroke-width="1.2"/><path d="M472.09 440.81L475.99 444.71L472.09 448.61L468.19 444.71Z" fill="none" stroke="#000080" stroke-width="1.2"/><path d="M479.07 439.53L482.97 443.43L479.07 447.33L475.17 443.43Z" fill="none" stroke="#000080" stroke-width="1.2"/><path d="M485.94 439.62L489.84 443.52L485.94 447.42L482.04 443.52Z" fill="none" stroke="#000080" stroke-width="1.2"/><path d="M466.71 439.68L470.61 443.58L466.71 447.48L462.81 443.58Z" fill="none" stroke="#000080" stroke-width="1.2"/><path d="M467.22 437.41L471.12 441.31L467.22 445.21L463.32 441.31Z" fill="none" stroke="#000080" stroke-width="1.2"/><path d="M478.96 443.22L482.86 447.12L478.96 451.02L475.06 447.12Z" fill="none" stroke="#000080" stroke-width="1.2"/><path d="M486.07 434.49L489.97 438.39L486.07 442.29L482.17 438.39Z" fill="none" stroke="#000080" stroke-width="1.2"/><path d="M483.29 437.55L487.19 441.45L483.29 445.35L479.39 441.45Z" fill="none" stroke="#000080" stroke-width="1.2"/><path d="M496.36 438.18L500.26 442.08L496.36 445.98L492.46 442.08Z" fill="none" stroke="#000080" stroke-width="1.2"/><path d="M469.56 439.56L473.46 443.46L469.56 447.36L465.66 443.46Z" fill="none" stroke="#000080" stroke-width="1.2"/><path d="M490.14 435.69L494.04 439.59L490.14 443.49L486.24 439.59Z" fill="none" stroke="#000080" stroke-width="1.2"/><path d="M493.17 437.07L497.07 440.97L493.17 444.87L489.27 440.97Z" fill="none" stroke="#000080" stroke-width="1.2"/><path d="M488.31 436.00L492.21 439.90L488.31 443.80L484.41 439.90Z" fill="none" stroke="#000080" stroke-width="1.2"/><path d="M486.74 438.38L490.64 442.28L486.74 446.18L482.84 442.28Z" fill="none" stroke="#000080" stroke-width="1.2"/><path d="M460.39 442.11L464.29 446.01L460.39 449.91L456.49 446.01Z" fill="none" stroke="#000080" stroke-width="1.2"/><path d="M483.63 440.49L487.53 444.39L483.63 448.29L479.73 444.39Z" fill="none" stroke="#000080" stroke-width="1.2"/><path d="M484.65 445.58L488.55 449.48L484.65 453.38L480.75 449.48Z" fill="none" stroke="#000080" stroke-width="1.2"/><path d="M484.41 437.52L488.31 441.42L484.41 445.32L480.51 441.42Z" fill="none" stroke="#000080" stroke-width="1.2"/><path d="M497.00 439.36L500.90 443.26L497.00 447.16L493.10 443.26Z" fill="none" stroke="#000080" stroke-width="1.2"/><path d="M485.95 440.36L489.85 444.26L485.95 448.16L482.05 444.26Z" fill="none" stroke="#000080" stroke-width="1.2"/><path d="M482.77 439.78L486.67 443.68L482.77 447.58L478.87 443.68Z" fill="none" stroke="#000080" stroke-width="1.2"/><path d="M469.50 441.35L473.40 445.25L469.50 449.15L465.60 445.25Z" fill="none" stroke="#000080" stroke-width="1.2"/><path d="M473.90 440.34L477.80 444.24L473.90 448.14L470.00 444.24Z" fill="none" stroke="#000080" stroke-width="1.2"/><path d="M469.28 434.42L473.18 438.32L469.28 442.22L465.38 438.32Z" fill="none" stroke="#000080" stroke-width="1.2"/><path d="M495.78 438.97L499.68 442.87L495.78 446.77L491.88 442.87Z" fill="none" stroke="#000080" stroke-width="1.2"/><path d="M496.82 440.20L500.72 444.10L496.82 448.00L492.92 444.10Z" fill="none" stroke="#000080" stroke-width="1.2"/><path d="M482.11 438.96L486.01 442.86L482.11 446.76L478.21 442.86Z" fill="none" stroke="#000080" stroke-width="1.2"/><path d="M461.67 442.75L465.57 446.65L461.67 450.55L457.77 446.65Z" fill="none" stroke="#000080" stroke-width="1.2"/><path d="M466.26 442.13L470.16 446.03L466.26 449.93L462.36 446.03Z" fill="none" stroke="#000080" stroke-width="1.2"/><path d="M482.61 442.20L486.51 446.10L482.61 450.00L478.71 446.10Z" fill="none" stroke="#000080" stroke-width="1.2"/><path d="M479.49 439.00L483.39 442.90L479.49 446.80L475.59 442.90Z" fill="none" stroke="#000080" stroke-width="1.2"/><path d="M473.53 438.12L477.43 442.02L473.53 445.92L469.63 442.02Z" fill="none" stroke="#000080" stroke-width="1.2"/><path d="M470.49 437.30L474.39 441.20L470.49 445.10L466.59 441.20Z" fill="none" stroke="#000080" stroke-width="1.2"/><path d="M470.95 439.87L474.85 443.77L470.95 447.67L467.05 443.77Z" fill="none" stroke="#000080" stroke-width="1.2"/><path d="M465.79 440.56L469.69 444.46L465.79 448.36L461.89 444.46Z" fill="none" stroke="#000080" stroke-width="1.2"/><path d="M474.43 439.83L478.33 443.73L474.43 447.63L470.53 443.73Z" fill="none" stroke="#000080" stroke-width="1.2"/><path d="M496.58 438.31L500.48 442.21L496.58 446.11L492.68 442.21Z" fill="none" stroke="#000080" stroke-width="1.2"/><path d="M462.72 434.91L466.62 438.81L462.72 442.71L458.82 438.81Z" fill="none" stroke="#000080" stroke-width="1.2"/><path d="M496.01 441.02L499.91 444.92L496.01 448.82L492.11 444.92Z" fill="none" stroke="#000080" stroke-width="1.2"/><path d="M479.36 438.93L483.26 442.83L479.36 446.73L475.46 442.83Z" fill="none" stroke="#000080" stroke-width="1.2"/><path d="M496.22 437.19L500.12 441.09L496.22 444.99L492.32 441.09Z" fill="none" stroke="#000080" stroke-width="1.2"/><path d="M482.33 437.97L486.23 441.87L482.33 445.77L478.43 441.87Z" fill="none" stroke="#000080" stroke-width="1.2"/><path d="M467.54 437.99L471.44 441.89L467.54 445.79L463.64 441.89Z" fill="none" stroke="#000080" stroke-width="1.2"/><path d="M479.54 436.52L483.44 440.42L479.54 444.32L475.64 440.42Z" fill="none" stroke="#000080" stroke-width="1.2"/><path d="M476.86 441.10L480.76 445.00L476.86 448.90L472.96 445.00Z" fill="none" stroke="#000080" stroke-width="1.2"/><path d="M481.54 440.36L485.44 444.26L481.54 448.16L477.64 444.26Z" fill="none" stroke="#000080" stroke-width="1.2"/><path d="M496.91 434.04L500.81 437.94L496.91 441.84L493.01 437.94Z" fill="none" stroke="#000080" stroke-width="1.2"/><path d="M487.17 443.67L491.07 447.57L487.17 451.47L483.27 447.57Z" fill="none" stroke="#000080" stroke-width="1.2"/><path d="M489.02 443.17L492.92 447.07L489.02 450.97L485.12 447.07Z" fill="none" stroke="#000080" stroke-width="1.2"/><path d="M473.29 438.62L477.19 442.52L473.29 446.42L469.39 442.52Z" fill="none" stroke="#000080" stroke-width="1.2"/><path d="M481.89 437.01L485.79 440.91L481.89 444.81L477.99 440.91Z" fill="none" stroke="#000080" stroke-width="1.2"/><path d="M487.87 439.89L491.77 443.79L487.87 447.69L483.97 443.79Z" fill="none" stroke="#000080" stroke-width="1.2"/><path d="M493.88 450.23L497.78 454.13L493.88 458.03L489.98 454.13Z" fill="none" stroke="#000080" stroke-width="1.2"/><path d="M461.46 439.52L465.36 443.42L461.46 447.32L457.56 443.42Z" fill="none" stroke="#000080" stroke-width="1.2"/><path d="M483.06 442.35L486.96 446.25L483.06 450.15L479.16 446.25Z" fill="none" stroke="#000080" stroke-width="1.2"/><path d="M480.04 442.93L483.94 446.83L480.04 450.73L476.14 446.83Z" fill="none" stroke="#000080" stroke-width="1.2"/><path d="M480.37 441.71L484.27 445.61L480.37 449.51L476.47 445.61Z" fill="none" stroke="#000080" stroke-width="1.2"/><path d="M473.81 440.39L477.71 444.29L473.81 448.19L469.91 444.29Z" fill="none" stroke="#000080" stroke-width="1.2"/><path d="M487.56 441.98L491.46 445.88L487.56 449.78L483.66 445.88Z" fill="none" stroke="#000080" stroke-width="1.2"/><path d="M462.75 441.06L466.65 444.96L462.75 448.86L458.85 444.96Z" fill="none" stroke="#000080" stroke-width="1.2"/><path d="M488.44 436.73L492.34 440.63L488.44 444.53L484.54 440.63Z" fill="none" stroke="#000080" stroke-width="1.2"/><path d="M475.70 440.69L479.60 444.59L475.70 448.49L471.80 444.59Z" fill="none" stroke="#000080" stroke-width="1.2"/><path d="M484.19 435.57L488.09 439.47L484.19 443.37L480.29 439.47Z" fill="none" stroke="#000080" stroke-width="1.2"/><path d="M472.04 439.72L475.94 443.62L472.04 447.52L468.14 443.62Z" fill="none" stroke="#000080" stroke-width="1.2"/><path d="M475.82 434.45L479.72 438.35L475.82 442.25L471.92 438.35Z" fill="none" stroke="#000080" stroke-width="1.2"/><path d="M463.59 441.60L467.49 445.50L463.59 449.40L459.69 445.50Z" fill="none" stroke="#000080" stroke-width="1.2"/><path d="M480.88 440.32L484.78 444.22L480.88 448.12L476.98 444.22Z" fill="none" stroke="#000080" stroke-width="1.2"/><path d="M485.36 440.00L489.26 443.90L485.36 447.80L481.46 443.90Z" fill="none" stroke="#000080" stroke-width="1.2"/><path d="M467.89 438.91L471.79 442.81L467.89 446.71L463.99 442.81Z" fill="none" stroke="#000080" stroke-width="1.2"/><path d="M463.02 439.27L466.92 443.17L463.02 447.07L459.12 443.17Z" fill="none" stroke="#000080" stroke-width="1.2"/><path d="M470.47 436.21L474.37 440.11L470.47 444.01L466.57 440.11Z" fill="none" stroke="#000080" stroke-width="1.2"/><path d="M473.24 439.05L477.14 442.95L473.24 446.85L469.34 442.95Z" fill="none" stroke="#000080" stroke-width="1.2"/><path d="M486.24 440.74L490.14 444.64L486.24 448.54L482.34 444.64Z" fill="none" stroke="#000080" stroke-width="1.2"/><path d="M493.99 444.25L497.89 448.15L493.99 452.05L490.09 448.15Z" fill="none" stroke="#000080" stroke-width="1.2"/><path d="M489.71 438.52L493.61 442.42L489.71 446.32L485.81 442.42Z" fill="none" stroke="#000080" stroke-width="1.2"/><path d="M471.75 444.51L475.65 448.41L471.75 452.31L467.85 448.41Z" fill="none" stroke="#000080" stroke-width="1.2"/><path d="M469.19 437.82L473.09 441.72L469.19 445.62L465.29 441.72Z" fill="none" stroke="#000080" stroke-width="1.2"/><path d="M473.53 437.97L477.43 441.87L473.53 445.77L469.63 441.87Z" fill="none" stroke="#000080" stroke-width="1.2"/><path d="M467.21 441.29L471.11 445.19L467.21 449.09L463.31 445.19Z" fill="none" stroke="#000080" stroke-width="1.2"/><path d="M489.49 441.44L493.39 445.34L489.49 449.24L485.59 445.34Z" fill="none" stroke="#000080" stroke-width="1.2"/><path d="M466.53 437.21L470.43 441.11L466.53 445.01L462.63 441.11Z" fill="none" stroke="#000080" stroke-width="1.2"/><path d="M492.59 442.70L496.49 446.60L492.59 450.50L488.69 446.60Z" fill="none" stroke="#000080" stroke-width="1.2"/><path d="M480.13 440.25L484.03 444.15L480.13 448.05L476.23 444.15Z" fill="none" stroke="#000080" stroke-width="1.2"/><path d="M495.76 440.14L499.66 444.04L495.76 447.94L491.86 444.04Z" fill="none" stroke="#000080" stroke-width="1.2"/><path d="M480.23 439.03L484.13 442.93L480.23 446.83L476.33 442.93Z" fill="none" stroke="#000080" stroke-width="1.2"/><path d="M463.11 439.43L467.01 443.33L463.11 447.23L459.21 443.33Z" fill="none" stroke="#000080" stroke-width="1.2"/><path d="M463.13 434.73L467.03 438.63L463.13 442.53L459.23 438.63Z" fill="none" stroke="#000080" stroke-width="1.2"/><path d="M465.32 438.78L469.22 442.68L465.32 446.58L461.42 442.68Z" fill="none" stroke="#000080" stroke-width="1.2"/><path d="M468.16 438.40L472.06 442.30L468.16 446.20L464.26 442.30Z" fill="none" stroke="#000080" stroke-width="1.2"/><path d="M479.30 438.13L483.20 442.03L479.30 445.93L475.40 442.03Z" fill="none" stroke="#000080" stroke-width="1.2"/><path d="M495.83 441.19L499.73 445.09L495.83 448.99L491.93 445.09Z" fill="none" stroke="#000080" stroke-width="1.2"/><path d="M478.27 439.16L482.17 443.06L478.27 446.96L474.37 443.06Z" fill="none" stroke="#000080" stroke-width="1.2"/><path d="M493.85 436.15L497.75 440.05L493.85 443.95L489.95 440.05Z" fill="none" stroke="#000080" stroke-width="1.2"/><path d="M490.57 442.47L494.47 446.37L490.57 450.27L486.67 446.37Z" fill="none" stroke="#000080" stroke-width="1.2"/><path d="M490.85 432.94L494.75 436.84L490.85 440.74L486.95 436.84Z" fill="none" stroke="#000080" stroke-width="1.2"/><path d="M495.44 436.12L499.34 440.02L495.44 443.92L491.54 440.02Z" fill="none" stroke="#000080" stroke-width="1.2"/><path d="M489.68 439.28L493.58 443.18L489.68 447.08L485.78 443.18Z" fill="none" stroke="#000080" stroke-width="1.2"/><path d="M475.56 439.44L479.46 443.34L475.56 447.24L471.66 443.34Z" fill="none" stroke="#000080" stroke-width="1.2"/><path d="M473.89 432.50L477.79 436.40L473.89 440.30L469.99 436.40Z" fill="none" stroke="#000080" stroke-width="1.2"/><path d="M467.56 438.19L471.46 442.09L467.56 445.99L463.66 442.09Z" fill="none" stroke="#000080" stroke-width="1.2"/><path d="M462.19 445.97L466.09 449.87L462.19 453.77L458.29 449.87Z" fill="none" stroke="#000080" stroke-width="1.2"/><path d="M464.25 440.09L468.15 443.99L464.25 447.89L460.35 443.99Z" fill="none" stroke="#000080" stroke-width="1.2"/><path d="M462.31 438.36L466.21 442.26L462.31 446.16L458.41 442.26Z" fill="none" stroke="#000080" stroke-width="1.2"/><path d="M481.61 442.09L485.51 445.99L481.61 449.89L477.71 445.99Z" fill="none" stroke="#000080" stroke-width="1.2"/><path d="M466.83 440.11L470.73 444.01L466.83 447.91L462.93 444.01Z" fill="none" stroke="#000080" stroke-width="1.2"/><path d="M468.71 438.44L472.61 442.34L468.71 446.24L464.81 442.34Z" fill="none" stroke="#000080" stroke-width="1.2"/><path d="M466.84 438.89L470.74 442.79L466.84 446.69L462.94 442.79Z" fill="none" stroke="#000080" stroke-width="1.2"/><path d="M466.38 438.71L470.28 442.61L466.38 446.51L462.48 442.61Z" fill="none" stroke="#000080" stroke-width="1.2"/><path d="M490.23 442.64L494.13 446.54L490.23 450.44L486.33 446.54Z" fill="none" stroke="#000080" stroke-width="1.2"/><path d="M469.64 443.61L473.54 447.51L469.64 451.41L465.74 447.51Z" fill="none" stroke="#000080" stroke-width="1.2"/><path d="M480.25 437.60L484.15 441.50L480.25 445.40L476.35 441.50Z" fill="none" stroke="#000080" stroke-width="1.2"/><path d="M477.86 445.38L481.76 449.28L477.86 453.18L473.96 449.28Z" fill="none" stroke="#000080" stroke-width="1.2"/><path d="M489.65 441.63L493.55 445.53L489.65 449.43L485.75 445.53Z" fill="none" stroke="#000080" stroke-width="1.2"/><path d="M479.52 438.73L483.42 442.63L479.52 446.53L475.62 442.63Z" fill="none" stroke="#000080" stroke-width="1.2"/><path d="M484.33 447.05L488.23 450.95L484.33 454.85L480.43 450.95Z" fill="none" stroke="#000080" stroke-width="1.2"/><path d="M460.40 436.89L464.30 440.79L460.40 444.69L456.50 440.79Z" fill="none" stroke="#000080" stroke-width="1.2"/><path d="M486.39 442.94L490.29 446.84L486.39 450.74L482.49 446.84Z" fill="none" stroke="#000080" stroke-width="1.2"/><path d="M465.82 439.04L469.72 442.94L465.82 446.84L461.92 442.94Z" fill="none" stroke="#000080" stroke-width="1.2"/><path d="M492.16 441.52L496.06 445.42L492.16 449.32L488.26 445.42Z" fill="none" stroke="#000080" stroke-width="1.2"/><path d="M483.57 439.23L487.47 443.13L483.57 447.03L479.67 443.13Z" fill="none" stroke="#000080" stroke-width="1.2"/><path d="M465.57 442.79L469.47 446.69L465.57 450.59L461.67 446.69Z" fill="none" stroke="#000080" stroke-width="1.2"/><path d="M460.05 442.38L463.95 446.28L460.05 450.18L456.15 446.28Z" fill="none" stroke="#000080" stroke-width="1.2"/><path d="M463.05 436.18L466.95 440.08L463.05 443.98L459.15 440.08Z" fill="none" stroke="#000080" stroke-width="1.2"/><path d="M486.51 437.17L490.41 441.07L486.51 444.97L482.61 441.07Z" fill="none" stroke="#000080" stroke-width="1.2"/><path d="M495.35 440.18L499.25 444.08L495.35 447.98L491.45 444.08Z" fill="none" stroke="#000080" stroke-width="1.2"/><path d="M491.72 440.46L495.62 444.36L491.72 448.26L487.82 444.36Z" fill="none" stroke="#000080" stroke-width="1.2"/><path d="M493.92 437.43L497.82 441.33L493.92 445.23L490.02 441.33Z" fill="none" stroke="#000080" stroke-width="1.2"/><path d="M490.57 437.03L494.47 440.93L490.57 444.83L486.67 440.93Z" fill="none" stroke="#000080" stroke-width="1.2"/><path d="M465.83 439.06L469.73 442.96L465.83 446.86L461.93 442.96Z" fill="none" stroke="#000080" stroke-width="1.2"/><path d="M471.52 441.67L475.42 445.57L471.52 449.47L467.62 445.57Z" fill="none" stroke="#000080" stroke-width="1.2"/><path d="M477.29 440.79L481.19 444.69L477.29 448.59L473.39 444.69Z" fill="none" stroke="#000080" stroke-width="1.2"/><path d="M473.31 441.74L477.21 445.64L473.31 449.54L469.41 445.64Z" fill="none" stroke="#000080" stroke-width="1.2"/><path d="M477.09 442.81L480.99 446.71L477.09 450.61L473.19 446.71Z" fill="none" stroke="#000080" stroke-width="1.2"/><path d="M490.70 442.17L494.60 446.07L490.70 449.97L486.80 446.07Z" fill="none" stroke="#000080" stroke-width="1.2"/><path d="M486.27 440.03L490.17 443.93L486.27 447.83L482.37 443.93Z" fill="none" stroke="#000080" stroke-width="1.2"/><path d="M480.87 447.24L484.77 451.14L480.87 455.04L476.97 451.14Z" fill="none" stroke="#000080" stroke-width="1.2"/><path d="M489.58 440.33L493.48 444.23L489.58 448.13L485.68 444.23Z" fill="none" stroke="#000080" stroke-width="1.2"/><path d="M482.79 437.72L486.69 441.62L482.79 445.52L478.89 441.62Z" fill="none" stroke="#000080" stroke-width="1.2"/><path d="M471.03 441.95L474.93 445.85L471.03 449.75L467.13 445.85Z" fill="none" stroke="#000080" stroke-width="1.2"/><path d="M474.51 439.78L478.41 443.68L474.51 447.58L470.61 443.68Z" fill="none" stroke="#000080" stroke-width="1.2"/><path d="M487.06 441.45L490.96 445.35L487.06 449.25L483.16 445.35Z" fill="none" stroke="#000080" stroke-width="1.2"/><path d="M518.74 439.41L522.64 443.31L518.74 447.21L514.84 443.31Z" fill="none" stroke="#000080" stroke-width="1.2"/><path d="M516.02 437.20L519.92 441.10L516.02 445.00L512.12 441.10Z" fill="none" stroke="#000080" stroke-width="1.2"/><path d="M500.24 437.78L504.14 441.68L500.24 445.58L496.34 441.68Z" fill="none" stroke="#000080" stroke-width="1.2"/><path d="M501.14 435.62L505.04 439.52L501.14 443.42L497.24 439.52Z" fill="none" stroke="#000080" stroke-width="1.2"/><path d="M516.25 441.66L520.15 445.56L516.25 449.46L512.35 445.56Z" fill="none" stroke="#000080" stroke-width="1.2"/><path d="M500.61 441.00L504.51 444.90L500.61 448.80L496.71 444.90Z" fill="none" stroke="#000080" stroke-width="1.2"/><path d="M506.36 442.62L510.26 446.52L506.36 450.42L502.46 446.52Z" fill="none" stroke="#000080" stroke-width="1.2"/><path d="M508.77 438.34L512.67 442.24L508.77 446.14L504.87 442.24Z" fill="none" stroke="#000080" stroke-width="1.2"/><path d="M514.64 437.82L518.54 441.72L514.64 445.62L510.74 441.72Z" fill="none" stroke="#000080" stroke-width="1.2"/><path d="M506.48 441.61L510.38 445.51L506.48 449.41L502.58 445.51Z" fill="none" stroke="#000080" stroke-width="1.2"/><path d="M506.22 445.10L510.12 449.00L506.22 452.90L502.32 449.00Z" fill="none" stroke="#000080" stroke-width="1.2"/><path d="M512.19 439.25L516.09 443.15L512.19 447.05L508.29 443.15Z" fill="none" stroke="#000080" stroke-width="1.2"/><path d="M497.43 437.47L501.33 441.37L497.43 445.27L493.53 441.37Z" fill="none" stroke="#000080" stroke-width="1.2"/><path d="M499.44 443.48L503.34 447.38L499.44 451.28L495.54 447.38Z" fill="none" stroke="#000080" stroke-width="1.2"/><path d="M508.72 441.72L512.62 445.62L508.72 449.52L504.82 445.62Z" fill="none" stroke="#000080" stroke-width="1.2"/><path d="M500.64 436.18L504.54 440.08L500.64 443.98L496.74 440.08Z" fill="none" stroke="#000080" stroke-width="1.2"/><path d="M517.77 437.73L521.67 441.63L517.77 445.53L513.87 441.63Z" fill="none" stroke="#000080" stroke-width="1.2"/><path d="M500.26 442.67L504.16 446.57L500.26 450.47L496.36 446.57Z" fill="none" stroke="#000080" stroke-width="1.2"/><path d="M519.70 438.62L523.60 442.52L519.70 446.42L515.80 442.52Z" fill="none" stroke="#000080" stroke-width="1.2"/><path d="M501.54 430.26L505.44 434.16L501.54 438.06L497.64 434.16Z" fill="none" stroke="#000080" stroke-width="1.2"/><path d="M511.42 441.79L515.32 445.69L511.42 449.59L507.52 445.69Z" fill="none" stroke="#000080" stroke-width="1.2"/><path d="M510.26 440.97L514.16 444.87L510.26 448.77L506.36 444.87Z" fill="none" stroke="#000080" stroke-width="1.2"/><path d="M504.57 435.55L508.47 439.45L504.57 443.35L500.67 439.45Z" fill="none" stroke="#000080" stroke-width="1.2"/><path d="M499.85 444.96L503.75 448.86L499.85 452.76L495.95 448.86Z" fill="none" stroke="#000080" stroke-width="1.2"/><path d="M500.12 432.45L504.02 436.35L500.12 440.25L496.22 436.35Z" fill="none" stroke="#000080" stroke-width="1.2"/><path d="M509.89 438.81L513.79 442.71L509.89 446.61L505.99 442.71Z" fill="none" stroke="#000080" stroke-width="1.2"/><path d="M517.91 443.19L521.81 447.09L517.91 450.99L514.01 447.09Z" fill="none" stroke="#000080" stroke-width="1.2"/><path d="M499.82 436.15L503.72 440.05L499.82 443.95L495.92 440.05Z" fill="none" stroke="#000080" stroke-width="1.2"/><path d="M503.64 440.30L507.54 444.20L503.64 448.10L499.74 444.20Z" fill="none" stroke="#000080" stroke-width="1.2"/><path d="M516.11 443.75L520.01 447.65L516.11 451.55L512.21 447.65Z" fill="none" stroke="#000080" stroke-width="1.2"/><path d="M509.60 441.70L513.50 445.60L509.60 449.50L505.70 445.60Z" fill="none" stroke="#000080" stroke-width="1.2"/><path d="M519.70 440.60L523.60 444.50L519.70 448.40L515.80 444.50Z" fill="none" stroke="#000080" stroke-width="1.2"/><path d="M512.14 437.52L516.04 441.42L512.14 445.32L508.24 441.42Z" fill="none" stroke="#000080" stroke-width="1.2"/><path d="M505.78 435.54L509.68 439.44L505.78 443.34L501.88 439.44Z" fill="none" stroke="#000080" stroke-width="1.2"/><path d="M515.49 440.90L519.39 444.80L515.49 448.70L511.59 444.80Z" fill="none" stroke="#000080" stroke-width="1.2"/><path d="M500.29 443.04L504.19 446.94L500.29 450.84L496.39 446.94Z" fill="none" stroke="#000080" stroke-width="1.2"/><path d="M510.10 437.52L514.00 441.42L510.10 445.32L506.20 441.42Z" fill="none" stroke="#000080" stroke-width="1.2"/><path d="M510.06 439.56L513.96 443.46L510.06 447.36L506.16 443.46Z" fill="none" stroke="#000080" stroke-width="1.2"/><path d="M511.76 439.05L515.66 442.95L511.76 446.85L507.86 442.95Z" fill="none" stroke="#000080" stroke-width="1.2"/><path d="M519.06 438.37L522.96 442.27L519.06 446.17L515.16 442.27Z" fill="none" stroke="#000080" stroke-width="1.2"/><path d="M507.81 436.59L511.71 440.49L507.81 444.39L503.91 440.49Z" fill="none" stroke="#000080" stroke-width="1.2"/><path d="M514.43 436.63L518.33 440.53L514.43 444.43L510.53 440.53Z" fill="none" stroke="#000080" stroke-width="1.2"/><path d="M508.17 446.05L512.07 449.95L508.17 453.85L504.27 449.95Z" fill="none" stroke="#000080" stroke-width="1.2"/><path d="M506.41 434.84L510.31 438.74L506.41 442.64L502.51 438.74Z" fill="none" stroke="#000080" stroke-width="1.2"/><path d="M510.02 432.64L513.92 436.54L510.02 440.44L506.12 436.54Z" fill="none" stroke="#000080" stroke-width="1.2"/><path d="M506.94 438.66L510.84 442.56L506.94 446.46L503.04 442.56Z" fill="none" stroke="#000080" stroke-width="1.2"/><path d="M504.38 438.87L508.28 442.77L504.38 446.67L500.48 442.77Z" fill="none" stroke="#000080" stroke-width="1.2"/><path d="M513.84 433.49L517.74 437.39L513.84 441.29L509.94 437.39Z" fill="none" stroke="#000080" stroke-width="1.2"/><path d="M514.29 438.90L518.19 442.80L514.29 446.70L510.39 442.80Z" fill="none" stroke="#000080" stroke-width="1.2"/><path d="M499.86 439.22L503.76 443.12L499.86 447.02L495.96 443.12Z" fill="none" stroke="#000080" stroke-width="1.2"/><path d="M508.56 444.22L512.46 448.12L508.56 452.02L504.66 448.12Z" fill="none" stroke="#000080" stroke-width="1.2"/><path d="M509.10 441.33L513.00 445.23L509.10 449.13L505.20 445.23Z" fill="none" stroke="#000080" stroke-width="1.2"/><path d="M504.04 439.95L507.94 443.85L504.04 447.75L500.14 443.85Z" fill="none" stroke="#000080" stroke-width="1.2"/><path d="M517.96 442.09L521.86 445.99L517.96 449.89L514.06 445.99Z" fill="none" stroke="#000080" stroke-width="1.2"/><path d="M512.31 430.31L516.21 434.21L512.31 438.11L508.41 434.21Z" fill="none" stroke="#000080" stroke-width="1.2"/><path d="M502.10 442.42L506.00 446.32L502.10 450.22L498.20 446.32Z" fill="none" stroke="#000080" stroke-width="1.2"/><path d="M510.04 448.50L513.94 452.40L510.04 456.30L506.14 452.40Z" fill="none" stroke="#000080" stroke-width="1.2"/><path d="M499.85 442.93L503.75 446.83L499.85 450.73L495.95 446.83Z" fill="none" stroke="#000080" stroke-width="1.2"/><path d="M518.87 439.94L522.77 443.84L518.87 447.74L514.97 443.84Z" fill="none" stroke="#000080" stroke-width="1.2"/><path d="M504.47 442.37L508.37 446.27L504.47 450.17L500.57 446.27Z" fill="none" stroke="#000080" stroke-width="1.2"/><path d="M538.80 437.60L542.70 441.50L538.80 445.40L534.90 441.50Z" fill="none" stroke="#000080" stroke-width="1.2"/><path d="M532.30 441.54L536.20 445.44L532.30 449.34L528.40 445.44Z" fill="none" stroke="#000080" stroke-width="1.2"/><path d="M520.65 437.35L524.55 441.25L520.65 445.15L516.75 441.25Z" fill="none" stroke="#000080" stroke-width="1.2"/><path d="M539.61 446.42L543.51 450.32L539.61 454.22L535.71 450.32Z" fill="none" stroke="#000080" stroke-width="1.2"/><path d="M529.93 437.94L533.83 441.84L529.93 445.74L526.03 441.84Z" fill="none" stroke="#000080" stroke-width="1.2"/><path d="M538.83 446.35L542.73 450.25L538.83 454.15L534.93 450.25Z" fill="none" stroke="#000080" stroke-width="1.2"/><path d="M537.60 438.04L541.50 441.94L537.60 445.84L533.70 441.94Z" fill="none" stroke="#000080" stroke-width="1.2"/><path d="M538.47 440.48L542.37 444.38L538.47 448.28L534.57 444.38Z" fill="none" stroke="#000080" stroke-width="1.2"/><path d="M524.24 442.06L528.14 445.96L524.24 449.86L520.34 445.96Z" fill="none" stroke="#000080" stroke-width="1.2"/><path d="M521.05 445.60L524.95 449.50L521.05 453.40L517.15 449.50Z" fill="none" stroke="#000080" stroke-width="1.2"/><path d="M535.24 444.74L539.14 448.64L535.24 452.54L531.34 448.64Z" fill="none" stroke="#000080" stroke-width="1.2"/><path d="M534.98 436.30L538.88 440.20L534.98 444.10L531.08 440.20Z" fill="none" stroke="#000080" stroke-width="1.2"/><path d="M534.61 437.56L538.51 441.46L534.61 445.36L530.71 441.46Z" fill="none" stroke="#000080" stroke-width="1.2"/><path d="M524.69 440.26L528.59 444.16L524.69 448.06L520.79 444.16Z" fill="none" stroke="#000080" stroke-width="1.2"/><path d="M534.92 440.77L538.82 444.67L534.92 448.57L531.02 444.67Z" fill="none" stroke="#000080" stroke-width="1.2"/><path d="M533.96 441.84L537.86 445.74L533.96 449.64L530.06 445.74Z" fill="none" stroke="#000080" stroke-width="1.2"/><path d="M527.82 442.84L531.72 446.74L527.82 450.64L523.92 446.74Z" fill="none" stroke="#000080" stroke-width="1.2"/><path d="M524.81 437.19L528.71 441.09L524.81 444.99L520.91 441.09Z" fill="none" stroke="#000080" stroke-width="1.2"/><path d="M539.46 439.13L543.36 443.03L539.46 446.93L535.56 443.03Z" fill="none" stroke="#000080" stroke-width="1.2"/><path d="M521.89 448.29L525.79 452.19L521.89 456.09L517.99 452.19Z" fill="none" stroke="#000080" stroke-width="1.2"/><path d="M529.25 438.95L533.15 442.85L529.25 446.75L525.35 442.85Z" fill="none" stroke="#000080" stroke-width="1.2"/><path d="M532.59 439.67L536.49 443.57L532.59 447.47L528.69 443.57Z" fill="none" stroke="#000080" stroke-width="1.2"/><path d="M525.27 441.94L529.17 445.84L525.27 449.74L521.37 445.84Z" fill="none" stroke="#000080" stroke-width="1.2"/><path d="M535.87 441.13L539.77 445.03L535.87 448.93L531.97 445.03Z" fill="none" stroke="#000080" stroke-width="1.2"/><path d="M525.86 442.33L529.76 446.23L525.86 450.13L521.96 446.23Z" fill="none" stroke="#000080" stroke-width="1.2"/><path d="M540.74 445.73L544.64 449.63L540.74 453.53L536.84 449.63Z" fill="none" stroke="#000080" stroke-width="1.2"/><path d="M529.69 434.69L533.59 438.59L529.69 442.49L525.79 438.59Z" fill="none" stroke="#000080" stroke-width="1.2"/><path d="M530.50 444.42L534.40 448.32L530.50 452.22L526.60 448.32Z" fill="none" stroke="#000080" stroke-width="1.2"/><path d="M612.40 438.45L616.30 442.35L612.40 446.25L608.50 442.35Z" fill="none" stroke="#000080" stroke-width="1.2"/><path d="M624.70 438.45L628.60 442.35L624.70 446.25L620.80 442.35Z" fill="none" stroke="#000080" stroke-width="1.2"/><path d="M633.90 438.45L637.80 442.35L633.90 446.25L630.00 442.35Z" fill="none" stroke="#000080" stroke-width="1.2"/><path d="M161.77 707.91L165.67 711.81L161.77 715.71L157.87 711.81Z" fill="none" stroke="#000080" stroke-width="1.2"/><path d="M167.80 713.40L171.70 717.30L167.80 721.20L163.90 717.30Z" fill="none" stroke="#000080" stroke-width="1.2"/><path d="M176.98 700.29L180.88 704.19L176.98 708.09L173.08 704.19Z" fill="none" stroke="#000080" stroke-width="1.2"/><path d="M198.11 682.47L202.01 686.37L198.11 690.27L194.21 686.37Z" fill="none" stroke="#000080" stroke-width="1.2"/><path d="M152.69 726.34L156.59 730.24L152.69 734.14L148.79 730.24Z" fill="none" stroke="#000080" stroke-width="1.2"/><path d="M152.89 726.84L156.79 730.74L152.89 734.64L148.99 730.74Z" fill="none" stroke="#000080" stroke-width="1.2"/><path d="M145.85 745.63L149.75 749.53L145.85 753.43L141.95 749.53Z" fill="none" stroke="#000080" stroke-width="1.2"/><path d="M142.89 740.88L146.79 744.78L142.89 748.68L138.99 744.78Z" fill="none" stroke="#000080" stroke-width="1.2"/><path d="M137.18 729.60L141.08 733.50L137.18 737.40L133.28 733.50Z" fill="none" stroke="#000080" stroke-width="1.2"/><path d="M142.89 732.59L146.79 736.49L142.89 740.39L138.99 736.49Z" fill="none" stroke="#000080" stroke-width="1.2"/><path d="M233.94 683.26L237.84 687.16L233.94 691.06L230.04 687.16Z" fill="none" stroke="#000080" stroke-width="1.2"/><path d="M265.07 659.69L268.97 663.59L265.07 667.49L261.17 663.59Z" fill="none" stroke="#000080" stroke-width="1.2"/><path d="M78.89 760.53L82.79 764.43L78.89 768.33L74.99 764.43Z" fill="none" stroke="#000080" stroke-width="1.2"/><path d="M109.72 737.98L113.62 741.88L109.72 745.78L105.82 741.88Z" fill="none" stroke="#000080" stroke-width="1.2"/><path d="M72.87 764.78L76.77 768.68L72.87 772.58L68.97 768.68Z" fill="none" stroke="#000080" stroke-width="1.2"/><path d="M79.51 786.05L83.41 789.95L79.51 793.85L75.61 789.95Z" fill="none" stroke="#000080" stroke-width="1.2"/><path d="M122.48 764.05L126.38 767.95L122.48 771.85L118.58 767.95Z" fill="none" stroke="#000080" stroke-width="1.2"/><path d="M125.85 764.60L129.75 768.50L125.85 772.40L121.95 768.50Z" fill="none" stroke="#000080" stroke-width="1.2"/><path d="M56.75 790.20L60.65 794.10L56.75 798.00L52.85 794.10Z" fill="none" stroke="#000080" stroke-width="1.2"/><path d="M59.38 779.19L63.28 783.09L59.38 786.99L55.48 783.09Z" fill="none" stroke="#000080" stroke-width="1.2"/><path d="M43.41 799.98L47.31 803.88L43.41 807.78L39.51 803.88Z" fill="none" stroke="#000080" stroke-width="1.2"/><path d="M62.99 784.03L66.89 787.93L62.99 791.83L59.09 787.93Z" fill="none" stroke="#000080" stroke-width="1.2"/><path d="M53.29 788.80L57.19 792.70L53.29 796.60L49.39 792.70Z" fill="none" stroke="#000080" stroke-width="1.2"/><path d="M43.06 797.01L46.96 800.91L43.06 804.81L39.16 800.91Z" fill="none" stroke="#000080" stroke-width="1.2"/><path d="M49.04 794.10L52.94 798.00L49.04 801.90L45.14 798.00Z" fill="none" stroke="#000080" stroke-width="1.2"/><path d="M60.66 785.36L64.56 789.26L60.66 793.16L56.76 789.26Z" fill="none" stroke="#000080" stroke-width="1.2"/><path d="M56.63 792.80L60.53 796.70L56.63 800.60L52.73 796.70Z" fill="none" stroke="#000080" stroke-width="1.2"/><path d="M47.47 794.91L51.37 798.81L47.47 802.71L43.57 798.81Z" fill="none" stroke="#000080" stroke-width="1.2"/><path d="M64.82 781.24L68.72 785.14L64.82 789.04L60.92 785.14Z" fill="none" stroke="#000080" stroke-width="1.2"/><path d="M54.87 794.76L58.77 798.66L54.87 802.56L50.97 798.66Z" fill="none" stroke="#000080" stroke-width="1.2"/><path d="M69.82 775.85L73.72 779.75L69.82 783.65L65.92 779.75Z" fill="none" stroke="#000080" stroke-width="1.2"/><path d="M85.29 765.22L89.19 769.12L85.29 773.02L81.39 769.12Z" fill="none" stroke="#000080" stroke-width="1.2"/><path d="M73.33 778.89L77.23 782.79L73.33 786.69L69.43 782.79Z" fill="none" stroke="#000080" stroke-width="1.2"/><path d="M71.98 779.90L75.88 783.80L71.98 787.70L68.08 783.80Z" fill="none" stroke="#000080" stroke-width="1.2"/><path d="M65.29 782.47L69.19 786.37L65.29 790.27L61.39 786.37Z" fill="none" stroke="#000080" stroke-width="1.2"/><path d="M83.60 773.51L87.50 777.41L83.60 781.31L79.70 777.41Z" fill="none" stroke="#000080" stroke-width="1.2"/><path d="M72.31 778.81L76.21 782.71L72.31 786.61L68.41 782.71Z" fill="none" stroke="#000080" stroke-width="1.2"/><path d="M87.11 768.84L91.01 772.74L87.11 776.64L83.21 772.74Z" fill="none" stroke="#000080" stroke-width="1.2"/><path d="M82.05 776.81L85.95 780.71L82.05 784.61L78.15 780.71Z" fill="none" stroke="#000080" stroke-width="1.2"/><path d="M73.44 778.76L77.34 782.66L73.44 786.56L69.54 782.66Z" fill="none" stroke="#000080" stroke-width="1.2"/><path d="M65.42 785.81L69.32 789.71L65.42 793.61L61.52 789.71Z" fill="none" stroke="#000080" stroke-width="1.2"/><path d="M69.63 785.89L73.53 789.79L69.63 793.69L65.73 789.79Z" fill="none" stroke="#000080" stroke-width="1.2"/><path d="M86.09 767.62L89.99 771.52L86.09 775.42L82.19 771.52Z" fill="none" stroke="#000080" stroke-width="1.2"/><path d="M77.00 777.81L80.90 781.71L77.00 785.61L73.10 781.71Z" fill="none" stroke="#000080" stroke-width="1.2"/><path d="M67.64 783.32L71.54 787.22L67.64 791.12L63.74 787.22Z" fill="none" stroke="#000080" stroke-width="1.2"/><path d="M66.04 774.94L69.94 778.84L66.04 782.74L62.14 778.84Z" fill="none" stroke="#000080" stroke-width="1.2"/><path d="M67.26 778.33L71.16 782.23L67.26 786.13L63.36 782.23Z" fill="none" stroke="#000080" stroke-width="1.2"/><path d="M72.85 771.49L76.75 775.39L72.85 779.29L68.95 775.39Z" fill="none" stroke="#000080" stroke-width="1.2"/><path d="M77.46 775.17L81.36 779.07L77.46 782.97L73.56 779.07Z" fill="none" stroke="#000080" stroke-width="1.2"/><path d="M66.97 783.73L70.87 787.63L66.97 791.53L63.07 787.63Z" fill="none" stroke="#000080" stroke-width="1.2"/><path d="M80.69 774.52L84.59 778.42L80.69 782.32L76.79 778.42Z" fill="none" stroke="#000080" stroke-width="1.2"/><path d="M87.37 770.04L91.27 773.94L87.37 777.84L83.47 773.94Z" fill="none" stroke="#000080" stroke-width="1.2"/><path d="M74.33 774.20L78.23 778.10L74.33 782.00L70.43 778.10Z" fill="none" stroke="#000080" stroke-width="1.2"/><path d="M75.45 774.65L79.35 778.55L75.45 782.45L71.55 778.55Z" fill="none" stroke="#000080" stroke-width="1.2"/><path d="M66.47 788.48L70.37 792.38L66.47 796.28L62.57 792.38Z" fill="none" stroke="#000080" stroke-width="1.2"/><path d="M84.04 772.09L87.94 775.99L84.04 779.89L80.14 775.99Z" fill="none" stroke="#000080" stroke-width="1.2"/><path d="M81.65 767.05L85.55 770.95L81.65 774.85L77.75 770.95Z" fill="none" stroke="#000080" stroke-width="1.2"/><path d="M67.61 779.09L71.51 782.99L67.61 786.89L63.71 782.99Z" fill="none" stroke="#000080" stroke-width="1.2"/><path d="M68.57 780.72L72.47 784.62L68.57 788.52L64.67 784.62Z" fill="none" stroke="#000080" stroke-width="1.2"/><path d="M87.66 774.54L91.56 778.44L87.66 782.34L83.76 778.44Z" fill="none" stroke="#000080" stroke-width="1.2"/><path d="M87.13 765.90L91.03 769.80L87.13 773.70L83.23 769.80Z" fill="none" stroke="#000080" stroke-width="1.2"/><path d="M75.97 776.97L79.87 780.87L75.97 784.77L72.07 780.87Z" fill="none" stroke="#000080" stroke-width="1.2"/><path d="M74.28 772.90L78.18 776.80L74.28 780.70L70.38 776.80Z" fill="none" stroke="#000080" stroke-width="1.2"/><path d="M86.77 774.56L90.67 778.46L86.77 782.36L82.87 778.46Z" fill="none" stroke="#000080" stroke-width="1.2"/><path d="M76.43 777.94L80.33 781.84L76.43 785.74L72.53 781.84Z" fill="none" stroke="#000080" stroke-width="1.2"/><path d="M82.78 774.48L86.68 778.38L82.78 782.28L78.88 778.38Z" fill="none" stroke="#000080" stroke-width="1.2"/><path d="M73.33 778.93L77.23 782.83L73.33 786.73L69.43 782.83Z" fill="none" stroke="#000080" stroke-width="1.2"/><path d="M80.13 770.58L84.03 774.48L80.13 778.38L76.23 774.48Z" fill="none" stroke="#000080" stroke-width="1.2"/><path d="M73.38 777.84L77.28 781.74L73.38 785.64L69.48 781.74Z" fill="none" stroke="#000080" stroke-width="1.2"/><path d="M82.50 775.11L86.40 779.01L82.50 782.91L78.60 779.01Z" fill="none" stroke="#000080" stroke-width="1.2"/><path d="M71.82 775.45L75.72 779.35L71.82 783.25L67.92 779.35Z" fill="none" stroke="#000080" stroke-width="1.2"/><path d="M65.48 780.96L69.38 784.86L65.48 788.76L61.58 784.86Z" fill="none" stroke="#000080" stroke-width="1.2"/><path d="M70.85 775.88L74.75 779.78L70.85 783.68L66.95 779.78Z" fill="none" stroke="#000080" stroke-width="1.2"/><path d="M79.76 775.25L83.66 779.15L79.76 783.05L75.86 779.15Z" fill="none" stroke="#000080" stroke-width="1.2"/><path d="M73.03 778.24L76.93 782.14L73.03 786.04L69.13 782.14Z" fill="none" stroke="#000080" stroke-width="1.2"/><path d="M73.08 774.27L76.98 778.17L73.08 782.07L69.18 778.17Z" fill="none" stroke="#000080" stroke-width="1.2"/><path d="M84.75 776.74L88.65 780.64L84.75 784.54L80.85 780.64Z" fill="none" stroke="#000080" stroke-width="1.2"/><path d="M76.85 775.28L80.75 779.18L76.85 783.08L72.95 779.18Z" fill="none" stroke="#000080" stroke-width="1.2"/><path d="M68.95 783.57L72.85 787.47L68.95 791.37L65.05 787.47Z" fill="none" stroke="#000080" stroke-width="1.2"/><path d="M80.74 772.66L84.64 776.56L80.74 780.46L76.84 776.56Z" fill="none" stroke="#000080" stroke-width="1.2"/><path d="M81.62 773.67L85.52 777.57L81.62 781.47L77.72 777.57Z" fill="none" stroke="#000080" stroke-width="1.2"/><path d="M80.16 771.07L84.06 774.97L80.16 778.87L76.26 774.97Z" fill="none" stroke="#000080" stroke-width="1.2"/><path d="M79.22 772.25L83.12 776.15L79.22 780.05L75.32 776.15Z" fill="none" stroke="#000080" stroke-width="1.2"/><path d="M65.84 780.40L69.74 784.30L65.84 788.20L61.94 784.30Z" fill="none" stroke="#000080" stroke-width="1.2"/><path d="M75.12 777.91L79.02 781.81L75.12 785.71L71.22 781.81Z" fill="none" stroke="#000080" stroke-width="1.2"/><path d="M79.38 777.93L83.28 781.83L79.38 785.73L75.48 781.83Z" fill="none" stroke="#000080" stroke-width="1.2"/><path d="M75.81 777.95L79.71 781.85L75.81 785.75L71.91 781.85Z" fill="none" stroke="#000080" stroke-width="1.2"/><path d="M72.34 779.42L76.24 783.32L72.34 787.22L68.44 783.32Z" fill="none" stroke="#000080" stroke-width="1.2"/><path d="M69.56 778.60L73.46 782.50L69.56 786.40L65.66 782.50Z" fill="none" stroke="#000080" stroke-width="1.2"/><path d="M78.95 775.28L82.85 779.18L78.95 783.08L75.05 779.18Z" fill="none" stroke="#000080" stroke-width="1.2"/><path d="M70.56 785.26L74.46 789.16L70.56 793.06L66.66 789.16Z" fill="none" stroke="#000080" stroke-width="1.2"/><path d="M71.47 779.57L75.37 783.47L71.47 787.37L67.57 783.47Z" fill="none" stroke="#000080" stroke-width="1.2"/><path d="M67.80 781.47L71.70 785.37L67.80 789.27L63.90 785.37Z" fill="none" stroke="#000080" stroke-width="1.2"/><path d="M78.99 775.21L82.89 779.11L78.99 783.01L75.09 779.11Z" fill="none" stroke="#000080" stroke-width="1.2"/><path d="M77.46 770.73L81.36 774.63L77.46 778.53L73.56 774.63Z" fill="none" stroke="#000080" stroke-width="1.2"/><path d="M83.60 769.04L87.50 772.94L83.60 776.84L79.70 772.94Z" fill="none" stroke="#000080" stroke-width="1.2"/><path d="M83.47 771.05L87.37 774.95L83.47 778.85L79.57 774.95Z" fill="none" stroke="#000080" stroke-width="1.2"/><path d="M78.60 775.94L82.50 779.84L78.60 783.74L74.70 779.84Z" fill="none" stroke="#000080" stroke-width="1.2"/><path d="M86.71 766.23L90.61 770.13L86.71 774.03L82.81 770.13Z" fill="none" stroke="#000080" stroke-width="1.2"/><path d="M85.28 769.42L89.18 773.32L85.28 777.22L81.38 773.32Z" fill="none" stroke="#000080" stroke-width="1.2"/><path d="M67.64 781.06L71.54 784.96L67.64 788.86L63.74 784.96Z" fill="none" stroke="#000080" stroke-width="1.2"/><path d="M79.35 772.71L83.25 776.61L79.35 780.51L75.45 776.61Z" fill="none" stroke="#000080" stroke-width="1.2"/><path d="M73.66 778.45L77.56 782.35L73.66 786.25L69.76 782.35Z" fill="none" stroke="#000080" stroke-width="1.2"/><path d="M87.05 771.50L90.95 775.40L87.05 779.30L83.15 775.40Z" fill="none" stroke="#000080" stroke-width="1.2"/><path d="M86.80 766.59L90.70 770.49L86.80 774.39L82.90 770.49Z" fill="none" stroke="#000080" stroke-width="1.2"/><path d="M117.71 749.09L121.61 752.99L117.71 756.89L113.81 752.99Z" fill="none" stroke="#000080" stroke-width="1.2"/><path d="M100.39 763.77L104.29 767.67L100.39 771.57L96.49 767.67Z" fill="none" stroke="#000080" stroke-width="1.2"/><path d="M96.44 763.39L100.34 767.29L96.44 771.19L92.54 767.29Z" fill="none" stroke="#000080" stroke-width="1.2"/><path d="M91.40 765.08L95.30 768.98L91.40 772.88L87.50 768.98Z" fill="none" stroke="#000080" stroke-width="1.2"/><path d="M111.61 754.64L115.51 758.54L111.61 762.44L107.71 758.54Z" fill="none" stroke="#000080" stroke-width="1.2"/><path d="M88.08 768.19L91.98 772.09L88.08 775.99L84.18 772.09Z" fill="none" stroke="#000080" stroke-width="1.2"/><path d="M111.61 759.25L115.51 763.15L111.61 767.05L107.71 763.15Z" fill="none" stroke="#000080" stroke-width="1.2"/><path d="M95.87 765.91L99.77 769.81L95.87 773.71L91.97 769.81Z" fill="none" stroke="#000080" stroke-width="1.2"/><path d="M106.29 757.24L110.19 761.14L106.29 765.04L102.39 761.14Z" fill="none" stroke="#000080" stroke-width="1.2"/><path d="M107.42 756.60L111.32 760.50L107.42 764.40L103.52 760.50Z" fill="none" stroke="#000080" stroke-width="1.2"/><path d="M110.96 753.25L114.86 757.15L110.96 761.05L107.06 757.15Z" fill="none" stroke="#000080" stroke-width="1.2"/><path d="M104.01 758.01L107.91 761.91L104.01 765.81L100.11 761.91Z" fill="none" stroke="#000080" stroke-width="1.2"/><path d="M101.89 762.86L105.79 766.76L101.89 770.66L97.99 766.76Z" fill="none" stroke="#000080" stroke-width="1.2"/><path d="M110.48 756.39L114.38 760.29L110.48 764.19L106.58 760.29Z" fill="none" stroke="#000080" stroke-width="1.2"/><path d="M101.62 761.21L105.52 765.11L101.62 769.01L97.72 765.11Z" fill="none" stroke="#000080" stroke-width="1.2"/><path d="M114.86 755.85L118.76 759.75L114.86 763.65L110.96 759.75Z" fill="none" stroke="#000080" stroke-width="1.2"/><path d="M100.77 761.25L104.67 765.15L100.77 769.05L96.87 765.15Z" fill="none" stroke="#000080" stroke-width="1.2"/><path d="M109.36 750.42L113.26 754.32L109.36 758.22L105.46 754.32Z" fill="none" stroke="#000080" stroke-width="1.2"/><path d="M99.48 762.28L103.38 766.18L99.48 770.08L95.58 766.18Z" fill="none" stroke="#000080" stroke-width="1.2"/><path d="M113.76 751.38L117.66 755.28L113.76 759.18L109.86 755.28Z" fill="none" stroke="#000080" stroke-width="1.2"/><path d="M89.69 772.06L93.59 775.96L89.69 779.86L85.79 775.96Z" fill="none" stroke="#000080" stroke-width="1.2"/><path d="M108.94 754.78L112.84 758.68L108.94 762.58L105.04 758.68Z" fill="none" stroke="#000080" stroke-width="1.2"/><path d="M115.56 755.33L119.46 759.23L115.56 763.13L111.66 759.23Z" fill="none" stroke="#000080" stroke-width="1.2"/><path d="M102.32 757.86L106.22 761.76L102.32 765.66L98.42 761.76Z" fill="none" stroke="#000080" stroke-width="1.2"/><path d="M92.37 766.27L96.27 770.17L92.37 774.07L88.47 770.17Z" fill="none" stroke="#000080" stroke-width="1.2"/><path d="M112.53 753.92L116.43 757.82L112.53 761.72L108.63 757.82Z" fill="none" stroke="#000080" stroke-width="1.2"/><path d="M111.92 757.97L115.82 761.87L111.92 765.77L108.02 761.87Z" fill="none" stroke="#000080" stroke-width="1.2"/><path d="M88.45 776.82L92.35 780.72L88.45 784.62L84.55 780.72Z" fill="none" stroke="#000080" stroke-width="1.2"/><path d="M109.14 754.46L113.04 758.36L109.14 762.26L105.24 758.36Z" fill="none" stroke="#000080" stroke-width="1.2"/><path d="M113.46 749.38L117.36 753.28L113.46 757.18L109.56 753.28Z" fill="none" stroke="#000080" stroke-width="1.2"/><path d="M109.49 750.87L113.39 754.77L109.49 758.67L105.59 754.77Z" fill="none" stroke="#000080" stroke-width="1.2"/><path d="M96.63 767.59L100.53 771.49L96.63 775.39L92.73 771.49Z" fill="none" stroke="#000080" stroke-width="1.2"/><path d="M100.35 763.69L104.25 767.59L100.35 771.49L96.45 767.59Z" fill="none" stroke="#000080" stroke-width="1.2"/><path d="M106.73 758.82L110.63 762.72L106.73 766.62L102.83 762.72Z" fill="none" stroke="#000080" stroke-width="1.2"/><path d="M89.88 769.23L93.78 773.13L89.88 777.03L85.98 773.13Z" fill="none" stroke="#000080" stroke-width="1.2"/><path d="M105.29 758.89L109.19 762.79L105.29 766.69L101.39 762.79Z" fill="none" stroke="#000080" stroke-width="1.2"/><path d="M100.89 759.97L104.79 763.87L100.89 767.77L96.99 763.87Z" fill="none" stroke="#000080" stroke-width="1.2"/><path d="M106.05 759.57L109.95 763.47L106.05 767.37L102.15 763.47Z" fill="none" stroke="#000080" stroke-width="1.2"/><path d="M89.38 767.32L93.28 771.22L89.38 775.12L85.48 771.22Z" fill="none" stroke="#000080" stroke-width="1.2"/><path d="M92.30 761.28L96.20 765.18L92.30 769.08L88.40 765.18Z" fill="none" stroke="#000080" stroke-width="1.2"/><path d="M104.66 758.22L108.56 762.12L104.66 766.02L100.76 762.12Z" fill="none" stroke="#000080" stroke-width="1.2"/><path d="M95.73 764.00L99.63 767.90L95.73 771.80L91.83 767.90Z" fill="none" stroke="#000080" stroke-width="1.2"/><path d="M103.50 762.95L107.40 766.85L103.50 770.75L99.60 766.85Z" fill="none" stroke="#000080" stroke-width="1.2"/><path d="M94.85 764.54L98.75 768.44L94.85 772.34L90.95 768.44Z" fill="none" stroke="#000080" stroke-width="1.2"/><path d="M109.51 753.89L113.41 757.79L109.51 761.69L105.61 757.79Z" fill="none" stroke="#000080" stroke-width="1.2"/><path d="M90.28 768.56L94.18 772.46L90.28 776.36L86.38 772.46Z" fill="none" stroke="#000080" stroke-width="1.2"/><path d="M105.86 758.28L109.76 762.18L105.86 766.08L101.96 762.18Z" fill="none" stroke="#000080" stroke-width="1.2"/><path d="M114.52 750.31L118.42 754.21L114.52 758.11L110.62 754.21Z" fill="none" stroke="#000080" stroke-width="1.2"/><path d="M88.57 772.31L92.47 776.21L88.57 780.11L84.67 776.21Z" fill="none" stroke="#000080" stroke-width="1.2"/><path d="M89.32 771.48L93.22 775.38L89.32 779.28L85.42 775.38Z" fill="none" stroke="#000080" stroke-width="1.2"/><path d="M94.50 763.86L98.40 767.76L94.50 771.66L90.60 767.76Z" fill="none" stroke="#000080" stroke-width="1.2"/><path d="M117.46 750.79L121.36 754.69L117.46 758.59L113.56 754.69Z" fill="none" stroke="#000080" stroke-width="1.2"/><path d="M106.80 755.91L110.70 759.81L106.80 763.71L102.90 759.81Z" fill="none" stroke="#000080" stroke-width="1.2"/><path d="M94.87 763.06L98.77 766.96L94.87 770.86L90.97 766.96Z" fill="none" stroke="#000080" stroke-width="1.2"/><path d="M99.48 760.32L103.38 764.22L99.48 768.12L95.58 764.22Z" fill="none" stroke="#000080" stroke-width="1.2"/><path d="M113.12 753.83L117.02 757.73L113.12 761.63L109.22 757.73Z" fill="none" stroke="#000080" stroke-width="1.2"/><path d="M113.75 750.33L117.65 754.23L113.75 758.13L109.85 754.23Z" fill="none" stroke="#000080" stroke-width="1.2"/><path d="M105.82 757.53L109.72 761.43L105.82 765.33L101.92 761.43Z" fill="none" stroke="#000080" stroke-width="1.2"/><path d="M90.64 765.06L94.54 768.96L90.64 772.86L86.74 768.96Z" fill="none" stroke="#000080" stroke-width="1.2"/><path d="M93.87 767.29L97.77 771.19L93.87 775.09L89.97 771.19Z" fill="none" stroke="#000080" stroke-width="1.2"/><path d="M110.95 752.72L114.85 756.62L110.95 760.52L107.05 756.62Z" fill="none" stroke="#000080" stroke-width="1.2"/><path d="M102.07 756.18L105.97 760.08L102.07 763.98L98.17 760.08Z" fill="none" stroke="#000080" stroke-width="1.2"/><path d="M101.93 758.50L105.83 762.40L101.93 766.30L98.03 762.40Z" fill="none" stroke="#000080" stroke-width="1.2"/><path d="M92.41 764.63L96.31 768.53L92.41 772.43L88.51 768.53Z" fill="none" stroke="#000080" stroke-width="1.2"/><path d="M114.63 753.65L118.53 757.55L114.63 761.45L110.73 757.55Z" fill="none" stroke="#000080" stroke-width="1.2"/><path d="M95.45 765.27L99.35 769.17L95.45 773.07L91.55 769.17Z" fill="none" stroke="#000080" stroke-width="1.2"/><path d="M94.87 766.24L98.77 770.14L94.87 774.04L90.97 770.14Z" fill="none" stroke="#000080" stroke-width="1.2"/><path d="M88.65 760.57L92.55 764.47L88.65 768.37L84.75 764.47Z" fill="none" stroke="#000080" stroke-width="1.2"/><path d="M108.73 759.76L112.63 763.66L108.73 767.56L104.83 763.66Z" fill="none" stroke="#000080" stroke-width="1.2"/><path d="M102.12 765.53L106.02 769.43L102.12 773.33L98.22 769.43Z" fill="none" stroke="#000080" stroke-width="1.2"/><path d="M96.59 765.84L100.49 769.74L96.59 773.64L92.69 769.74Z" fill="none" stroke="#000080" stroke-width="1.2"/><path d="M110.00 755.16L113.90 759.06L110.00 762.96L106.10 759.06Z" fill="none" stroke="#000080" stroke-width="1.2"/><path d="M94.73 765.23L98.63 769.13L94.73 773.03L90.83 769.13Z" fill="none" stroke="#000080" stroke-width="1.2"/><path d="M99.95 758.56L103.85 762.46L99.95 766.36L96.05 762.46Z" fill="none" stroke="#000080" stroke-width="1.2"/><path d="M102.00 761.59L105.90 765.49L102.00 769.39L98.10 765.49Z" fill="none" stroke="#000080" stroke-width="1.2"/><path d="M110.10 755.82L114.00 759.72L110.10 763.62L106.20 759.72Z" fill="none" stroke="#000080" stroke-width="1.2"/><path d="M108.25 759.30L112.15 763.20L108.25 767.10L104.35 763.20Z" fill="none" stroke="#000080" stroke-width="1.2"/><path d="M107.45 756.88L111.35 760.78L107.45 764.68L103.55 760.78Z" fill="none" stroke="#000080" stroke-width="1.2"/><path d="M89.54 768.01L93.44 771.91L89.54 775.81L85.64 771.91Z" fill="none" stroke="#000080" stroke-width="1.2"/><path d="M100.23 754.66L104.13 758.56L100.23 762.46L96.33 758.56Z" fill="none" stroke="#000080" stroke-width="1.2"/><path d="M103.56 757.04L107.46 760.94L103.56 764.84L99.66 760.94Z" fill="none" stroke="#000080" stroke-width="1.2"/><path d="M90.54 769.54L94.44 773.44L90.54 777.34L86.64 773.44Z" fill="none" stroke="#000080" stroke-width="1.2"/><path d="M116.32 749.40L120.22 753.30L116.32 757.20L112.42 753.30Z" fill="none" stroke="#000080" stroke-width="1.2"/><path d="M95.13 763.84L99.03 767.74L95.13 771.64L91.23 767.74Z" fill="none" stroke="#000080" stroke-width="1.2"/><path d="M95.49 764.73L99.39 768.63L95.49 772.53L91.59 768.63Z" fill="none" stroke="#000080" stroke-width="1.2"/><path d="M97.04 769.18L100.94 773.08L97.04 776.98L93.14 773.08Z" fill="none" stroke="#000080" stroke-width="1.2"/><path d="M93.16 767.16L97.06 771.06L93.16 774.96L89.26 771.06Z" fill="none" stroke="#000080" stroke-width="1.2"/><path d="M99.99 763.09L103.89 766.99L99.99 770.89L96.09 766.99Z" fill="none" stroke="#000080" stroke-width="1.2"/><path d="M90.98 768.13L94.88 772.03L90.98 775.93L87.08 772.03Z" fill="none" stroke="#000080" stroke-width="1.2"/><path d="M115.88 752.24L119.78 756.14L115.88 760.04L111.98 756.14Z" fill="none" stroke="#000080" stroke-width="1.2"/><path d="M88.21 767.66L92.11 771.56L88.21 775.46L84.31 771.56Z" fill="none" stroke="#000080" stroke-width="1.2"/><path d="M102.57 757.46L106.47 761.36L102.57 765.26L98.67 761.36Z" fill="none" stroke="#000080" stroke-width="1.2"/><path d="M109.89 759.99L113.79 763.89L109.89 767.79L105.99 763.89Z" fill="none" stroke="#000080" stroke-width="1.2"/><path d="M97.09 763.98L100.99 767.88L97.09 771.78L93.19 767.88Z" fill="none" stroke="#000080" stroke-width="1.2"/><path d="M91.21 765.54L95.11 769.44L91.21 773.34L87.31 769.44Z" fill="none" stroke="#000080" stroke-width="1.2"/><path d="M90.36 768.36L94.26 772.26L90.36 776.16L86.46 772.26Z" fill="none" stroke="#000080" stroke-width="1.2"/><path d="M91.65 764.91L95.55 768.81L91.65 772.71L87.75 768.81Z" fill="none" stroke="#000080" stroke-width="1.2"/><path d="M95.17 761.76L99.07 765.66L95.17 769.56L91.27 765.66Z" fill="none" stroke="#000080" stroke-width="1.2"/><path d="M95.19 765.74L99.09 769.64L95.19 773.54L91.29 769.64Z" fill="none" stroke="#000080" stroke-width="1.2"/><path d="M109.12 756.14L113.02 760.04L109.12 763.94L105.22 760.04Z" fill="none" stroke="#000080" stroke-width="1.2"/><path d="M99.12 763.72L103.02 767.62L99.12 771.52L95.22 767.62Z" fill="none" stroke="#000080" stroke-width="1.2"/><path d="M100.55 761.07L104.45 764.97L100.55 768.87L96.65 764.97Z" fill="none" stroke="#000080" stroke-width="1.2"/><path d="M115.11 748.84L119.01 752.74L115.11 756.64L111.21 752.74Z" fill="none" stroke="#000080" stroke-width="1.2"/><path d="M110.94 750.48L114.84 754.38L110.94 758.28L107.04 754.38Z" fill="none" stroke="#000080" stroke-width="1.2"/><path d="M107.74 759.73L111.64 763.63L107.74 767.53L103.84 763.63Z" fill="none" stroke="#000080" stroke-width="1.2"/><path d="M109.96 754.57L113.86 758.47L109.96 762.37L106.06 758.47Z" fill="none" stroke="#000080" stroke-width="1.2"/><path d="M99.38 765.92L103.28 769.82L99.38 773.72L95.48 769.82Z" fill="none" stroke="#000080" stroke-width="1.2"/><path d="M89.69 767.68L93.59 771.58L89.69 775.48L85.79 771.58Z" fill="none" stroke="#000080" stroke-width="1.2"/><path d="M96.41 767.08L100.31 770.98L96.41 774.88L92.51 770.98Z" fill="none" stroke="#000080" stroke-width="1.2"/><path d="M111.06 755.05L114.96 758.95L111.06 762.85L107.16 758.95Z" fill="none" stroke="#000080" stroke-width="1.2"/><path d="M91.66 766.82L95.56 770.72L91.66 774.62L87.76 770.72Z" fill="none" stroke="#000080" stroke-width="1.2"/><path d="M114.00 749.68L117.90 753.58L114.00 757.48L110.10 753.58Z" fill="none" stroke="#000080" stroke-width="1.2"/><path d="M100.81 759.80L104.71 763.70L100.81 767.60L96.91 763.70Z" fill="none" stroke="#000080" stroke-width="1.2"/><path d="M97.79 759.11L101.69 763.01L97.79 766.91L93.89 763.01Z" fill="none" stroke="#000080" stroke-width="1.2"/><path d="M109.93 752.89L113.83 756.79L109.93 760.69L106.03 756.79Z" fill="none" stroke="#000080" stroke-width="1.2"/><path d="M103.91 758.26L107.81 762.16L103.91 766.06L100.01 762.16Z" fill="none" stroke="#000080" stroke-width="1.2"/><path d="M116.41 748.52L120.31 752.42L116.41 756.32L112.51 752.42Z" fill="none" stroke="#000080" stroke-width="1.2"/><path d="M91.29 769.11L95.19 773.01L91.29 776.91L87.39 773.01Z" fill="none" stroke="#000080" stroke-width="1.2"/><path d="M100.97 759.47L104.87 763.37L100.97 767.27L97.07 763.37Z" fill="none" stroke="#000080" stroke-width="1.2"/><path d="M111.17 746.17L115.07 750.07L111.17 753.97L107.27 750.07Z" fill="none" stroke="#000080" stroke-width="1.2"/><path d="M105.92 756.38L109.82 760.28L105.92 764.18L102.02 760.28Z" fill="none" stroke="#000080" stroke-width="1.2"/><path d="M112.61 759.31L116.51 763.21L112.61 767.11L108.71 763.21Z" fill="none" stroke="#000080" stroke-width="1.2"/><path d="M88.68 770.63L92.58 774.53L88.68 778.43L84.78 774.53Z" fill="none" stroke="#000080" stroke-width="1.2"/><path d="M102.43 757.10L106.33 761.00L102.43 764.90L98.53 761.00Z" fill="none" stroke="#000080" stroke-width="1.2"/><path d="M96.16 764.82L100.06 768.72L96.16 772.62L92.26 768.72Z" fill="none" stroke="#000080" stroke-width="1.2"/><path d="M104.89 758.27L108.79 762.17L104.89 766.07L100.99 762.17Z" fill="none" stroke="#000080" stroke-width="1.2"/><path d="M98.44 760.68L102.34 764.58L98.44 768.48L94.54 764.58Z" fill="none" stroke="#000080" stroke-width="1.2"/><path d="M117.75 751.92L121.65 755.82L117.75 759.72L113.85 755.82Z" fill="none" stroke="#000080" stroke-width="1.2"/><path d="M99.95 758.85L103.85 762.75L99.95 766.65L96.05 762.75Z" fill="none" stroke="#000080" stroke-width="1.2"/><path d="M113.14 754.36L117.04 758.26L113.14 762.16L109.24 758.26Z" fill="none" stroke="#000080" stroke-width="1.2"/><path d="M90.69 767.64L94.59 771.54L90.69 775.44L86.79 771.54Z" fill="none" stroke="#000080" stroke-width="1.2"/><path d="M115.24 752.26L119.14 756.16L115.24 760.06L111.34 756.16Z" fill="none" stroke="#000080" stroke-width="1.2"/><path d="M108.58 751.66L112.48 755.56L108.58 759.46L104.68 755.56Z" fill="none" stroke="#000080" stroke-width="1.2"/><path d="M106.75 756.84L110.65 760.74L106.75 764.64L102.85 760.74Z" fill="none" stroke="#000080" stroke-width="1.2"/><path d="M103.34 759.48L107.24 763.38L103.34 767.28L99.44 763.38Z" fill="none" stroke="#000080" stroke-width="1.2"/><path d="M93.33 765.41L97.23 769.31L93.33 773.21L89.43 769.31Z" fill="none" stroke="#000080" stroke-width="1.2"/><path d="M97.23 763.63L101.13 767.53L97.23 771.43L93.33 767.53Z" fill="none" stroke="#000080" stroke-width="1.2"/><path d="M102.25 754.72L106.15 758.62L102.25 762.52L98.35 758.62Z" fill="none" stroke="#000080" stroke-width="1.2"/><path d="M112.64 761.77L116.54 765.67L112.64 769.57L108.74 765.67Z" fill="none" stroke="#000080" stroke-width="1.2"/><path d="M108.89 751.74L112.79 755.64L108.89 759.54L104.99 755.64Z" fill="none" stroke="#000080" stroke-width="1.2"/><path d="M98.78 761.22L102.68 765.12L98.78 769.02L94.88 765.12Z" fill="none" stroke="#000080" stroke-width="1.2"/><path d="M108.48 755.78L112.38 759.68L108.48 763.58L104.58 759.68Z" fill="none" stroke="#000080" stroke-width="1.2"/><path d="M90.34 768.43L94.24 772.33L90.34 776.23L86.44 772.33Z" fill="none" stroke="#000080" stroke-width="1.2"/><path d="M105.44 757.48L109.34 761.38L105.44 765.28L101.54 761.38Z" fill="none" stroke="#000080" stroke-width="1.2"/><path d="M116.12 749.20L120.02 753.10L116.12 757.00L112.22 753.10Z" fill="none" stroke="#000080" stroke-width="1.2"/><path d="M109.60 755.33L113.50 759.23L109.60 763.13L105.70 759.23Z" fill="none" stroke="#000080" stroke-width="1.2"/><path d="M116.97 743.09L120.87 746.99L116.97 750.89L113.07 746.99Z" fill="none" stroke="#000080" stroke-width="1.2"/><path d="M108.73 755.59L112.63 759.49L108.73 763.39L104.83 759.49Z" fill="none" stroke="#000080" stroke-width="1.2"/><path d="M94.06 762.04L97.96 765.94L94.06 769.84L90.16 765.94Z" fill="none" stroke="#000080" stroke-width="1.2"/><path d="M115.11 754.57L119.01 758.47L115.11 762.37L111.21 758.47Z" fill="none" stroke="#000080" stroke-width="1.2"/><path d="M99.72 761.11L103.62 765.01L99.72 768.91L95.82 765.01Z" fill="none" stroke="#000080" stroke-width="1.2"/><path d="M99.62 758.83L103.52 762.73L99.62 766.63L95.72 762.73Z" fill="none" stroke="#000080" stroke-width="1.2"/><path d="M115.54 747.46L119.44 751.36L115.54 755.26L111.64 751.36Z" fill="none" stroke="#000080" stroke-width="1.2"/><path d="M99.51 760.60L103.41 764.50L99.51 768.40L95.61 764.50Z" fill="none" stroke="#000080" stroke-width="1.2"/><path d="M109.57 752.59L113.47 756.49L109.57 760.39L105.67 756.49Z" fill="none" stroke="#000080" stroke-width="1.2"/><path d="M114.83 751.31L118.73 755.21L114.83 759.11L110.93 755.21Z" fill="none" stroke="#000080" stroke-width="1.2"/><path d="M106.72 760.81L110.62 764.71L106.72 768.61L102.82 764.71Z" fill="none" stroke="#000080" stroke-width="1.2"/><path d="M92.80 766.14L96.70 770.04L92.80 773.94L88.90 770.04Z" fill="none" stroke="#000080" stroke-width="1.2"/><path d="M89.59 766.40L93.49 770.30L89.59 774.20L85.69 770.30Z" fill="none" stroke="#000080" stroke-width="1.2"/><path d="M113.10 752.32L117.00 756.22L113.10 760.12L109.20 756.22Z" fill="none" stroke="#000080" stroke-width="1.2"/><path d="M126.11 741.33L130.01 745.23L126.11 749.13L122.21 745.23Z" fill="none" stroke="#000080" stroke-width="1.2"/><path d="M134.91 738.26L138.81 742.16L134.91 746.06L131.01 742.16Z" fill="none" stroke="#000080" stroke-width="1.2"/><path d="M136.05 742.84L139.95 746.74L136.05 750.64L132.15 746.74Z" fill="none" stroke="#000080" stroke-width="1.2"/><path d="M118.85 745.20L122.75 749.10L118.85 753.00L114.95 749.10Z" fill="none" stroke="#000080" stroke-width="1.2"/><path d="M121.67 745.84L125.57 749.74L121.67 753.64L117.77 749.74Z" fill="none" stroke="#000080" stroke-width="1.2"/><path d="M129.22 740.79L133.12 744.69L129.22 748.59L125.32 744.69Z" fill="none" stroke="#000080" stroke-width="1.2"/><path d="M119.42 744.02L123.32 747.92L119.42 751.82L115.52 747.92Z" fill="none" stroke="#000080" stroke-width="1.2"/><path d="M133.63 734.02L137.53 737.92L133.63 741.82L129.73 737.92Z" fill="none" stroke="#000080" stroke-width="1.2"/><path d="M130.15 750.66L134.05 754.56L130.15 758.46L126.25 754.56Z" fill="none" stroke="#000080" stroke-width="1.2"/><path d="M122.50 749.07L126.40 752.97L122.50 756.87L118.60 752.97Z" fill="none" stroke="#000080" stroke-width="1.2"/><path d="M120.14 745.36L124.04 749.26L120.14 753.16L116.24 749.26Z" fill="none" stroke="#000080" stroke-width="1.2"/><path d="M121.17 750.54L125.07 754.44L121.17 758.34L117.27 754.44Z" fill="none" stroke="#000080" stroke-width="1.2"/><path d="M120.22 752.24L124.12 756.14L120.22 760.04L116.32 756.14Z" fill="none" stroke="#000080" stroke-width="1.2"/><path d="M131.82 742.83L135.72 746.73L131.82 750.63L127.92 746.73Z" fill="none" stroke="#000080" stroke-width="1.2"/><path d="M135.27 730.81L139.17 734.71L135.27 738.61L131.37 734.71Z" fill="none" stroke="#000080" stroke-width="1.2"/><path d="M129.78 745.11L133.68 749.01L129.78 752.91L125.88 749.01Z" fill="none" stroke="#000080" stroke-width="1.2"/><path d="M119.48 749.90L123.38 753.80L119.48 757.70L115.58 753.80Z" fill="none" stroke="#000080" stroke-width="1.2"/><path d="M125.17 743.02L129.07 746.92L125.17 750.82L121.27 746.92Z" fill="none" stroke="#000080" stroke-width="1.2"/><path d="M119.83 743.79L123.73 747.69L119.83 751.59L115.93 747.69Z" fill="none" stroke="#000080" stroke-width="1.2"/><path d="M128.28 746.66L132.18 750.56L128.28 754.46L124.38 750.56Z" fill="none" stroke="#000080" stroke-width="1.2"/><path d="M125.17 748.35L129.07 752.25L125.17 756.15L121.27 752.25Z" fill="none" stroke="#000080" stroke-width="1.2"/><path d="M127.40 746.58L131.30 750.48L127.40 754.38L123.50 750.48Z" fill="none" stroke="#000080" stroke-width="1.2"/><path d="M132.25 740.39L136.15 744.29L132.25 748.19L128.35 744.29Z" fill="none" stroke="#000080" stroke-width="1.2"/><path d="M123.73 743.18L127.63 747.08L123.73 750.98L119.83 747.08Z" fill="none" stroke="#000080" stroke-width="1.2"/><path d="M131.84 741.98L135.74 745.88L131.84 749.78L127.94 745.88Z" fill="none" stroke="#000080" stroke-width="1.2"/><path d="M125.31 740.12L129.21 744.02L125.31 747.92L121.41 744.02Z" fill="none" stroke="#000080" stroke-width="1.2"/><path d="M132.79 740.52L136.69 744.42L132.79 748.32L128.89 744.42Z" fill="none" stroke="#000080" stroke-width="1.2"/><path d="M123.73 748.57L127.63 752.47L123.73 756.37L119.83 752.47Z" fill="none" stroke="#000080" stroke-width="1.2"/><path d="M119.22 745.85L123.12 749.75L119.22 753.65L115.32 749.75Z" fill="none" stroke="#000080" stroke-width="1.2"/><path d="M122.66 749.30L126.56 753.20L122.66 757.10L118.76 753.20Z" fill="none" stroke="#000080" stroke-width="1.2"/><path d="M120.06 749.77L123.96 753.67L120.06 757.57L116.16 753.67Z" fill="none" stroke="#000080" stroke-width="1.2"/><path d="M136.38 732.35L140.28 736.25L136.38 740.15L132.48 736.25Z" fill="none" stroke="#000080" stroke-width="1.2"/><path d="M119.98 753.71L123.88 757.61L119.98 761.51L116.08 757.61Z" fill="none" stroke="#000080" stroke-width="1.2"/><path d="M133.19 740.54L137.09 744.44L133.19 748.34L129.29 744.44Z" fill="none" stroke="#000080" stroke-width="1.2"/><path d="M118.59 746.40L122.49 750.30L118.59 754.20L114.69 750.30Z" fill="none" stroke="#000080" stroke-width="1.2"/><path d="M126.71 743.26L130.61 747.16L126.71 751.06L122.81 747.16Z" fill="none" stroke="#000080" stroke-width="1.2"/><path d="M122.31 746.91L126.21 750.81L122.31 754.71L118.41 750.81Z" fill="none" stroke="#000080" stroke-width="1.2"/><path d="M126.42 746.84L130.32 750.74L126.42 754.64L122.52 750.74Z" fill="none" stroke="#000080" stroke-width="1.2"/><path d="M135.83 739.91L139.73 743.81L135.83 747.71L131.93 743.81Z" fill="none" stroke="#000080" stroke-width="1.2"/><path d="M127.62 739.27L131.52 743.17L127.62 747.07L123.72 743.17Z" fill="none" stroke="#000080" stroke-width="1.2"/><path d="M126.28 748.22L130.18 752.12L126.28 756.02L122.38 752.12Z" fill="none" stroke="#000080" stroke-width="1.2"/><path d="M134.87 738.56L138.77 742.46L134.87 746.36L130.97 742.46Z" fill="none" stroke="#000080" stroke-width="1.2"/><path d="M118.73 748.76L122.63 752.66L118.73 756.56L114.83 752.66Z" fill="none" stroke="#000080" stroke-width="1.2"/><path d="M125.88 752.30L129.78 756.20L125.88 760.10L121.98 756.20Z" fill="none" stroke="#000080" stroke-width="1.2"/><path d="M125.25 737.20L129.15 741.10L125.25 745.00L121.35 741.10Z" fill="none" stroke="#000080" stroke-width="1.2"/><path d="M512.77 706.00L516.67 709.90L512.77 713.80L508.87 709.90Z" fill="none" stroke="#000080" stroke-width="1.2"/><path d="M518.68 710.50L522.58 714.40L518.68 718.30L514.78 714.40Z" fill="none" stroke="#000080" stroke-width="1.2"/><path d="M527.70 707.00L531.60 710.90L527.70 714.80L523.80 710.90Z" fill="none" stroke="#000080" stroke-width="1.2"/><path d="M548.43 704.90L552.33 708.80L548.43 712.70L544.53 708.80Z" fill="none" stroke="#000080" stroke-width="1.2"/><path d="M503.86 712.10L507.76 716.00L503.86 719.90L499.96 716.00Z" fill="none" stroke="#000080" stroke-width="1.2"/><path d="M504.06 712.40L507.96 716.30L504.06 720.20L500.16 716.30Z" fill="none" stroke="#000080" stroke-width="1.2"/><path d="M497.15 719.30L501.05 723.20L497.15 727.10L493.25 723.20Z" fill="none" stroke="#000080" stroke-width="1.2"/><path d="M494.25 716.10L498.15 720.00L494.25 723.90L490.35 720.00Z" fill="none" stroke="#000080" stroke-width="1.2"/><path d="M488.64 708.90L492.54 712.80L488.64 716.70L484.74 712.80Z" fill="none" stroke="#000080" stroke-width="1.2"/><path d="M494.25 712.10L498.15 716.00L494.25 719.90L490.35 716.00Z" fill="none" stroke="#000080" stroke-width="1.2"/><path d="M583.58 716.30L587.48 720.20L583.58 724.10L579.68 720.20Z" fill="none" stroke="#000080" stroke-width="1.2"/><path d="M614.12 714.50L618.02 718.40L614.12 722.30L610.22 718.40Z" fill="none" stroke="#000080" stroke-width="1.2"/><path d="M431.46 705.90L435.36 709.80L431.46 713.70L427.56 709.80Z" fill="none" stroke="#000080" stroke-width="1.2"/><path d="M461.70 704.50L465.60 708.40L461.70 712.30L457.80 708.40Z" fill="none" stroke="#000080" stroke-width="1.2"/><path d="M425.55 706.10L429.45 710.00L425.55 713.90L421.65 710.00Z" fill="none" stroke="#000080" stroke-width="1.2"/><path d="M432.06 718.40L435.96 722.30L432.06 726.20L428.16 722.30Z" fill="none" stroke="#000080" stroke-width="1.2"/><path d="M474.22 721.00L478.12 724.90L474.22 728.80L470.32 724.90Z" fill="none" stroke="#000080" stroke-width="1.2"/><path d="M477.52 722.30L481.42 726.20L477.52 730.10L473.62 726.20Z" fill="none" stroke="#000080" stroke-width="1.2"/><path d="M409.73 713.40L413.63 717.30L409.73 721.20L405.83 717.30Z" fill="none" stroke="#000080" stroke-width="1.2"/><path d="M412.31 708.90L416.21 712.80L412.31 716.70L408.41 712.80Z" fill="none" stroke="#000080" stroke-width="1.2"/><path d="M396.64 714.02L400.54 717.92L396.64 721.82L392.74 717.92Z" fill="none" stroke="#000080" stroke-width="1.2"/><path d="M415.85 712.35L419.75 716.25L415.85 720.15L411.95 716.25Z" fill="none" stroke="#000080" stroke-width="1.2"/><path d="M406.34 711.67L410.24 715.57L406.34 719.47L402.44 715.57Z" fill="none" stroke="#000080" stroke-width="1.2"/><path d="M396.29 712.48L400.19 716.38L396.29 720.28L392.39 716.38Z" fill="none" stroke="#000080" stroke-width="1.2"/><path d="M402.16 712.92L406.06 716.82L402.16 720.72L398.26 716.82Z" fill="none" stroke="#000080" stroke-width="1.2"/><path d="M413.57 712.27L417.47 716.17L413.57 720.07L409.67 716.17Z" fill="none" stroke="#000080" stroke-width="1.2"/><path d="M409.61 714.62L413.51 718.52L409.61 722.42L405.71 718.52Z" fill="none" stroke="#000080" stroke-width="1.2"/><path d="M400.62 712.82L404.52 716.72L400.62 720.62L396.72 716.72Z" fill="none" stroke="#000080" stroke-width="1.2"/><path d="M417.65 711.56L421.55 715.46L417.65 719.36L413.75 715.46Z" fill="none" stroke="#000080" stroke-width="1.2"/><path d="M407.88 715.03L411.78 718.93L407.88 722.83L403.98 718.93Z" fill="none" stroke="#000080" stroke-width="1.2"/><path d="M422.55 710.50L426.45 714.40L422.55 718.30L418.65 714.40Z" fill="none" stroke="#000080" stroke-width="1.2"/><path d="M437.73 710.13L441.63 714.03L437.73 717.93L433.83 714.03Z" fill="none" stroke="#000080" stroke-width="1.2"/><path d="M425.99 713.05L429.89 716.95L425.99 720.85L422.09 716.95Z" fill="none" stroke="#000080" stroke-width="1.2"/><path d="M424.68 713.12L428.58 717.02L424.68 720.92L420.78 717.02Z" fill="none" stroke="#000080" stroke-width="1.2"/><path d="M418.11 712.30L422.01 716.20L418.11 720.10L414.21 716.20Z" fill="none" stroke="#000080" stroke-width="1.2"/><path d="M436.07 713.61L439.97 717.51L436.07 721.41L432.17 717.51Z" fill="none" stroke="#000080" stroke-width="1.2"/><path d="M424.99 712.69L428.89 716.59L424.99 720.49L421.09 716.59Z" fill="none" stroke="#000080" stroke-width="1.2"/><path d="M439.52 712.44L443.42 716.34L439.52 720.24L435.62 716.34Z" fill="none" stroke="#000080" stroke-width="1.2"/><path d="M434.56 714.72L438.46 718.62L434.56 722.52L430.66 718.62Z" fill="none" stroke="#000080" stroke-width="1.2"/><path d="M426.10 713.02L430.00 716.92L426.10 720.82L422.20 716.92Z" fill="none" stroke="#000080" stroke-width="1.2"/><path d="M418.24 713.95L422.14 717.85L418.24 721.75L414.34 717.85Z" fill="none" stroke="#000080" stroke-width="1.2"/><path d="M422.37 715.29L426.27 719.19L422.37 723.09L418.47 719.19Z" fill="none" stroke="#000080" stroke-width="1.2"/><path d="M438.52 711.53L442.42 715.43L438.52 719.33L434.62 715.43Z" fill="none" stroke="#000080" stroke-width="1.2"/><path d="M429.60 713.65L433.50 717.55L429.60 721.45L425.70 717.55Z" fill="none" stroke="#000080" stroke-width="1.2"/><path d="M420.42 713.44L424.32 717.34L420.42 721.24L416.52 717.34Z" fill="none" stroke="#000080" stroke-width="1.2"/><path d="M418.84 708.90L422.74 712.80L418.84 716.70L414.94 712.80Z" fill="none" stroke="#000080" stroke-width="1.2"/><path d="M420.05 710.91L423.95 714.81L420.05 718.71L416.15 714.81Z" fill="none" stroke="#000080" stroke-width="1.2"/><path d="M425.53 709.33L429.43 713.23L425.53 717.13L421.63 713.23Z" fill="none" stroke="#000080" stroke-width="1.2"/><path d="M430.05 712.52L433.95 716.42L430.05 720.32L426.15 716.42Z" fill="none" stroke="#000080" stroke-width="1.2"/><path d="M419.76 713.43L423.66 717.33L419.76 721.23L415.86 717.33Z" fill="none" stroke="#000080" stroke-width="1.2"/><path d="M433.22 713.20L437.12 717.10L433.22 721.00L429.32 717.10Z" fill="none" stroke="#000080" stroke-width="1.2"/><path d="M439.78 713.09L443.68 716.99L439.78 720.89L435.88 716.99Z" fill="none" stroke="#000080" stroke-width="1.2"/><path d="M426.98 711.09L430.88 714.99L426.98 718.89L423.08 714.99Z" fill="none" stroke="#000080" stroke-width="1.2"/><path d="M428.08 711.65L431.98 715.55L428.08 719.45L424.18 715.55Z" fill="none" stroke="#000080" stroke-width="1.2"/><path d="M419.26 715.56L423.16 719.46L419.26 723.36L415.36 719.46Z" fill="none" stroke="#000080" stroke-width="1.2"/><path d="M436.51 713.06L440.41 716.96L436.51 720.86L432.61 716.96Z" fill="none" stroke="#000080" stroke-width="1.2"/><path d="M434.16 709.89L438.06 713.79L434.16 717.69L430.26 713.79Z" fill="none" stroke="#000080" stroke-width="1.2"/><path d="M420.39 711.38L424.29 715.28L420.39 719.18L416.49 715.28Z" fill="none" stroke="#000080" stroke-width="1.2"/><path d="M421.32 712.46L425.22 716.36L421.32 720.26L417.42 716.36Z" fill="none" stroke="#000080" stroke-width="1.2"/><path d="M440.05 715.35L443.95 719.25L440.05 723.15L436.15 719.25Z" fill="none" stroke="#000080" stroke-width="1.2"/><path d="M439.54 711.03L443.44 714.93L439.54 718.83L435.64 714.93Z" fill="none" stroke="#000080" stroke-width="1.2"/><path d="M428.59 712.93L432.49 716.83L428.59 720.73L424.69 716.83Z" fill="none" stroke="#000080" stroke-width="1.2"/><path d="M426.93 710.45L430.83 714.35L426.93 718.25L423.03 714.35Z" fill="none" stroke="#000080" stroke-width="1.2"/><path d="M439.18 715.09L443.08 718.99L439.18 722.89L435.28 718.99Z" fill="none" stroke="#000080" stroke-width="1.2"/><path d="M429.04 713.54L432.94 717.44L429.04 721.34L425.14 717.44Z" fill="none" stroke="#000080" stroke-width="1.2"/><path d="M435.27 713.83L439.17 717.73L435.27 721.63L431.37 717.73Z" fill="none" stroke="#000080" stroke-width="1.2"/><path d="M426.00 713.06L429.90 716.96L426.00 720.86L422.10 716.96Z" fill="none" stroke="#000080" stroke-width="1.2"/><path d="M432.67 711.13L436.57 715.03L432.67 718.93L428.77 715.03Z" fill="none" stroke="#000080" stroke-width="1.2"/><path d="M426.04 712.56L429.94 716.46L426.04 720.36L422.14 716.46Z" fill="none" stroke="#000080" stroke-width="1.2"/><path d="M435.00 714.04L438.90 717.94L435.00 721.84L431.10 717.94Z" fill="none" stroke="#000080" stroke-width="1.2"/><path d="M424.51 710.92L428.41 714.82L424.51 718.72L420.61 714.82Z" fill="none" stroke="#000080" stroke-width="1.2"/><path d="M418.29 711.63L422.19 715.53L418.29 719.43L414.39 715.53Z" fill="none" stroke="#000080" stroke-width="1.2"/><path d="M423.56 710.83L427.46 714.73L423.56 718.63L419.66 714.73Z" fill="none" stroke="#000080" stroke-width="1.2"/><path d="M432.30 713.27L436.20 717.17L432.30 721.07L428.40 717.17Z" fill="none" stroke="#000080" stroke-width="1.2"/><path d="M425.70 712.64L429.60 716.54L425.70 720.44L421.80 716.54Z" fill="none" stroke="#000080" stroke-width="1.2"/><path d="M425.75 710.74L429.65 714.64L425.75 718.54L421.85 714.64Z" fill="none" stroke="#000080" stroke-width="1.2"/><path d="M437.20 715.52L441.10 719.42L437.20 723.32L433.30 719.42Z" fill="none" stroke="#000080" stroke-width="1.2"/><path d="M429.45 712.39L433.35 716.29L429.45 720.19L425.55 716.29Z" fill="none" stroke="#000080" stroke-width="1.2"/><path d="M421.70 713.96L425.60 717.86L421.70 721.76L417.80 717.86Z" fill="none" stroke="#000080" stroke-width="1.2"/><path d="M433.27 712.32L437.17 716.22L433.27 720.12L429.37 716.22Z" fill="none" stroke="#000080" stroke-width="1.2"/><path d="M434.13 713.08L438.03 716.98L434.13 720.88L430.23 716.98Z" fill="none" stroke="#000080" stroke-width="1.2"/><path d="M432.70 711.38L436.60 715.28L432.70 719.18L428.80 715.28Z" fill="none" stroke="#000080" stroke-width="1.2"/><path d="M431.78 711.65L435.68 715.55L431.78 719.45L427.88 715.55Z" fill="none" stroke="#000080" stroke-width="1.2"/><path d="M418.64 711.47L422.54 715.37L418.64 719.27L414.74 715.37Z" fill="none" stroke="#000080" stroke-width="1.2"/><path d="M427.75 713.12L431.65 717.02L427.75 720.92L423.85 717.02Z" fill="none" stroke="#000080" stroke-width="1.2"/><path d="M431.94 714.44L435.84 718.34L431.94 722.24L428.04 718.34Z" fill="none" stroke="#000080" stroke-width="1.2"/><path d="M428.43 713.36L432.33 717.26L428.43 721.16L424.53 717.26Z" fill="none" stroke="#000080" stroke-width="1.2"/><path d="M425.03 713.00L428.93 716.90L425.03 720.80L421.13 716.90Z" fill="none" stroke="#000080" stroke-width="1.2"/><path d="M422.30 711.75L426.20 715.65L422.30 719.55L418.40 715.65Z" fill="none" stroke="#000080" stroke-width="1.2"/><path d="M431.52 713.03L435.42 716.93L431.52 720.83L427.62 716.93Z" fill="none" stroke="#000080" stroke-width="1.2"/><path d="M423.28 715.27L427.18 719.17L423.28 723.07L419.38 719.17Z" fill="none" stroke="#000080" stroke-width="1.2"/><path d="M424.17 712.80L428.07 716.70L424.17 720.60L420.27 716.70Z" fill="none" stroke="#000080" stroke-width="1.2"/><path d="M420.57 712.59L424.47 716.49L420.57 720.39L416.67 716.49Z" fill="none" stroke="#000080" stroke-width="1.2"/><path d="M431.55 713.01L435.45 716.91L431.55 720.81L427.65 716.91Z" fill="none" stroke="#000080" stroke-width="1.2"/><path d="M430.05 710.38L433.95 714.28L430.05 718.18L426.15 714.28Z" fill="none" stroke="#000080" stroke-width="1.2"/><path d="M436.07 711.45L439.97 715.35L436.07 719.25L432.17 715.35Z" fill="none" stroke="#000080" stroke-width="1.2"/><path d="M435.95 712.38L439.85 716.28L435.95 720.18L432.05 716.28Z" fill="none" stroke="#000080" stroke-width="1.2"/><path d="M431.17 713.25L435.07 717.15L431.17 721.05L427.27 717.15Z" fill="none" stroke="#000080" stroke-width="1.2"/><path d="M439.13 711.05L443.03 714.95L439.13 718.85L435.23 714.95Z" fill="none" stroke="#000080" stroke-width="1.2"/><path d="M437.72 712.15L441.62 716.05L437.72 719.95L433.82 716.05Z" fill="none" stroke="#000080" stroke-width="1.2"/><path d="M420.41 712.35L424.31 716.25L420.41 720.15L416.51 716.25Z" fill="none" stroke="#000080" stroke-width="1.2"/><path d="M431.90 711.92L435.80 715.82L431.90 719.72L428.00 715.82Z" fill="none" stroke="#000080" stroke-width="1.2"/><path d="M426.32 712.94L430.22 716.84L426.32 720.74L422.42 716.84Z" fill="none" stroke="#000080" stroke-width="1.2"/><path d="M439.46 713.70L443.36 717.60L439.46 721.50L435.56 717.60Z" fill="none" stroke="#000080" stroke-width="1.2"/><path d="M439.21 711.25L443.11 715.15L439.21 719.05L435.31 715.15Z" fill="none" stroke="#000080" stroke-width="1.2"/><path d="M469.54 712.32L473.44 716.22L469.54 720.12L465.64 716.22Z" fill="none" stroke="#000080" stroke-width="1.2"/><path d="M452.55 714.07L456.45 717.97L452.55 721.87L448.65 717.97Z" fill="none" stroke="#000080" stroke-width="1.2"/><path d="M448.67 712.67L452.57 716.57L448.67 720.47L444.77 716.57Z" fill="none" stroke="#000080" stroke-width="1.2"/><path d="M443.73 711.94L447.63 715.84L443.73 719.74L439.83 715.84Z" fill="none" stroke="#000080" stroke-width="1.2"/><path d="M463.55 713.12L467.45 717.02L463.55 720.92L459.65 717.02Z" fill="none" stroke="#000080" stroke-width="1.2"/><path d="M440.46 712.42L444.36 716.32L440.46 720.22L436.56 716.32Z" fill="none" stroke="#000080" stroke-width="1.2"/><path d="M463.56 715.35L467.46 719.25L463.56 723.15L459.66 719.25Z" fill="none" stroke="#000080" stroke-width="1.2"/><path d="M448.11 713.71L452.01 717.61L448.11 721.51L444.21 717.61Z" fill="none" stroke="#000080" stroke-width="1.2"/><path d="M458.34 712.74L462.24 716.64L458.34 720.54L454.44 716.64Z" fill="none" stroke="#000080" stroke-width="1.2"/><path d="M459.44 712.78L463.34 716.68L459.44 720.58L455.54 716.68Z" fill="none" stroke="#000080" stroke-width="1.2"/><path d="M462.91 712.25L466.81 716.15L462.91 720.05L459.01 716.15Z" fill="none" stroke="#000080" stroke-width="1.2"/><path d="M456.10 712.41L460.00 716.31L456.10 720.21L452.20 716.31Z" fill="none" stroke="#000080" stroke-width="1.2"/><path d="M454.02 714.09L457.92 717.99L454.02 721.89L450.12 717.99Z" fill="none" stroke="#000080" stroke-width="1.2"/><path d="M462.45 713.62L466.35 717.52L462.45 721.42L458.55 717.52Z" fill="none" stroke="#000080" stroke-width="1.2"/><path d="M453.76 713.22L457.66 717.12L453.76 721.02L449.86 717.12Z" fill="none" stroke="#000080" stroke-width="1.2"/><path d="M466.75 714.70L470.65 718.60L466.75 722.50L462.85 718.60Z" fill="none" stroke="#000080" stroke-width="1.2"/><path d="M452.92 712.97L456.82 716.87L452.92 720.77L449.02 716.87Z" fill="none" stroke="#000080" stroke-width="1.2"/><path d="M461.34 710.39L465.24 714.29L461.34 718.19L457.44 714.29Z" fill="none" stroke="#000080" stroke-width="1.2"/><path d="M451.65 713.08L455.55 716.98L451.65 720.88L447.75 716.98Z" fill="none" stroke="#000080" stroke-width="1.2"/><path d="M465.66 712.20L469.56 716.10L465.66 720.00L461.76 716.10Z" fill="none" stroke="#000080" stroke-width="1.2"/><path d="M442.05 714.78L445.95 718.68L442.05 722.58L438.15 718.68Z" fill="none" stroke="#000080" stroke-width="1.2"/><path d="M460.94 712.37L464.84 716.27L460.94 720.17L457.04 716.27Z" fill="none" stroke="#000080" stroke-width="1.2"/><path d="M467.43 714.67L471.33 718.57L467.43 722.47L463.53 718.57Z" fill="none" stroke="#000080" stroke-width="1.2"/><path d="M454.44 711.81L458.34 715.71L454.44 719.61L450.54 715.71Z" fill="none" stroke="#000080" stroke-width="1.2"/><path d="M444.68 712.81L448.58 716.71L444.68 720.61L440.78 716.71Z" fill="none" stroke="#000080" stroke-width="1.2"/><path d="M464.46 713.05L468.36 716.95L464.46 720.85L460.56 716.95Z" fill="none" stroke="#000080" stroke-width="1.2"/><path d="M463.86 714.82L467.76 718.72L463.86 722.62L459.96 718.72Z" fill="none" stroke="#000080" stroke-width="1.2"/><path d="M440.84 716.70L444.74 720.60L440.84 724.50L436.94 720.60Z" fill="none" stroke="#000080" stroke-width="1.2"/><path d="M461.14 712.27L465.04 716.17L461.14 720.07L457.24 716.17Z" fill="none" stroke="#000080" stroke-width="1.2"/><path d="M465.37 711.15L469.27 715.05L465.37 718.95L461.47 715.05Z" fill="none" stroke="#000080" stroke-width="1.2"/><path d="M461.47 710.65L465.37 714.55L461.47 718.45L457.57 714.55Z" fill="none" stroke="#000080" stroke-width="1.2"/><path d="M448.86 714.76L452.76 718.66L448.86 722.56L444.96 718.66Z" fill="none" stroke="#000080" stroke-width="1.2"/><path d="M452.50 714.02L456.40 717.92L452.50 721.82L448.60 717.92Z" fill="none" stroke="#000080" stroke-width="1.2"/><path d="M458.77 713.64L462.67 717.54L458.77 721.44L454.87 717.54Z" fill="none" stroke="#000080" stroke-width="1.2"/><path d="M442.23 713.48L446.13 717.38L442.23 721.28L438.33 717.38Z" fill="none" stroke="#000080" stroke-width="1.2"/><path d="M457.35 713.23L461.25 717.13L457.35 721.03L453.45 717.13Z" fill="none" stroke="#000080" stroke-width="1.2"/><path d="M453.04 712.39L456.94 716.29L453.04 720.19L449.14 716.29Z" fill="none" stroke="#000080" stroke-width="1.2"/><path d="M458.10 713.79L462.00 717.69L458.10 721.59L454.20 717.69Z" fill="none" stroke="#000080" stroke-width="1.2"/><path d="M441.74 712.40L445.64 716.30L441.74 720.20L437.84 716.30Z" fill="none" stroke="#000080" stroke-width="1.2"/><path d="M444.61 710.39L448.51 714.29L444.61 718.19L440.71 714.29Z" fill="none" stroke="#000080" stroke-width="1.2"/><path d="M456.74 712.71L460.64 716.61L456.74 720.51L452.84 716.61Z" fill="none" stroke="#000080" stroke-width="1.2"/><path d="M447.98 712.75L451.88 716.65L447.98 720.55L444.08 716.65Z" fill="none" stroke="#000080" stroke-width="1.2"/><path d="M455.60 714.63L459.50 718.53L455.60 722.43L451.70 718.53Z" fill="none" stroke="#000080" stroke-width="1.2"/><path d="M447.11 712.74L451.01 716.64L447.11 720.54L443.21 716.64Z" fill="none" stroke="#000080" stroke-width="1.2"/><path d="M461.50 712.11L465.40 716.01L461.50 719.91L457.60 716.01Z" fill="none" stroke="#000080" stroke-width="1.2"/><path d="M442.63 713.28L446.53 717.18L442.63 721.08L438.73 717.18Z" fill="none" stroke="#000080" stroke-width="1.2"/><path d="M457.91 713.11L461.81 717.01L457.91 720.91L454.01 717.01Z" fill="none" stroke="#000080" stroke-width="1.2"/><path d="M466.41 711.93L470.31 715.83L466.41 719.73L462.51 715.83Z" fill="none" stroke="#000080" stroke-width="1.2"/><path d="M440.95 714.56L444.85 718.46L440.95 722.36L437.05 718.46Z" fill="none" stroke="#000080" stroke-width="1.2"/><path d="M441.68 714.39L445.58 718.29L441.68 722.19L437.78 718.29Z" fill="none" stroke="#000080" stroke-width="1.2"/><path d="M446.77 712.31L450.67 716.21L446.77 720.11L442.87 716.21Z" fill="none" stroke="#000080" stroke-width="1.2"/><path d="M469.29 713.06L473.19 716.96L469.29 720.86L465.39 716.96Z" fill="none" stroke="#000080" stroke-width="1.2"/><path d="M458.84 712.25L462.74 716.15L458.84 720.05L454.94 716.15Z" fill="none" stroke="#000080" stroke-width="1.2"/><path d="M447.13 712.03L451.03 715.93L447.13 719.83L443.23 715.93Z" fill="none" stroke="#000080" stroke-width="1.2"/><path d="M451.66 712.13L455.56 716.03L451.66 719.93L447.76 716.03Z" fill="none" stroke="#000080" stroke-width="1.2"/><path d="M465.04 713.19L468.94 717.09L465.04 720.99L461.14 717.09Z" fill="none" stroke="#000080" stroke-width="1.2"/><path d="M465.65 711.70L469.55 715.60L465.65 719.50L461.75 715.60Z" fill="none" stroke="#000080" stroke-width="1.2"/><path d="M457.87 712.73L461.77 716.63L457.87 720.53L453.97 716.63Z" fill="none" stroke="#000080" stroke-width="1.2"/><path d="M442.98 711.70L446.88 715.60L442.98 719.50L439.08 715.60Z" fill="none" stroke="#000080" stroke-width="1.2"/><path d="M446.15 713.77L450.05 717.67L446.15 721.57L442.25 717.67Z" fill="none" stroke="#000080" stroke-width="1.2"/><path d="M462.91 711.99L466.81 715.89L462.91 719.79L459.01 715.89Z" fill="none" stroke="#000080" stroke-width="1.2"/><path d="M454.19 710.93L458.09 714.83L454.19 718.73L450.29 714.83Z" fill="none" stroke="#000080" stroke-width="1.2"/><path d="M454.06 712.01L457.96 715.91L454.06 719.81L450.16 715.91Z" fill="none" stroke="#000080" stroke-width="1.2"/><path d="M444.72 712.03L448.62 715.93L444.72 719.83L440.82 715.93Z" fill="none" stroke="#000080" stroke-width="1.2"/><path d="M466.52 713.57L470.42 717.47L466.52 721.37L462.62 717.47Z" fill="none" stroke="#000080" stroke-width="1.2"/><path d="M447.70 713.28L451.60 717.18L447.70 721.08L443.80 717.18Z" fill="none" stroke="#000080" stroke-width="1.2"/><path d="M447.13 713.57L451.03 717.47L447.13 721.37L443.23 717.47Z" fill="none" stroke="#000080" stroke-width="1.2"/><path d="M441.03 708.92L444.93 712.82L441.03 716.72L437.13 712.82Z" fill="none" stroke="#000080" stroke-width="1.2"/><path d="M460.73 714.70L464.63 718.60L460.73 722.50L456.83 718.60Z" fill="none" stroke="#000080" stroke-width="1.2"/><path d="M454.24 715.45L458.14 719.35L454.24 723.25L450.34 719.35Z" fill="none" stroke="#000080" stroke-width="1.2"/><path d="M448.81 713.90L452.71 717.80L448.81 721.70L444.91 717.80Z" fill="none" stroke="#000080" stroke-width="1.2"/><path d="M461.98 712.87L465.88 716.77L461.98 720.67L458.08 716.77Z" fill="none" stroke="#000080" stroke-width="1.2"/><path d="M446.99 713.04L450.89 716.94L446.99 720.84L443.09 716.94Z" fill="none" stroke="#000080" stroke-width="1.2"/><path d="M452.12 711.42L456.02 715.32L452.12 719.22L448.22 715.32Z" fill="none" stroke="#000080" stroke-width="1.2"/><path d="M454.13 713.52L458.03 717.42L454.13 721.32L450.23 717.42Z" fill="none" stroke="#000080" stroke-width="1.2"/><path d="M462.07 713.22L465.97 717.12L462.07 721.02L458.17 717.12Z" fill="none" stroke="#000080" stroke-width="1.2"/><path d="M460.26 714.34L464.16 718.24L460.26 722.14L456.36 718.24Z" fill="none" stroke="#000080" stroke-width="1.2"/><path d="M459.47 712.92L463.37 716.82L459.47 720.72L455.57 716.82Z" fill="none" stroke="#000080" stroke-width="1.2"/><path d="M441.90 712.78L445.80 716.68L441.90 720.58L438.00 716.68Z" fill="none" stroke="#000080" stroke-width="1.2"/><path d="M452.39 709.63L456.29 713.53L452.39 717.43L448.49 713.53Z" fill="none" stroke="#000080" stroke-width="1.2"/><path d="M455.66 711.80L459.56 715.70L455.66 719.60L451.76 715.70Z" fill="none" stroke="#000080" stroke-width="1.2"/><path d="M442.89 713.83L446.79 717.73L442.89 721.63L438.99 717.73Z" fill="none" stroke="#000080" stroke-width="1.2"/><path d="M468.18 712.04L472.08 715.94L468.18 719.84L464.28 715.94Z" fill="none" stroke="#000080" stroke-width="1.2"/><path d="M447.38 712.49L451.28 716.39L447.38 720.29L443.48 716.39Z" fill="none" stroke="#000080" stroke-width="1.2"/><path d="M447.74 713.03L451.64 716.93L447.74 720.83L443.84 716.93Z" fill="none" stroke="#000080" stroke-width="1.2"/><path d="M449.26 715.65L453.16 719.55L449.26 723.45L445.36 719.55Z" fill="none" stroke="#000080" stroke-width="1.2"/><path d="M445.46 713.49L449.36 717.39L445.46 721.29L441.56 717.39Z" fill="none" stroke="#000080" stroke-width="1.2"/><path d="M452.16 713.62L456.06 717.52L452.16 721.42L448.26 717.52Z" fill="none" stroke="#000080" stroke-width="1.2"/><path d="M443.31 713.28L447.21 717.18L443.31 721.08L439.41 717.18Z" fill="none" stroke="#000080" stroke-width="1.2"/><path d="M467.75 713.28L471.65 717.18L467.75 721.08L463.85 717.18Z" fill="none" stroke="#000080" stroke-width="1.2"/><path d="M440.59 712.20L444.49 716.10L440.59 720.00L436.69 716.10Z" fill="none" stroke="#000080" stroke-width="1.2"/><path d="M454.69 711.70L458.59 715.60L454.69 719.50L450.79 715.60Z" fill="none" stroke="#000080" stroke-width="1.2"/><path d="M461.87 715.17L465.77 719.07L461.87 722.97L457.97 719.07Z" fill="none" stroke="#000080" stroke-width="1.2"/><path d="M449.31 713.16L453.21 717.06L449.31 720.96L445.41 717.06Z" fill="none" stroke="#000080" stroke-width="1.2"/><path d="M443.54 712.11L447.44 716.01L443.54 719.91L439.64 716.01Z" fill="none" stroke="#000080" stroke-width="1.2"/><path d="M442.70 713.20L446.60 717.10L442.70 721.00L438.80 717.10Z" fill="none" stroke="#000080" stroke-width="1.2"/><path d="M443.97 711.94L447.87 715.84L443.97 719.74L440.07 715.84Z" fill="none" stroke="#000080" stroke-width="1.2"/><path d="M447.42 711.50L451.32 715.40L447.42 719.30L443.52 715.40Z" fill="none" stroke="#000080" stroke-width="1.2"/><path d="M447.44 713.43L451.34 717.33L447.44 721.23L443.54 717.33Z" fill="none" stroke="#000080" stroke-width="1.2"/><path d="M461.12 713.08L465.02 716.98L461.12 720.88L457.22 716.98Z" fill="none" stroke="#000080" stroke-width="1.2"/><path d="M451.30 713.66L455.20 717.56L451.30 721.46L447.40 717.56Z" fill="none" stroke="#000080" stroke-width="1.2"/><path d="M452.70 712.82L456.60 716.72L452.70 720.62L448.80 716.72Z" fill="none" stroke="#000080" stroke-width="1.2"/><path d="M466.99 711.40L470.89 715.30L466.99 719.20L463.09 715.30Z" fill="none" stroke="#000080" stroke-width="1.2"/><path d="M462.89 710.91L466.79 714.81L462.89 718.71L458.99 714.81Z" fill="none" stroke="#000080" stroke-width="1.2"/><path d="M459.76 714.38L463.66 718.28L459.76 722.18L455.86 718.28Z" fill="none" stroke="#000080" stroke-width="1.2"/><path d="M461.94 712.58L465.84 716.48L461.94 720.38L458.04 716.48Z" fill="none" stroke="#000080" stroke-width="1.2"/><path d="M451.56 714.80L455.46 718.70L451.56 722.60L447.66 718.70Z" fill="none" stroke="#000080" stroke-width="1.2"/><path d="M442.05 712.67L445.95 716.57L442.05 720.47L438.15 716.57Z" fill="none" stroke="#000080" stroke-width="1.2"/><path d="M448.65 714.45L452.55 718.35L448.65 722.25L444.75 718.35Z" fill="none" stroke="#000080" stroke-width="1.2"/><path d="M463.02 713.15L466.92 717.05L463.02 720.95L459.12 717.05Z" fill="none" stroke="#000080" stroke-width="1.2"/><path d="M443.98 712.86L447.88 716.76L443.98 720.66L440.08 716.76Z" fill="none" stroke="#000080" stroke-width="1.2"/><path d="M465.90 711.46L469.80 715.36L465.90 719.26L462.00 715.36Z" fill="none" stroke="#000080" stroke-width="1.2"/><path d="M452.95 712.28L456.85 716.18L452.95 720.08L449.05 716.18Z" fill="none" stroke="#000080" stroke-width="1.2"/><path d="M449.99 711.02L453.89 714.92L449.99 718.82L446.09 714.92Z" fill="none" stroke="#000080" stroke-width="1.2"/><path d="M461.90 711.76L465.80 715.66L461.90 719.56L458.00 715.66Z" fill="none" stroke="#000080" stroke-width="1.2"/><path d="M456.00 712.50L459.90 716.40L456.00 720.30L452.10 716.40Z" fill="none" stroke="#000080" stroke-width="1.2"/><path d="M468.27 711.64L472.17 715.54L468.27 719.44L464.37 715.54Z" fill="none" stroke="#000080" stroke-width="1.2"/><path d="M443.62 713.85L447.52 717.75L443.62 721.65L439.72 717.75Z" fill="none" stroke="#000080" stroke-width="1.2"/><path d="M453.11 712.18L457.01 716.08L453.11 719.98L449.21 716.08Z" fill="none" stroke="#000080" stroke-width="1.2"/><path d="M463.13 708.90L467.03 712.80L463.13 716.70L459.23 712.80Z" fill="none" stroke="#000080" stroke-width="1.2"/><path d="M457.97 712.21L461.87 716.11L457.97 720.01L454.07 716.11Z" fill="none" stroke="#000080" stroke-width="1.2"/><path d="M464.53 715.68L468.43 719.58L464.53 723.48L460.63 719.58Z" fill="none" stroke="#000080" stroke-width="1.2"/><path d="M441.06 713.78L444.96 717.68L441.06 721.58L437.16 717.68Z" fill="none" stroke="#000080" stroke-width="1.2"/><path d="M454.55 711.48L458.45 715.38L454.55 719.28L450.65 715.38Z" fill="none" stroke="#000080" stroke-width="1.2"/><path d="M448.39 713.28L452.29 717.18L448.39 721.08L444.49 717.18Z" fill="none" stroke="#000080" stroke-width="1.2"/><path d="M456.97 712.81L460.87 716.71L456.97 720.61L453.07 716.71Z" fill="none" stroke="#000080" stroke-width="1.2"/><path d="M450.64 711.98L454.54 715.88L450.64 719.78L446.74 715.88Z" fill="none" stroke="#000080" stroke-width="1.2"/><path d="M469.58 713.70L473.48 717.60L469.58 721.50L465.68 717.60Z" fill="none" stroke="#000080" stroke-width="1.2"/><path d="M452.11 711.56L456.01 715.46L452.11 719.36L448.21 715.46Z" fill="none" stroke="#000080" stroke-width="1.2"/><path d="M465.05 713.45L468.95 717.35L465.05 721.25L461.15 717.35Z" fill="none" stroke="#000080" stroke-width="1.2"/><path d="M443.03 712.96L446.93 716.86L443.03 720.76L439.13 716.86Z" fill="none" stroke="#000080" stroke-width="1.2"/><path d="M467.11 713.08L471.01 716.98L467.11 720.88L463.21 716.98Z" fill="none" stroke="#000080" stroke-width="1.2"/><path d="M460.59 710.75L464.49 714.65L460.59 718.55L456.69 714.65Z" fill="none" stroke="#000080" stroke-width="1.2"/><path d="M458.79 712.69L462.69 716.59L458.79 720.49L454.89 716.59Z" fill="none" stroke="#000080" stroke-width="1.2"/><path d="M455.44 712.91L459.34 716.81L455.44 720.71L451.54 716.81Z" fill="none" stroke="#000080" stroke-width="1.2"/><path d="M445.62 712.69L449.52 716.59L445.62 720.49L441.72 716.59Z" fill="none" stroke="#000080" stroke-width="1.2"/><path d="M449.44 713.03L453.34 716.93L449.44 720.83L445.54 716.93Z" fill="none" stroke="#000080" stroke-width="1.2"/><path d="M454.37 710.28L458.27 714.18L454.37 718.08L450.47 714.18Z" fill="none" stroke="#000080" stroke-width="1.2"/><path d="M464.57 716.87L468.47 720.77L464.57 724.67L460.67 720.77Z" fill="none" stroke="#000080" stroke-width="1.2"/><path d="M460.88 710.88L464.78 714.78L460.88 718.68L456.98 714.78Z" fill="none" stroke="#000080" stroke-width="1.2"/><path d="M450.97 712.35L454.87 716.25L450.97 720.15L447.07 716.25Z" fill="none" stroke="#000080" stroke-width="1.2"/><path d="M460.48 712.71L464.38 716.61L460.48 720.51L456.58 716.61Z" fill="none" stroke="#000080" stroke-width="1.2"/><path d="M442.69 713.23L446.59 717.13L442.69 721.03L438.79 717.13Z" fill="none" stroke="#000080" stroke-width="1.2"/><path d="M457.51 712.59L461.41 716.49L457.51 720.39L453.61 716.49Z" fill="none" stroke="#000080" stroke-width="1.2"/><path d="M467.98 711.88L471.88 715.78L467.98 719.68L464.08 715.78Z" fill="none" stroke="#000080" stroke-width="1.2"/><path d="M461.58 712.83L465.48 716.73L461.58 720.63L457.68 716.73Z" fill="none" stroke="#000080" stroke-width="1.2"/><path d="M468.82 709.20L472.72 713.10L468.82 717.00L464.92 713.10Z" fill="none" stroke="#000080" stroke-width="1.2"/><path d="M460.73 712.69L464.63 716.59L460.73 720.49L456.83 716.59Z" fill="none" stroke="#000080" stroke-width="1.2"/><path d="M446.34 711.29L450.24 715.19L446.34 719.09L442.44 715.19Z" fill="none" stroke="#000080" stroke-width="1.2"/><path d="M466.99 714.16L470.89 718.06L466.99 721.96L463.09 718.06Z" fill="none" stroke="#000080" stroke-width="1.2"/><path d="M451.89 712.58L455.79 716.48L451.89 720.38L447.99 716.48Z" fill="none" stroke="#000080" stroke-width="1.2"/><path d="M451.79 711.45L455.69 715.35L451.79 719.25L447.89 715.35Z" fill="none" stroke="#000080" stroke-width="1.2"/><path d="M467.41 710.87L471.31 714.77L467.41 718.67L463.51 714.77Z" fill="none" stroke="#000080" stroke-width="1.2"/><path d="M451.68 712.28L455.58 716.18L451.68 720.08L447.78 716.18Z" fill="none" stroke="#000080" stroke-width="1.2"/><path d="M461.56 711.51L465.46 715.41L461.56 719.31L457.66 715.41Z" fill="none" stroke="#000080" stroke-width="1.2"/><path d="M466.71 712.50L470.61 716.40L466.71 720.30L462.81 716.40Z" fill="none" stroke="#000080" stroke-width="1.2"/><path d="M458.76 714.59L462.66 718.49L458.76 722.39L454.86 718.49Z" fill="none" stroke="#000080" stroke-width="1.2"/><path d="M445.10 712.88L449.00 716.78L445.10 720.68L441.20 716.78Z" fill="none" stroke="#000080" stroke-width="1.2"/><path d="M441.95 712.02L445.85 715.92L441.95 719.82L438.05 715.92Z" fill="none" stroke="#000080" stroke-width="1.2"/><path d="M465.01 712.45L468.91 716.35L465.01 720.25L461.11 716.35Z" fill="none" stroke="#000080" stroke-width="1.2"/><path d="M477.78 711.15L481.68 715.05L477.78 718.95L473.88 715.05Z" fill="none" stroke="#000080" stroke-width="1.2"/><path d="M486.42 712.38L490.32 716.28L486.42 720.18L482.52 716.28Z" fill="none" stroke="#000080" stroke-width="1.2"/><path d="M487.54 714.94L491.44 718.84L487.54 722.74L483.64 718.84Z" fill="none" stroke="#000080" stroke-width="1.2"/><path d="M470.66 710.79L474.56 714.69L470.66 718.59L466.76 714.69Z" fill="none" stroke="#000080" stroke-width="1.2"/><path d="M473.43 711.97L477.33 715.87L473.43 719.77L469.53 715.87Z" fill="none" stroke="#000080" stroke-width="1.2"/><path d="M480.83 711.85L484.73 715.75L480.83 719.65L476.93 715.75Z" fill="none" stroke="#000080" stroke-width="1.2"/><path d="M471.22 710.39L475.12 714.29L471.22 718.19L467.32 714.29Z" fill="none" stroke="#000080" stroke-width="1.2"/><path d="M485.16 709.94L489.06 713.84L485.16 717.74L481.26 713.84Z" fill="none" stroke="#000080" stroke-width="1.2"/><path d="M481.74 716.90L485.64 720.80L481.74 724.70L477.84 720.80Z" fill="none" stroke="#000080" stroke-width="1.2"/><path d="M474.24 713.78L478.14 717.68L474.24 721.58L470.34 717.68Z" fill="none" stroke="#000080" stroke-width="1.2"/><path d="M471.93 711.27L475.83 715.17L471.93 719.07L468.03 715.17Z" fill="none" stroke="#000080" stroke-width="1.2"/><path d="M472.94 714.08L476.84 717.98L472.94 721.88L469.04 717.98Z" fill="none" stroke="#000080" stroke-width="1.2"/><path d="M472.00 714.61L475.90 718.51L472.00 722.41L468.10 718.51Z" fill="none" stroke="#000080" stroke-width="1.2"/><path d="M483.38 713.64L487.28 717.54L483.38 721.44L479.48 717.54Z" fill="none" stroke="#000080" stroke-width="1.2"/><path d="M486.77 708.90L490.67 712.80L486.77 716.70L482.87 712.80Z" fill="none" stroke="#000080" stroke-width="1.2"/><path d="M481.38 714.11L485.28 718.01L481.38 721.91L477.48 718.01Z" fill="none" stroke="#000080" stroke-width="1.2"/><path d="M471.27 713.25L475.17 717.15L471.27 721.05L467.37 717.15Z" fill="none" stroke="#000080" stroke-width="1.2"/><path d="M476.86 711.68L480.76 715.58L476.86 719.48L472.96 715.58Z" fill="none" stroke="#000080" stroke-width="1.2"/><path d="M471.62 710.41L475.52 714.31L471.62 718.21L467.72 714.31Z" fill="none" stroke="#000080" stroke-width="1.2"/><path d="M479.91 714.40L483.81 718.30L479.91 722.20L476.01 718.30Z" fill="none" stroke="#000080" stroke-width="1.2"/><path d="M476.86 714.25L480.76 718.15L476.86 722.05L472.96 718.15Z" fill="none" stroke="#000080" stroke-width="1.2"/><path d="M479.04 714.08L482.94 717.98L479.04 721.88L475.14 717.98Z" fill="none" stroke="#000080" stroke-width="1.2"/><path d="M483.81 712.59L487.71 716.49L483.81 720.39L479.91 716.49Z" fill="none" stroke="#000080" stroke-width="1.2"/><path d="M475.45 711.32L479.35 715.22L475.45 719.12L471.55 715.22Z" fill="none" stroke="#000080" stroke-width="1.2"/><path d="M483.40 713.23L487.30 717.13L483.40 721.03L479.50 717.13Z" fill="none" stroke="#000080" stroke-width="1.2"/><path d="M477.00 710.33L480.90 714.23L477.00 718.13L473.10 714.23Z" fill="none" stroke="#000080" stroke-width="1.2"/><path d="M484.33 712.82L488.23 716.72L484.33 720.62L480.43 716.72Z" fill="none" stroke="#000080" stroke-width="1.2"/><path d="M475.45 713.92L479.35 717.82L475.45 721.72L471.55 717.82Z" fill="none" stroke="#000080" stroke-width="1.2"/><path d="M471.02 711.22L474.92 715.12L471.02 719.02L467.12 715.12Z" fill="none" stroke="#000080" stroke-width="1.2"/><path d="M474.40 713.94L478.30 717.84L474.40 721.74L470.50 717.84Z" fill="none" stroke="#000080" stroke-width="1.2"/><path d="M471.84 713.37L475.74 717.27L471.84 721.17L467.94 717.27Z" fill="none" stroke="#000080" stroke-width="1.2"/><path d="M487.86 709.98L491.76 713.88L487.86 717.78L483.96 713.88Z" fill="none" stroke="#000080" stroke-width="1.2"/><path d="M471.77 715.24L475.67 719.14L471.77 723.04L467.87 719.14Z" fill="none" stroke="#000080" stroke-width="1.2"/><path d="M484.73 712.95L488.63 716.85L484.73 720.75L480.83 716.85Z" fill="none" stroke="#000080" stroke-width="1.2"/><path d="M470.41 711.29L474.31 715.19L470.41 719.09L466.51 715.19Z" fill="none" stroke="#000080" stroke-width="1.2"/><path d="M478.37 712.27L482.27 716.17L478.37 720.07L474.47 716.17Z" fill="none" stroke="#000080" stroke-width="1.2"/><path d="M474.05 712.68L477.95 716.58L474.05 720.48L470.15 716.58Z" fill="none" stroke="#000080" stroke-width="1.2"/><path d="M478.09 713.91L481.99 717.81L478.09 721.71L474.19 717.81Z" fill="none" stroke="#000080" stroke-width="1.2"/><path d="M487.32 713.46L491.22 717.36L487.32 721.26L483.42 717.36Z" fill="none" stroke="#000080" stroke-width="1.2"/><path d="M479.27 710.63L483.17 714.53L479.27 718.43L475.37 714.53Z" fill="none" stroke="#000080" stroke-width="1.2"/><path d="M477.95 714.53L481.85 718.43L477.95 722.33L474.05 718.43Z" fill="none" stroke="#000080" stroke-width="1.2"/><path d="M486.38 712.52L490.28 716.42L486.38 720.32L482.48 716.42Z" fill="none" stroke="#000080" stroke-width="1.2"/><path d="M470.54 712.47L474.44 716.37L470.54 720.27L466.64 716.37Z" fill="none" stroke="#000080" stroke-width="1.2"/><path d="M477.56 716.38L481.46 720.28L477.56 724.18L473.66 720.28Z" fill="none" stroke="#000080" stroke-width="1.2"/><path d="M476.94 708.90L480.84 712.80L476.94 716.70L473.04 712.80Z" fill="none" stroke="#000080" stroke-width="1.2"/></svg></body></html>
